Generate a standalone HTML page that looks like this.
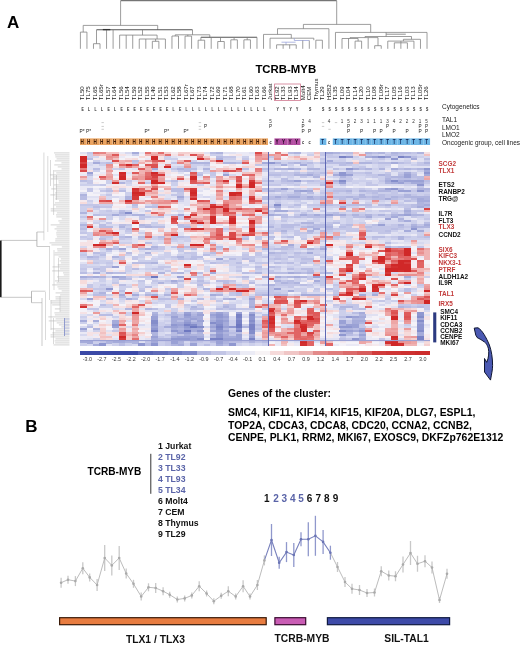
<!DOCTYPE html>
<html><head><meta charset="utf-8"><style>
html,body{margin:0;padding:0;background:#fff;}
svg{display:block;filter:blur(0.35px);font-family:"Liberation Sans",sans-serif;}
</style></head><body>
<svg width="520" height="646" viewBox="0 0 520 646">
<text x="7.00" y="27.70" font-size="17" font-weight="bold" fill="#000">A</text>
<text x="25.20" y="431.70" font-size="17" font-weight="bold" fill="#000">B</text>
<text transform="translate(83.80,100.2) rotate(-90) scale(1.2,1)" font-size="5.1" fill="#1a1a1a">TL50</text>
<text transform="translate(90.30,100.2) rotate(-90) scale(1.2,1)" font-size="5.1" fill="#1a1a1a">TL75</text>
<text transform="translate(96.80,100.2) rotate(-90) scale(1.2,1)" font-size="5.1" fill="#1a1a1a">TL65</text>
<text transform="translate(103.30,100.2) rotate(-90) scale(1.2,1)" font-size="5.1" fill="#1a1a1a">TL65r</text>
<text transform="translate(109.80,100.2) rotate(-90) scale(1.2,1)" font-size="5.1" fill="#1a1a1a">TL57</text>
<text transform="translate(116.30,100.2) rotate(-90) scale(1.2,1)" font-size="5.1" fill="#1a1a1a">TL64</text>
<text transform="translate(122.80,100.2) rotate(-90) scale(1.2,1)" font-size="5.1" fill="#1a1a1a">TL56</text>
<text transform="translate(129.30,100.2) rotate(-90) scale(1.2,1)" font-size="5.1" fill="#1a1a1a">TL54</text>
<text transform="translate(135.80,100.2) rotate(-90) scale(1.2,1)" font-size="5.1" fill="#1a1a1a">TL59</text>
<text transform="translate(142.30,100.2) rotate(-90) scale(1.2,1)" font-size="5.1" fill="#1a1a1a">TL52</text>
<text transform="translate(148.80,100.2) rotate(-90) scale(1.2,1)" font-size="5.1" fill="#1a1a1a">TL55</text>
<text transform="translate(155.30,100.2) rotate(-90) scale(1.2,1)" font-size="5.1" fill="#1a1a1a">TL49</text>
<text transform="translate(161.80,100.2) rotate(-90) scale(1.2,1)" font-size="5.1" fill="#1a1a1a">TL51</text>
<text transform="translate(168.30,100.2) rotate(-90) scale(1.2,1)" font-size="5.1" fill="#1a1a1a">TL53</text>
<text transform="translate(174.80,100.2) rotate(-90) scale(1.2,1)" font-size="5.1" fill="#1a1a1a">TL62</text>
<text transform="translate(181.30,100.2) rotate(-90) scale(1.2,1)" font-size="5.1" fill="#1a1a1a">TL58</text>
<text transform="translate(187.80,100.2) rotate(-90) scale(1.2,1)" font-size="5.1" fill="#1a1a1a">TL67r</text>
<text transform="translate(194.30,100.2) rotate(-90) scale(1.2,1)" font-size="5.1" fill="#1a1a1a">TL67</text>
<text transform="translate(200.80,100.2) rotate(-90) scale(1.2,1)" font-size="5.1" fill="#1a1a1a">TL73</text>
<text transform="translate(207.30,100.2) rotate(-90) scale(1.2,1)" font-size="5.1" fill="#1a1a1a">TL74</text>
<text transform="translate(213.80,100.2) rotate(-90) scale(1.2,1)" font-size="5.1" fill="#1a1a1a">TL72</text>
<text transform="translate(220.30,100.2) rotate(-90) scale(1.2,1)" font-size="5.1" fill="#1a1a1a">TL69</text>
<text transform="translate(226.80,100.2) rotate(-90) scale(1.2,1)" font-size="5.1" fill="#1a1a1a">TL71</text>
<text transform="translate(233.30,100.2) rotate(-90) scale(1.2,1)" font-size="5.1" fill="#1a1a1a">TL68</text>
<text transform="translate(239.80,100.2) rotate(-90) scale(1.2,1)" font-size="5.1" fill="#1a1a1a">TL70</text>
<text transform="translate(246.30,100.2) rotate(-90) scale(1.2,1)" font-size="5.1" fill="#1a1a1a">TL61</text>
<text transform="translate(252.80,100.2) rotate(-90) scale(1.2,1)" font-size="5.1" fill="#1a1a1a">TL60</text>
<text transform="translate(259.30,100.2) rotate(-90) scale(1.2,1)" font-size="5.1" fill="#1a1a1a">TL63</text>
<text transform="translate(265.80,100.2) rotate(-90) scale(1.2,1)" font-size="5.1" fill="#1a1a1a">TL66</text>
<text transform="translate(272.30,100.2) rotate(-90) scale(1.2,1)" font-size="5.1" fill="#1a1a1a">Jurkat</text>
<text transform="translate(278.80,100.2) rotate(-90) scale(1.2,1)" font-size="5.1" fill="#1a1a1a">TL92</text>
<text transform="translate(285.30,100.2) rotate(-90) scale(1.2,1)" font-size="5.1" fill="#1a1a1a">TL33</text>
<text transform="translate(291.80,100.2) rotate(-90) scale(1.2,1)" font-size="5.1" fill="#1a1a1a">TL93</text>
<text transform="translate(298.30,100.2) rotate(-90) scale(1.2,1)" font-size="5.1" fill="#1a1a1a">TL34</text>
<text transform="translate(304.80,100.2) rotate(-90) scale(1.2,1)" font-size="5.1" fill="#1a1a1a">Molt4</text>
<text transform="translate(311.30,100.2) rotate(-90) scale(1.2,1)" font-size="5.1" fill="#1a1a1a">CEM</text>
<text transform="translate(317.80,100.2) rotate(-90) scale(1.2,1)" font-size="5.1" fill="#1a1a1a">Thymus</text>
<text transform="translate(324.30,100.2) rotate(-90) scale(1.2,1)" font-size="5.1" fill="#1a1a1a">TL29</text>
<text transform="translate(330.80,100.2) rotate(-90) scale(1.2,1)" font-size="5.1" fill="#1a1a1a">HSB2</text>
<text transform="translate(337.30,100.2) rotate(-90) scale(1.2,1)" font-size="5.1" fill="#1a1a1a">TL35</text>
<text transform="translate(343.80,100.2) rotate(-90) scale(1.2,1)" font-size="5.1" fill="#1a1a1a">TL09</text>
<text transform="translate(350.30,100.2) rotate(-90) scale(1.2,1)" font-size="5.1" fill="#1a1a1a">TL04</text>
<text transform="translate(356.80,100.2) rotate(-90) scale(1.2,1)" font-size="5.1" fill="#1a1a1a">TL14</text>
<text transform="translate(363.30,100.2) rotate(-90) scale(1.2,1)" font-size="5.1" fill="#1a1a1a">TL20</text>
<text transform="translate(369.80,100.2) rotate(-90) scale(1.2,1)" font-size="5.1" fill="#1a1a1a">TL10</text>
<text transform="translate(376.30,100.2) rotate(-90) scale(1.2,1)" font-size="5.1" fill="#1a1a1a">TL08</text>
<text transform="translate(382.80,100.2) rotate(-90) scale(1.2,1)" font-size="5.1" fill="#1a1a1a">TL08r</text>
<text transform="translate(389.30,100.2) rotate(-90) scale(1.2,1)" font-size="5.1" fill="#1a1a1a">TL17</text>
<text transform="translate(395.80,100.2) rotate(-90) scale(1.2,1)" font-size="5.1" fill="#1a1a1a">TL05</text>
<text transform="translate(402.30,100.2) rotate(-90) scale(1.2,1)" font-size="5.1" fill="#1a1a1a">TL16</text>
<text transform="translate(408.80,100.2) rotate(-90) scale(1.2,1)" font-size="5.1" fill="#1a1a1a">TL03</text>
<text transform="translate(415.30,100.2) rotate(-90) scale(1.2,1)" font-size="5.1" fill="#1a1a1a">TL13</text>
<text transform="translate(421.80,100.2) rotate(-90) scale(1.2,1)" font-size="5.1" fill="#1a1a1a">TL05r</text>
<text transform="translate(428.30,100.2) rotate(-90) scale(1.2,1)" font-size="5.1" fill="#1a1a1a">TL26</text>
<rect x="274.6" y="84" width="25.8" height="16.6" fill="none" stroke="#d07890" stroke-width="0.8"/>
<text x="255.40" y="72.70" font-size="11.4" font-weight="bold" fill="#000">TCRB-MYB</text>
<text transform="translate(82.55,110.9) scale(0.72,1)" font-size="4.9" font-weight="bold" fill="#222" text-anchor="middle">E</text>
<text transform="translate(89.05,110.9) scale(0.72,1)" font-size="4.9" font-weight="bold" fill="#222" text-anchor="middle">L</text>
<text transform="translate(95.55,110.9) scale(0.72,1)" font-size="4.9" font-weight="bold" fill="#222" text-anchor="middle">L</text>
<text transform="translate(102.05,110.9) scale(0.72,1)" font-size="4.9" font-weight="bold" fill="#222" text-anchor="middle">L</text>
<text transform="translate(108.55,110.9) scale(0.72,1)" font-size="4.9" font-weight="bold" fill="#222" text-anchor="middle">E</text>
<text transform="translate(115.05,110.9) scale(0.72,1)" font-size="4.9" font-weight="bold" fill="#222" text-anchor="middle">L</text>
<text transform="translate(121.55,110.9) scale(0.72,1)" font-size="4.9" font-weight="bold" fill="#222" text-anchor="middle">E</text>
<text transform="translate(128.05,110.9) scale(0.72,1)" font-size="4.9" font-weight="bold" fill="#222" text-anchor="middle">E</text>
<text transform="translate(134.55,110.9) scale(0.72,1)" font-size="4.9" font-weight="bold" fill="#222" text-anchor="middle">E</text>
<text transform="translate(141.05,110.9) scale(0.72,1)" font-size="4.9" font-weight="bold" fill="#222" text-anchor="middle">E</text>
<text transform="translate(147.55,110.9) scale(0.72,1)" font-size="4.9" font-weight="bold" fill="#222" text-anchor="middle">E</text>
<text transform="translate(154.05,110.9) scale(0.72,1)" font-size="4.9" font-weight="bold" fill="#222" text-anchor="middle">E</text>
<text transform="translate(160.55,110.9) scale(0.72,1)" font-size="4.9" font-weight="bold" fill="#222" text-anchor="middle">E</text>
<text transform="translate(167.05,110.9) scale(0.72,1)" font-size="4.9" font-weight="bold" fill="#222" text-anchor="middle">E</text>
<text transform="translate(173.55,110.9) scale(0.72,1)" font-size="4.9" font-weight="bold" fill="#222" text-anchor="middle">L</text>
<text transform="translate(180.05,110.9) scale(0.72,1)" font-size="4.9" font-weight="bold" fill="#222" text-anchor="middle">E</text>
<text transform="translate(186.55,110.9) scale(0.72,1)" font-size="4.9" font-weight="bold" fill="#222" text-anchor="middle">L</text>
<text transform="translate(193.05,110.9) scale(0.72,1)" font-size="4.9" font-weight="bold" fill="#222" text-anchor="middle">L</text>
<text transform="translate(199.55,110.9) scale(0.72,1)" font-size="4.9" font-weight="bold" fill="#222" text-anchor="middle">L</text>
<text transform="translate(206.05,110.9) scale(0.72,1)" font-size="4.9" font-weight="bold" fill="#222" text-anchor="middle">L</text>
<text transform="translate(212.55,110.9) scale(0.72,1)" font-size="4.9" font-weight="bold" fill="#222" text-anchor="middle">L</text>
<text transform="translate(219.05,110.9) scale(0.72,1)" font-size="4.9" font-weight="bold" fill="#222" text-anchor="middle">L</text>
<text transform="translate(225.55,110.9) scale(0.72,1)" font-size="4.9" font-weight="bold" fill="#222" text-anchor="middle">L</text>
<text transform="translate(232.05,110.9) scale(0.72,1)" font-size="4.9" font-weight="bold" fill="#222" text-anchor="middle">L</text>
<text transform="translate(238.55,110.9) scale(0.72,1)" font-size="4.9" font-weight="bold" fill="#222" text-anchor="middle">L</text>
<text transform="translate(245.05,110.9) scale(0.72,1)" font-size="4.9" font-weight="bold" fill="#222" text-anchor="middle">L</text>
<text transform="translate(251.55,110.9) scale(0.72,1)" font-size="4.9" font-weight="bold" fill="#222" text-anchor="middle">L</text>
<text transform="translate(258.05,110.9) scale(0.72,1)" font-size="4.9" font-weight="bold" fill="#222" text-anchor="middle">L</text>
<text transform="translate(264.55,110.9) scale(0.72,1)" font-size="4.9" font-weight="bold" fill="#222" text-anchor="middle">L</text>
<text transform="translate(277.55,110.9) scale(0.72,1)" font-size="4.9" font-weight="bold" fill="#222" text-anchor="middle">Y</text>
<text transform="translate(284.05,110.9) scale(0.72,1)" font-size="4.9" font-weight="bold" fill="#222" text-anchor="middle">Y</text>
<text transform="translate(290.55,110.9) scale(0.72,1)" font-size="4.9" font-weight="bold" fill="#222" text-anchor="middle">Y</text>
<text transform="translate(297.05,110.9) scale(0.72,1)" font-size="4.9" font-weight="bold" fill="#222" text-anchor="middle">Y</text>
<text transform="translate(310.05,110.9) scale(0.72,1)" font-size="4.9" font-weight="bold" fill="#222" text-anchor="middle">S</text>
<text transform="translate(323.05,110.9) scale(0.72,1)" font-size="4.9" font-weight="bold" fill="#222" text-anchor="middle">S</text>
<text transform="translate(329.55,110.9) scale(0.72,1)" font-size="4.9" font-weight="bold" fill="#222" text-anchor="middle">S</text>
<text transform="translate(336.05,110.9) scale(0.72,1)" font-size="4.9" font-weight="bold" fill="#222" text-anchor="middle">S</text>
<text transform="translate(342.55,110.9) scale(0.72,1)" font-size="4.9" font-weight="bold" fill="#222" text-anchor="middle">S</text>
<text transform="translate(349.05,110.9) scale(0.72,1)" font-size="4.9" font-weight="bold" fill="#222" text-anchor="middle">S</text>
<text transform="translate(355.55,110.9) scale(0.72,1)" font-size="4.9" font-weight="bold" fill="#222" text-anchor="middle">S</text>
<text transform="translate(362.05,110.9) scale(0.72,1)" font-size="4.9" font-weight="bold" fill="#222" text-anchor="middle">S</text>
<text transform="translate(368.55,110.9) scale(0.72,1)" font-size="4.9" font-weight="bold" fill="#222" text-anchor="middle">S</text>
<text transform="translate(375.05,110.9) scale(0.72,1)" font-size="4.9" font-weight="bold" fill="#222" text-anchor="middle">S</text>
<text transform="translate(381.55,110.9) scale(0.72,1)" font-size="4.9" font-weight="bold" fill="#222" text-anchor="middle">S</text>
<text transform="translate(388.05,110.9) scale(0.72,1)" font-size="4.9" font-weight="bold" fill="#222" text-anchor="middle">S</text>
<text transform="translate(394.55,110.9) scale(0.72,1)" font-size="4.9" font-weight="bold" fill="#222" text-anchor="middle">S</text>
<text transform="translate(401.05,110.9) scale(0.72,1)" font-size="4.9" font-weight="bold" fill="#222" text-anchor="middle">S</text>
<text transform="translate(407.55,110.9) scale(0.72,1)" font-size="4.9" font-weight="bold" fill="#222" text-anchor="middle">S</text>
<text transform="translate(414.05,110.9) scale(0.72,1)" font-size="4.9" font-weight="bold" fill="#222" text-anchor="middle">S</text>
<text transform="translate(420.55,110.9) scale(0.72,1)" font-size="4.9" font-weight="bold" fill="#222" text-anchor="middle">S</text>
<text transform="translate(427.05,110.9) scale(0.72,1)" font-size="4.9" font-weight="bold" fill="#222" text-anchor="middle">S</text>
<text x="442.00" y="108.60" font-size="6.5" fill="#222">Cytogenetics</text>
<text x="442.00" y="122.10" font-size="6.5" fill="#222">TAL1</text>
<text x="442.00" y="129.60" font-size="6.5" fill="#222">LMO1</text>
<text x="442.00" y="136.90" font-size="6.5" fill="#222">LMO2</text>
<text x="442.00" y="144.60" font-size="6.5" fill="#222">Oncogenic group, cell lines</text>
<text x="270.55" y="123.00" font-size="4.6" fill="#333" text-anchor="middle">5</text>
<text x="303.05" y="123.00" font-size="4.6" fill="#333" text-anchor="middle">2</text>
<text x="309.55" y="123.00" font-size="4.6" fill="#333" text-anchor="middle">4</text>
<text x="342.05" y="123.00" font-size="4.6" fill="#333" text-anchor="middle">1</text>
<text x="348.55" y="123.00" font-size="4.6" fill="#333" text-anchor="middle">5</text>
<text x="355.05" y="123.00" font-size="4.6" fill="#333" text-anchor="middle">2</text>
<text x="361.55" y="123.00" font-size="4.6" fill="#333" text-anchor="middle">3</text>
<text x="368.05" y="123.00" font-size="4.6" fill="#333" text-anchor="middle">1</text>
<text x="374.55" y="123.00" font-size="4.6" fill="#333" text-anchor="middle">1</text>
<text x="381.05" y="123.00" font-size="4.6" fill="#333" text-anchor="middle">1</text>
<text x="387.55" y="123.00" font-size="4.6" fill="#333" text-anchor="middle">3</text>
<text x="394.05" y="123.00" font-size="4.6" fill="#333" text-anchor="middle">4</text>
<text x="400.55" y="123.00" font-size="4.6" fill="#333" text-anchor="middle">2</text>
<text x="407.05" y="123.00" font-size="4.6" fill="#333" text-anchor="middle">2</text>
<text x="413.55" y="123.00" font-size="4.6" fill="#333" text-anchor="middle">2</text>
<text x="420.05" y="123.00" font-size="4.6" fill="#333" text-anchor="middle">1</text>
<text x="426.55" y="123.00" font-size="4.6" fill="#333" text-anchor="middle">5</text>
<text x="329.05" y="123.00" font-size="4.6" fill="#333" text-anchor="middle">4</text>
<text x="270.55" y="128.20" font-size="4.6" fill="#222" text-anchor="middle">P</text>
<text x="303.05" y="128.20" font-size="4.6" fill="#222" text-anchor="middle">P</text>
<text x="348.55" y="128.20" font-size="4.6" fill="#222" text-anchor="middle">P</text>
<text x="387.55" y="128.20" font-size="4.6" fill="#222" text-anchor="middle">P</text>
<text x="420.05" y="128.20" font-size="4.6" fill="#222" text-anchor="middle">P</text>
<text x="426.55" y="128.20" font-size="4.6" fill="#222" text-anchor="middle">P</text>
<text x="205.55" y="128.20" font-size="4.6" fill="#222" text-anchor="middle">P</text>
<text x="82.05" y="132.60" font-size="4.8" fill="#222" text-anchor="middle">P*</text>
<text x="88.55" y="132.60" font-size="4.8" fill="#222" text-anchor="middle">P*</text>
<text x="147.05" y="132.60" font-size="4.8" fill="#222" text-anchor="middle">P*</text>
<text x="166.55" y="132.60" font-size="4.8" fill="#222" text-anchor="middle">P*</text>
<text x="186.05" y="132.60" font-size="4.8" fill="#222" text-anchor="middle">P*</text>
<text x="303.05" y="132.60" font-size="4.8" fill="#222" text-anchor="middle">P</text>
<text x="309.55" y="132.60" font-size="4.8" fill="#222" text-anchor="middle">P</text>
<text x="348.55" y="132.60" font-size="4.8" fill="#222" text-anchor="middle">P</text>
<text x="361.55" y="132.60" font-size="4.8" fill="#222" text-anchor="middle">P</text>
<text x="374.55" y="132.60" font-size="4.8" fill="#222" text-anchor="middle">P</text>
<text x="381.05" y="132.60" font-size="4.8" fill="#222" text-anchor="middle">P</text>
<text x="394.05" y="132.60" font-size="4.8" fill="#222" text-anchor="middle">P</text>
<text x="407.05" y="132.60" font-size="4.8" fill="#222" text-anchor="middle">P</text>
<text x="420.05" y="132.60" font-size="4.8" fill="#222" text-anchor="middle">P</text>
<text x="426.55" y="132.60" font-size="4.8" fill="#222" text-anchor="middle">P</text>
<line x1="101.49" y1="122.60" x2="103.89" y2="122.60" stroke="#999" stroke-width="0.5"/>
<line x1="101.49" y1="126.40" x2="103.89" y2="126.40" stroke="#999" stroke-width="0.5"/>
<line x1="101.49" y1="129.30" x2="103.89" y2="129.30" stroke="#999" stroke-width="0.5"/>
<line x1="198.71" y1="122.60" x2="201.11" y2="122.60" stroke="#999" stroke-width="0.5"/>
<line x1="198.71" y1="126.40" x2="201.11" y2="126.40" stroke="#999" stroke-width="0.5"/>
<line x1="198.71" y1="129.30" x2="201.11" y2="129.30" stroke="#999" stroke-width="0.5"/>
<line x1="334.82" y1="122.60" x2="337.22" y2="122.60" stroke="#999" stroke-width="0.5"/>
<line x1="328.34" y1="129.30" x2="330.74" y2="129.30" stroke="#999" stroke-width="0.5"/>
<line x1="321.86" y1="122.60" x2="324.26" y2="122.60" stroke="#999" stroke-width="0.5"/>
<line x1="321.86" y1="126.40" x2="324.26" y2="126.40" stroke="#999" stroke-width="0.5"/>
<rect x="80.00" y="138.40" width="6.53" height="6.60" fill="#eba461"/>
<rect x="86.48" y="138.40" width="6.53" height="6.60" fill="#eba461"/>
<rect x="92.96" y="138.40" width="6.53" height="6.60" fill="#eba461"/>
<rect x="99.44" y="138.40" width="6.53" height="6.60" fill="#eba461"/>
<rect x="105.93" y="138.40" width="6.53" height="6.60" fill="#eba461"/>
<rect x="112.41" y="138.40" width="6.53" height="6.60" fill="#eba461"/>
<rect x="118.89" y="138.40" width="6.53" height="6.60" fill="#eba461"/>
<rect x="125.37" y="138.40" width="6.53" height="6.60" fill="#eba461"/>
<rect x="131.85" y="138.40" width="6.53" height="6.60" fill="#eba461"/>
<rect x="138.33" y="138.40" width="6.53" height="6.60" fill="#eba461"/>
<rect x="144.81" y="138.40" width="6.53" height="6.60" fill="#eba461"/>
<rect x="151.30" y="138.40" width="6.53" height="6.60" fill="#eba461"/>
<rect x="157.78" y="138.40" width="6.53" height="6.60" fill="#eba461"/>
<rect x="164.26" y="138.40" width="6.53" height="6.60" fill="#eba461"/>
<rect x="170.74" y="138.40" width="6.53" height="6.60" fill="#eba461"/>
<rect x="177.22" y="138.40" width="6.53" height="6.60" fill="#eba461"/>
<rect x="183.70" y="138.40" width="6.53" height="6.60" fill="#eba461"/>
<rect x="190.19" y="138.40" width="6.53" height="6.60" fill="#eba461"/>
<rect x="196.67" y="138.40" width="6.53" height="6.60" fill="#eba461"/>
<rect x="203.15" y="138.40" width="6.53" height="6.60" fill="#eba461"/>
<rect x="209.63" y="138.40" width="6.53" height="6.60" fill="#eba461"/>
<rect x="216.11" y="138.40" width="6.53" height="6.60" fill="#eba461"/>
<rect x="222.59" y="138.40" width="6.53" height="6.60" fill="#eba461"/>
<rect x="229.07" y="138.40" width="6.53" height="6.60" fill="#eba461"/>
<rect x="235.56" y="138.40" width="6.53" height="6.60" fill="#eba461"/>
<rect x="242.04" y="138.40" width="6.53" height="6.60" fill="#eba461"/>
<rect x="248.52" y="138.40" width="6.53" height="6.60" fill="#eba461"/>
<rect x="255.00" y="138.40" width="6.53" height="6.60" fill="#eba461"/>
<rect x="261.48" y="138.40" width="6.53" height="6.60" fill="#eba461"/>
<rect x="274.44" y="138.40" width="6.53" height="6.60" fill="#b34fa2"/>
<rect x="280.93" y="138.40" width="6.53" height="6.60" fill="#b34fa2"/>
<rect x="287.41" y="138.40" width="6.53" height="6.60" fill="#b34fa2"/>
<rect x="293.89" y="138.40" width="6.53" height="6.60" fill="#b34fa2"/>
<rect x="319.81" y="138.40" width="6.53" height="6.60" fill="#6db6e6"/>
<rect x="332.78" y="138.40" width="6.53" height="6.60" fill="#6db6e6"/>
<rect x="339.26" y="138.40" width="6.53" height="6.60" fill="#6db6e6"/>
<rect x="345.74" y="138.40" width="6.53" height="6.60" fill="#6db6e6"/>
<rect x="352.22" y="138.40" width="6.53" height="6.60" fill="#6db6e6"/>
<rect x="358.70" y="138.40" width="6.53" height="6.60" fill="#6db6e6"/>
<rect x="365.19" y="138.40" width="6.53" height="6.60" fill="#6db6e6"/>
<rect x="371.67" y="138.40" width="6.53" height="6.60" fill="#6db6e6"/>
<rect x="378.15" y="138.40" width="6.53" height="6.60" fill="#6db6e6"/>
<rect x="384.63" y="138.40" width="6.53" height="6.60" fill="#6db6e6"/>
<rect x="391.11" y="138.40" width="6.53" height="6.60" fill="#6db6e6"/>
<rect x="397.59" y="138.40" width="6.53" height="6.60" fill="#6db6e6"/>
<rect x="404.07" y="138.40" width="6.53" height="6.60" fill="#6db6e6"/>
<rect x="410.56" y="138.40" width="6.53" height="6.60" fill="#6db6e6"/>
<rect x="417.04" y="138.40" width="6.53" height="6.60" fill="#6db6e6"/>
<rect x="423.52" y="138.40" width="6.53" height="6.60" fill="#6db6e6"/>
<text transform="translate(82.05,144.4) scale(0.7,1)" font-size="6.6" font-weight="bold" fill="#3a1a05" text-anchor="middle">H</text>
<text transform="translate(88.55,144.4) scale(0.7,1)" font-size="6.6" font-weight="bold" fill="#3a1a05" text-anchor="middle">H</text>
<text transform="translate(95.05,144.4) scale(0.7,1)" font-size="6.6" font-weight="bold" fill="#3a1a05" text-anchor="middle">H</text>
<text transform="translate(101.55,144.4) scale(0.7,1)" font-size="6.6" font-weight="bold" fill="#3a1a05" text-anchor="middle">H</text>
<text transform="translate(108.05,144.4) scale(0.7,1)" font-size="6.6" font-weight="bold" fill="#3a1a05" text-anchor="middle">H</text>
<text transform="translate(114.55,144.4) scale(0.7,1)" font-size="6.6" font-weight="bold" fill="#3a1a05" text-anchor="middle">H</text>
<text transform="translate(121.05,144.4) scale(0.7,1)" font-size="6.6" font-weight="bold" fill="#3a1a05" text-anchor="middle">H</text>
<text transform="translate(127.55,144.4) scale(0.7,1)" font-size="6.6" font-weight="bold" fill="#3a1a05" text-anchor="middle">H</text>
<text transform="translate(134.05,144.4) scale(0.7,1)" font-size="6.6" font-weight="bold" fill="#3a1a05" text-anchor="middle">H</text>
<text transform="translate(140.55,144.4) scale(0.7,1)" font-size="6.6" font-weight="bold" fill="#3a1a05" text-anchor="middle">H</text>
<text transform="translate(147.05,144.4) scale(0.7,1)" font-size="6.6" font-weight="bold" fill="#3a1a05" text-anchor="middle">H</text>
<text transform="translate(153.55,144.4) scale(0.7,1)" font-size="6.6" font-weight="bold" fill="#3a1a05" text-anchor="middle">H</text>
<text transform="translate(160.05,144.4) scale(0.7,1)" font-size="6.6" font-weight="bold" fill="#3a1a05" text-anchor="middle">H</text>
<text transform="translate(166.55,144.4) scale(0.7,1)" font-size="6.6" font-weight="bold" fill="#3a1a05" text-anchor="middle">H</text>
<text transform="translate(173.05,144.4) scale(0.7,1)" font-size="6.6" font-weight="bold" fill="#3a1a05" text-anchor="middle">H</text>
<text transform="translate(179.55,144.4) scale(0.7,1)" font-size="6.6" font-weight="bold" fill="#3a1a05" text-anchor="middle">H</text>
<text transform="translate(186.05,144.4) scale(0.7,1)" font-size="6.6" font-weight="bold" fill="#3a1a05" text-anchor="middle">H</text>
<text transform="translate(192.55,144.4) scale(0.7,1)" font-size="6.6" font-weight="bold" fill="#3a1a05" text-anchor="middle">H</text>
<text transform="translate(199.05,144.4) scale(0.7,1)" font-size="6.6" font-weight="bold" fill="#3a1a05" text-anchor="middle">H</text>
<text transform="translate(205.55,144.4) scale(0.7,1)" font-size="6.6" font-weight="bold" fill="#3a1a05" text-anchor="middle">H</text>
<text transform="translate(212.05,144.4) scale(0.7,1)" font-size="6.6" font-weight="bold" fill="#3a1a05" text-anchor="middle">H</text>
<text transform="translate(218.55,144.4) scale(0.7,1)" font-size="6.6" font-weight="bold" fill="#3a1a05" text-anchor="middle">H</text>
<text transform="translate(225.05,144.4) scale(0.7,1)" font-size="6.6" font-weight="bold" fill="#3a1a05" text-anchor="middle">H</text>
<text transform="translate(231.55,144.4) scale(0.7,1)" font-size="6.6" font-weight="bold" fill="#3a1a05" text-anchor="middle">H</text>
<text transform="translate(238.05,144.4) scale(0.7,1)" font-size="6.6" font-weight="bold" fill="#3a1a05" text-anchor="middle">H</text>
<text transform="translate(244.55,144.4) scale(0.7,1)" font-size="6.6" font-weight="bold" fill="#3a1a05" text-anchor="middle">H</text>
<text transform="translate(251.05,144.4) scale(0.7,1)" font-size="6.6" font-weight="bold" fill="#3a1a05" text-anchor="middle">H</text>
<text transform="translate(257.55,144.4) scale(0.7,1)" font-size="6.6" font-weight="bold" fill="#3a1a05" text-anchor="middle">H</text>
<text transform="translate(264.05,144.4) scale(0.7,1)" font-size="6.6" font-weight="bold" fill="#3a1a05" text-anchor="middle">H</text>
<text transform="translate(270.55,144.4) scale(0.7,1)" font-size="5.6" font-weight="bold" fill="#333" text-anchor="middle">c</text>
<text transform="translate(277.05,144.4) scale(0.7,1)" font-size="6.6" font-weight="bold" fill="#2a0828" text-anchor="middle">Y</text>
<text transform="translate(283.55,144.4) scale(0.7,1)" font-size="6.6" font-weight="bold" fill="#2a0828" text-anchor="middle">Y</text>
<text transform="translate(290.05,144.4) scale(0.7,1)" font-size="6.6" font-weight="bold" fill="#2a0828" text-anchor="middle">Y</text>
<text transform="translate(296.55,144.4) scale(0.7,1)" font-size="6.6" font-weight="bold" fill="#2a0828" text-anchor="middle">Y</text>
<text transform="translate(303.05,144.4) scale(0.7,1)" font-size="5.6" font-weight="bold" fill="#333" text-anchor="middle">c</text>
<text transform="translate(309.55,144.4) scale(0.7,1)" font-size="5.6" font-weight="bold" fill="#333" text-anchor="middle">c</text>
<text transform="translate(322.55,144.4) scale(0.7,1)" font-size="6.6" font-weight="bold" fill="#0a2050" text-anchor="middle">T</text>
<text transform="translate(329.05,144.4) scale(0.7,1)" font-size="5.6" font-weight="bold" fill="#333" text-anchor="middle">c</text>
<text transform="translate(335.55,144.4) scale(0.7,1)" font-size="6.6" font-weight="bold" fill="#0a2050" text-anchor="middle">T</text>
<text transform="translate(342.05,144.4) scale(0.7,1)" font-size="6.6" font-weight="bold" fill="#0a2050" text-anchor="middle">T</text>
<text transform="translate(348.55,144.4) scale(0.7,1)" font-size="6.6" font-weight="bold" fill="#0a2050" text-anchor="middle">T</text>
<text transform="translate(355.05,144.4) scale(0.7,1)" font-size="6.6" font-weight="bold" fill="#0a2050" text-anchor="middle">T</text>
<text transform="translate(361.55,144.4) scale(0.7,1)" font-size="6.6" font-weight="bold" fill="#0a2050" text-anchor="middle">T</text>
<text transform="translate(368.05,144.4) scale(0.7,1)" font-size="6.6" font-weight="bold" fill="#0a2050" text-anchor="middle">T</text>
<text transform="translate(374.55,144.4) scale(0.7,1)" font-size="6.6" font-weight="bold" fill="#0a2050" text-anchor="middle">T</text>
<text transform="translate(381.05,144.4) scale(0.7,1)" font-size="6.6" font-weight="bold" fill="#0a2050" text-anchor="middle">T</text>
<text transform="translate(387.55,144.4) scale(0.7,1)" font-size="6.6" font-weight="bold" fill="#0a2050" text-anchor="middle">T</text>
<text transform="translate(394.05,144.4) scale(0.7,1)" font-size="6.6" font-weight="bold" fill="#0a2050" text-anchor="middle">T</text>
<text transform="translate(400.55,144.4) scale(0.7,1)" font-size="6.6" font-weight="bold" fill="#0a2050" text-anchor="middle">T</text>
<text transform="translate(407.05,144.4) scale(0.7,1)" font-size="6.6" font-weight="bold" fill="#0a2050" text-anchor="middle">T</text>
<text transform="translate(413.55,144.4) scale(0.7,1)" font-size="6.6" font-weight="bold" fill="#0a2050" text-anchor="middle">T</text>
<text transform="translate(420.05,144.4) scale(0.7,1)" font-size="6.6" font-weight="bold" fill="#0a2050" text-anchor="middle">T</text>
<text transform="translate(426.55,144.4) scale(0.7,1)" font-size="6.6" font-weight="bold" fill="#0a2050" text-anchor="middle">T</text>
<g shape-rendering="crispEdges">
<path fill="#e0e1f2" d="M80.0 152.00h6.8v2.3h-6.8zM203.1 152.00h6.8v2.3h-6.8zM222.6 152.00h13.3v2.3h-13.3zM248.5 152.00h6.8v2.3h-6.8zM300.4 152.00h6.8v2.3h-6.8zM287.4 154.00h6.8v2.3h-6.8zM170.7 156.00h6.8v2.3h-6.8zM358.7 156.00h6.8v2.3h-6.8zM345.7 158.00h6.8v2.3h-6.8zM397.6 158.00h6.8v2.3h-6.8zM417.0 158.00h6.8v2.3h-6.8zM99.4 160.00h13.3v2.3h-13.3zM170.7 160.00h6.8v2.3h-6.8zM203.1 160.00h6.8v2.3h-6.8zM268.0 160.00h6.8v2.3h-6.8zM345.7 160.00h6.8v2.3h-6.8zM384.6 160.00h6.8v2.3h-6.8zM417.0 160.00h6.8v2.3h-6.8zM93.0 164.00h6.8v2.3h-6.8zM170.7 164.00h13.3v2.3h-13.3zM313.3 164.00h6.8v2.3h-6.8zM365.2 164.00h6.8v2.3h-6.8zM86.5 166.00h19.7v2.3h-19.7zM196.7 166.00h6.8v2.3h-6.8zM261.5 166.00h6.8v2.3h-6.8zM274.4 166.00h6.8v2.3h-6.8zM293.9 166.00h6.8v2.3h-6.8zM313.3 166.00h6.8v2.3h-6.8zM332.8 166.00h19.7v2.3h-19.7zM365.2 166.00h6.8v2.3h-6.8zM404.1 166.00h26.2v2.3h-26.2zM86.5 168.00h6.8v2.3h-6.8zM99.4 168.00h6.8v2.3h-6.8zM131.9 168.00h6.8v2.3h-6.8zM164.3 168.00h6.8v2.3h-6.8zM196.7 168.00h6.8v2.3h-6.8zM326.3 168.00h6.8v2.3h-6.8zM384.6 168.00h6.8v2.3h-6.8zM242.0 170.00h6.8v2.3h-6.8zM332.8 170.00h13.3v2.3h-13.3zM352.2 170.00h13.3v2.3h-13.3zM378.1 170.00h6.8v2.3h-6.8zM410.6 170.00h6.8v2.3h-6.8zM125.4 172.00h6.8v2.3h-6.8zM177.2 172.00h6.8v2.3h-6.8zM391.1 172.00h6.8v2.3h-6.8zM417.0 172.00h6.8v2.3h-6.8zM112.4 174.00h6.8v2.3h-6.8zM391.1 174.00h6.8v2.3h-6.8zM196.7 176.00h6.8v2.3h-6.8zM261.5 176.00h6.8v2.3h-6.8zM280.9 176.00h6.8v2.3h-6.8zM293.9 176.00h6.8v2.3h-6.8zM268.0 178.00h13.3v2.3h-13.3zM293.9 178.00h6.8v2.3h-6.8zM313.3 178.00h6.8v2.3h-6.8zM332.8 178.00h6.8v2.3h-6.8zM352.2 178.00h6.8v2.3h-6.8zM371.7 178.00h6.8v2.3h-6.8zM131.9 180.00h6.8v2.3h-6.8zM177.2 180.00h6.8v2.3h-6.8zM209.6 180.00h6.8v2.3h-6.8zM209.6 184.00h6.8v2.3h-6.8zM352.2 184.00h6.8v2.3h-6.8zM170.7 186.00h6.8v2.3h-6.8zM332.8 186.00h13.3v2.3h-13.3zM404.1 186.00h6.8v2.3h-6.8zM203.1 188.00h6.8v2.3h-6.8zM371.7 188.00h6.8v2.3h-6.8zM157.8 190.00h6.8v2.3h-6.8zM196.7 190.00h6.8v2.3h-6.8zM222.6 190.00h6.8v2.3h-6.8zM170.7 192.00h6.8v2.3h-6.8zM274.4 192.00h6.8v2.3h-6.8zM313.3 192.00h6.8v2.3h-6.8zM164.3 194.00h6.8v2.3h-6.8zM196.7 194.00h6.8v2.3h-6.8zM86.5 196.00h13.3v2.3h-13.3zM118.9 196.00h6.8v2.3h-6.8zM144.8 196.00h6.8v2.3h-6.8zM164.3 196.00h13.3v2.3h-13.3zM196.7 196.00h6.8v2.3h-6.8zM209.6 196.00h6.8v2.3h-6.8zM118.9 198.00h6.8v2.3h-6.8zM183.7 198.00h6.8v2.3h-6.8zM209.6 198.00h6.8v2.3h-6.8zM222.6 198.00h6.8v2.3h-6.8zM183.7 200.00h6.8v2.3h-6.8zM209.6 200.00h6.8v2.3h-6.8zM261.5 200.00h6.8v2.3h-6.8zM300.4 200.00h13.3v2.3h-13.3zM358.7 200.00h6.8v2.3h-6.8zM177.2 202.00h13.3v2.3h-13.3zM287.4 202.00h6.8v2.3h-6.8zM384.6 202.00h6.8v2.3h-6.8zM404.1 202.00h13.3v2.3h-13.3zM183.7 204.00h6.8v2.3h-6.8zM242.0 204.00h6.8v2.3h-6.8zM300.4 204.00h6.8v2.3h-6.8zM371.7 204.00h6.8v2.3h-6.8zM125.4 206.00h6.8v2.3h-6.8zM358.7 206.00h6.8v2.3h-6.8zM105.9 208.00h6.8v2.3h-6.8zM138.3 208.00h6.8v2.3h-6.8zM293.9 208.00h6.8v2.3h-6.8zM306.9 208.00h6.8v2.3h-6.8zM319.8 208.00h6.8v2.3h-6.8zM332.8 208.00h6.8v2.3h-6.8zM391.1 208.00h6.8v2.3h-6.8zM417.0 208.00h6.8v2.3h-6.8zM93.0 210.00h6.8v2.3h-6.8zM138.3 210.00h6.8v2.3h-6.8zM170.7 210.00h6.8v2.3h-6.8zM326.3 210.00h13.3v2.3h-13.3zM86.5 212.00h6.8v2.3h-6.8zM131.9 212.00h6.8v2.3h-6.8zM177.2 212.00h6.8v2.3h-6.8zM274.4 212.00h13.3v2.3h-13.3zM313.3 212.00h13.3v2.3h-13.3zM384.6 212.00h6.8v2.3h-6.8zM417.0 212.00h6.8v2.3h-6.8zM183.7 214.00h6.8v2.3h-6.8zM255.0 214.00h6.8v2.3h-6.8zM261.5 216.00h6.8v2.3h-6.8zM404.1 216.00h6.8v2.3h-6.8zM144.8 218.00h13.3v2.3h-13.3zM306.9 218.00h6.8v2.3h-6.8zM352.2 218.00h6.8v2.3h-6.8zM371.7 218.00h6.8v2.3h-6.8zM391.1 218.00h6.8v2.3h-6.8zM404.1 218.00h6.8v2.3h-6.8zM80.0 220.00h6.8v2.3h-6.8zM293.9 220.00h13.3v2.3h-13.3zM417.0 220.00h6.8v2.3h-6.8zM99.4 222.00h6.8v2.3h-6.8zM287.4 222.00h6.8v2.3h-6.8zM417.0 222.00h6.8v2.3h-6.8zM216.1 224.00h6.8v2.3h-6.8zM93.0 226.00h6.8v2.3h-6.8zM112.4 226.00h6.8v2.3h-6.8zM222.6 226.00h6.8v2.3h-6.8zM261.5 226.00h6.8v2.3h-6.8zM332.8 226.00h6.8v2.3h-6.8zM118.9 230.00h6.8v2.3h-6.8zM138.3 230.00h6.8v2.3h-6.8zM255.0 230.00h13.3v2.3h-13.3zM397.6 230.00h6.8v2.3h-6.8zM118.9 232.00h6.8v2.3h-6.8zM177.2 232.00h6.8v2.3h-6.8zM203.1 232.00h6.8v2.3h-6.8zM365.2 232.00h13.3v2.3h-13.3zM391.1 232.00h6.8v2.3h-6.8zM138.3 234.00h6.8v2.3h-6.8zM177.2 234.00h6.8v2.3h-6.8zM268.0 234.00h6.8v2.3h-6.8zM287.4 234.00h6.8v2.3h-6.8zM306.9 234.00h13.3v2.3h-13.3zM326.3 234.00h6.8v2.3h-6.8zM339.3 234.00h6.8v2.3h-6.8zM365.2 234.00h19.7v2.3h-19.7zM391.1 234.00h19.7v2.3h-19.7zM112.4 236.00h6.8v2.3h-6.8zM261.5 236.00h6.8v2.3h-6.8zM306.9 236.00h6.8v2.3h-6.8zM131.9 238.00h6.8v2.3h-6.8zM280.9 238.00h6.8v2.3h-6.8zM131.9 240.00h6.8v2.3h-6.8zM144.8 240.00h13.3v2.3h-13.3zM345.7 240.00h6.8v2.3h-6.8zM358.7 240.00h6.8v2.3h-6.8zM378.1 240.00h6.8v2.3h-6.8zM417.0 240.00h13.3v2.3h-13.3zM131.9 242.00h6.8v2.3h-6.8zM170.7 242.00h6.8v2.3h-6.8zM183.7 242.00h6.8v2.3h-6.8zM268.0 242.00h6.8v2.3h-6.8zM319.8 242.00h6.8v2.3h-6.8zM345.7 242.00h6.8v2.3h-6.8zM378.1 242.00h6.8v2.3h-6.8zM397.6 242.00h13.3v2.3h-13.3zM423.5 242.00h6.8v2.3h-6.8zM183.7 244.00h6.8v2.3h-6.8zM216.1 244.00h6.8v2.3h-6.8zM319.8 244.00h6.8v2.3h-6.8zM384.6 244.00h6.8v2.3h-6.8zM417.0 244.00h6.8v2.3h-6.8zM164.3 246.00h6.8v2.3h-6.8zM313.3 246.00h6.8v2.3h-6.8zM352.2 246.00h6.8v2.3h-6.8zM164.3 248.00h13.3v2.3h-13.3zM203.1 248.00h6.8v2.3h-6.8zM339.3 248.00h6.8v2.3h-6.8zM358.7 248.00h13.3v2.3h-13.3zM144.8 250.00h6.8v2.3h-6.8zM190.2 250.00h6.8v2.3h-6.8zM216.1 250.00h6.8v2.3h-6.8zM274.4 250.00h6.8v2.3h-6.8zM300.4 250.00h6.8v2.3h-6.8zM105.9 252.00h6.8v2.3h-6.8zM138.3 252.00h6.8v2.3h-6.8zM410.6 252.00h6.8v2.3h-6.8zM332.8 254.00h6.8v2.3h-6.8zM209.6 256.00h13.3v2.3h-13.3zM222.6 258.00h6.8v2.3h-6.8zM261.5 258.00h6.8v2.3h-6.8zM287.4 258.00h6.8v2.3h-6.8zM261.5 260.00h6.8v2.3h-6.8zM80.0 262.00h6.8v2.3h-6.8zM112.4 262.00h6.8v2.3h-6.8zM99.4 264.00h6.8v2.3h-6.8zM151.3 264.00h6.8v2.3h-6.8zM164.3 264.00h6.8v2.3h-6.8zM274.4 264.00h13.3v2.3h-13.3zM319.8 264.00h6.8v2.3h-6.8zM190.2 266.00h6.8v2.3h-6.8zM177.2 268.00h19.7v2.3h-19.7zM280.9 268.00h6.8v2.3h-6.8zM378.1 268.00h6.8v2.3h-6.8zM131.9 270.00h13.3v2.3h-13.3zM280.9 270.00h6.8v2.3h-6.8zM131.9 272.00h6.8v2.3h-6.8zM183.7 272.00h6.8v2.3h-6.8zM216.1 272.00h13.3v2.3h-13.3zM235.6 272.00h6.8v2.3h-6.8zM378.1 272.00h6.8v2.3h-6.8zM423.5 272.00h6.8v2.3h-6.8zM196.7 274.00h6.8v2.3h-6.8zM306.9 274.00h6.8v2.3h-6.8zM157.8 276.00h19.7v2.3h-19.7zM203.1 276.00h6.8v2.3h-6.8zM248.5 276.00h6.8v2.3h-6.8zM345.7 276.00h6.8v2.3h-6.8zM365.2 276.00h6.8v2.3h-6.8zM378.1 276.00h6.8v2.3h-6.8zM164.3 278.00h6.8v2.3h-6.8zM261.5 278.00h6.8v2.3h-6.8zM300.4 278.00h6.8v2.3h-6.8zM378.1 278.00h6.8v2.3h-6.8zM105.9 280.00h6.8v2.3h-6.8zM131.9 280.00h6.8v2.3h-6.8zM332.8 280.00h6.8v2.3h-6.8zM105.9 282.00h6.8v2.3h-6.8zM209.6 282.00h6.8v2.3h-6.8zM235.6 282.00h6.8v2.3h-6.8zM306.9 282.00h6.8v2.3h-6.8zM391.1 282.00h6.8v2.3h-6.8zM144.8 284.00h6.8v2.3h-6.8zM216.1 284.00h6.8v2.3h-6.8zM151.3 286.00h6.8v2.3h-6.8zM255.0 286.00h13.3v2.3h-13.3zM293.9 286.00h6.8v2.3h-6.8zM313.3 286.00h6.8v2.3h-6.8zM196.7 288.00h6.8v2.3h-6.8zM378.1 288.00h13.3v2.3h-13.3zM177.2 294.00h6.8v2.3h-6.8zM222.6 294.00h6.8v2.3h-6.8zM397.6 294.00h6.8v2.3h-6.8zM105.9 296.00h6.8v2.3h-6.8zM125.4 296.00h6.8v2.3h-6.8zM196.7 296.00h6.8v2.3h-6.8zM190.2 298.00h6.8v2.3h-6.8zM261.5 298.00h6.8v2.3h-6.8zM345.7 298.00h6.8v2.3h-6.8zM86.5 300.00h6.8v2.3h-6.8zM229.1 300.00h6.8v2.3h-6.8zM242.0 300.00h6.8v2.3h-6.8zM268.0 300.00h6.8v2.3h-6.8zM345.7 300.00h6.8v2.3h-6.8zM99.4 302.00h6.8v2.3h-6.8zM118.9 302.00h6.8v2.3h-6.8zM138.3 302.00h6.8v2.3h-6.8zM216.1 302.00h6.8v2.3h-6.8zM242.0 302.00h6.8v2.3h-6.8zM326.3 302.00h6.8v2.3h-6.8zM371.7 302.00h6.8v2.3h-6.8zM209.6 304.00h6.8v2.3h-6.8zM280.9 306.00h6.8v2.3h-6.8zM306.9 306.00h6.8v2.3h-6.8zM391.1 306.00h6.8v2.3h-6.8zM118.9 308.00h6.8v2.3h-6.8zM138.3 308.00h6.8v2.3h-6.8zM164.3 308.00h6.8v2.3h-6.8zM209.6 308.00h6.8v2.3h-6.8zM300.4 308.00h6.8v2.3h-6.8zM326.3 308.00h13.3v2.3h-13.3zM345.7 308.00h6.8v2.3h-6.8zM378.1 308.00h6.8v2.3h-6.8zM144.8 310.00h13.3v2.3h-13.3zM183.7 310.00h6.8v2.3h-6.8zM222.6 310.00h13.3v2.3h-13.3zM242.0 310.00h13.3v2.3h-13.3zM99.4 312.00h6.8v2.3h-6.8zM157.8 312.00h6.8v2.3h-6.8zM261.5 312.00h6.8v2.3h-6.8zM319.8 312.00h6.8v2.3h-6.8zM80.0 314.00h6.8v2.3h-6.8zM242.0 314.00h6.8v2.3h-6.8zM255.0 314.00h6.8v2.3h-6.8zM332.8 314.00h6.8v2.3h-6.8zM365.2 314.00h13.3v2.3h-13.3zM423.5 314.00h6.8v2.3h-6.8zM93.0 316.00h6.8v2.3h-6.8zM332.8 316.00h6.8v2.3h-6.8zM112.4 318.00h6.8v2.3h-6.8zM157.8 318.00h6.8v2.3h-6.8zM255.0 318.00h6.8v2.3h-6.8zM125.4 320.00h6.8v2.3h-6.8zM371.7 320.00h6.8v2.3h-6.8zM397.6 320.00h6.8v2.3h-6.8zM280.9 324.00h13.3v2.3h-13.3zM332.8 324.00h6.8v2.3h-6.8zM371.7 324.00h6.8v2.3h-6.8zM397.6 324.00h6.8v2.3h-6.8zM423.5 324.00h6.8v2.3h-6.8zM280.9 326.00h6.8v2.3h-6.8zM365.2 326.00h6.8v2.3h-6.8zM397.6 326.00h6.8v2.3h-6.8zM410.6 326.00h6.8v2.3h-6.8zM105.9 330.00h6.8v2.3h-6.8zM306.9 330.00h6.8v2.3h-6.8zM164.3 332.00h6.8v2.3h-6.8zM105.9 334.00h6.8v2.3h-6.8zM242.0 334.00h6.8v2.3h-6.8zM397.6 334.00h6.8v2.3h-6.8zM203.1 336.00h6.8v2.3h-6.8zM86.5 338.00h6.8v2.3h-6.8zM112.4 338.00h6.8v2.3h-6.8zM144.8 338.00h6.8v2.3h-6.8zM268.0 338.00h6.8v2.3h-6.8zM326.3 338.00h13.3v2.3h-13.3zM384.6 338.00h6.8v2.3h-6.8zM138.3 341.00h6.8v2.55h-6.8zM293.9 341.00h6.8v2.55h-6.8zM313.3 341.00h6.8v2.55h-6.8zM417.0 341.00h6.8v2.55h-6.8zM105.9 343.25h6.8v2.55h-6.8z"/>
<path fill="#c3c6e7" d="M86.5 152.00h6.8v2.3h-6.8zM319.8 152.00h6.8v2.3h-6.8zM410.6 152.00h6.8v2.3h-6.8zM319.8 154.00h13.3v2.3h-13.3zM365.2 154.00h6.8v2.3h-6.8zM384.6 154.00h6.8v2.3h-6.8zM397.6 154.00h6.8v2.3h-6.8zM222.6 156.00h13.3v2.3h-13.3zM268.0 156.00h6.8v2.3h-6.8zM326.3 156.00h13.3v2.3h-13.3zM242.0 158.00h6.8v2.3h-6.8zM319.8 158.00h6.8v2.3h-6.8zM378.1 158.00h6.8v2.3h-6.8zM99.4 162.00h6.8v2.3h-6.8zM131.9 162.00h6.8v2.3h-6.8zM170.7 162.00h6.8v2.3h-6.8zM300.4 162.00h6.8v2.3h-6.8zM371.7 162.00h6.8v2.3h-6.8zM404.1 162.00h6.8v2.3h-6.8zM417.0 162.00h6.8v2.3h-6.8zM203.1 164.00h6.8v2.3h-6.8zM255.0 164.00h6.8v2.3h-6.8zM345.7 164.00h6.8v2.3h-6.8zM417.0 164.00h13.3v2.3h-13.3zM358.7 166.00h6.8v2.3h-6.8zM118.9 168.00h6.8v2.3h-6.8zM170.7 168.00h6.8v2.3h-6.8zM268.0 168.00h6.8v2.3h-6.8zM177.2 170.00h6.8v2.3h-6.8zM345.7 170.00h6.8v2.3h-6.8zM196.7 172.00h6.8v2.3h-6.8zM209.6 172.00h6.8v2.3h-6.8zM222.6 172.00h6.8v2.3h-6.8zM268.0 172.00h26.2v2.3h-26.2zM313.3 172.00h6.8v2.3h-6.8zM332.8 172.00h6.8v2.3h-6.8zM352.2 172.00h13.3v2.3h-13.3zM384.6 172.00h6.8v2.3h-6.8zM397.6 172.00h6.8v2.3h-6.8zM410.6 172.00h6.8v2.3h-6.8zM209.6 174.00h6.8v2.3h-6.8zM280.9 174.00h13.3v2.3h-13.3zM365.2 174.00h13.3v2.3h-13.3zM300.4 176.00h6.8v2.3h-6.8zM345.7 176.00h6.8v2.3h-6.8zM371.7 176.00h6.8v2.3h-6.8zM339.3 178.00h13.3v2.3h-13.3zM391.1 178.00h6.8v2.3h-6.8zM410.6 178.00h6.8v2.3h-6.8zM86.5 180.00h6.8v2.3h-6.8zM125.4 180.00h6.8v2.3h-6.8zM261.5 180.00h6.8v2.3h-6.8zM300.4 180.00h6.8v2.3h-6.8zM313.3 180.00h6.8v2.3h-6.8zM345.7 180.00h6.8v2.3h-6.8zM378.1 180.00h6.8v2.3h-6.8zM86.5 182.00h6.8v2.3h-6.8zM144.8 182.00h6.8v2.3h-6.8zM280.9 182.00h13.3v2.3h-13.3zM319.8 182.00h6.8v2.3h-6.8zM332.8 182.00h6.8v2.3h-6.8zM365.2 182.00h6.8v2.3h-6.8zM423.5 182.00h6.8v2.3h-6.8zM99.4 184.00h6.8v2.3h-6.8zM268.0 184.00h13.3v2.3h-13.3zM293.9 184.00h6.8v2.3h-6.8zM339.3 184.00h6.8v2.3h-6.8zM365.2 184.00h13.3v2.3h-13.3zM417.0 186.00h6.8v2.3h-6.8zM86.5 188.00h6.8v2.3h-6.8zM105.9 188.00h6.8v2.3h-6.8zM268.0 188.00h6.8v2.3h-6.8zM287.4 188.00h6.8v2.3h-6.8zM306.9 188.00h6.8v2.3h-6.8zM332.8 188.00h19.7v2.3h-19.7zM358.7 188.00h6.8v2.3h-6.8zM86.5 190.00h6.8v2.3h-6.8zM99.4 190.00h6.8v2.3h-6.8zM261.5 190.00h6.8v2.3h-6.8zM280.9 190.00h6.8v2.3h-6.8zM326.3 190.00h6.8v2.3h-6.8zM391.1 190.00h6.8v2.3h-6.8zM410.6 190.00h6.8v2.3h-6.8zM177.2 192.00h6.8v2.3h-6.8zM319.8 192.00h6.8v2.3h-6.8zM332.8 192.00h6.8v2.3h-6.8zM345.7 192.00h6.8v2.3h-6.8zM365.2 192.00h6.8v2.3h-6.8zM391.1 192.00h6.8v2.3h-6.8zM105.9 194.00h6.8v2.3h-6.8zM170.7 194.00h13.3v2.3h-13.3zM280.9 194.00h6.8v2.3h-6.8zM300.4 194.00h6.8v2.3h-6.8zM371.7 194.00h6.8v2.3h-6.8zM384.6 194.00h19.7v2.3h-19.7zM410.6 194.00h6.8v2.3h-6.8zM423.5 194.00h6.8v2.3h-6.8zM384.6 196.00h6.8v2.3h-6.8zM280.9 198.00h6.8v2.3h-6.8zM332.8 198.00h6.8v2.3h-6.8zM358.7 198.00h13.3v2.3h-13.3zM397.6 198.00h6.8v2.3h-6.8zM410.6 200.00h6.8v2.3h-6.8zM274.4 202.00h6.8v2.3h-6.8zM80.0 204.00h19.7v2.3h-19.7zM151.3 204.00h6.8v2.3h-6.8zM306.9 204.00h13.3v2.3h-13.3zM332.8 204.00h13.3v2.3h-13.3zM391.1 204.00h19.7v2.3h-19.7zM99.4 206.00h13.3v2.3h-13.3zM131.9 206.00h6.8v2.3h-6.8zM268.0 206.00h6.8v2.3h-6.8zM287.4 206.00h6.8v2.3h-6.8zM319.8 206.00h6.8v2.3h-6.8zM365.2 206.00h6.8v2.3h-6.8zM384.6 206.00h6.8v2.3h-6.8zM404.1 206.00h6.8v2.3h-6.8zM274.4 208.00h6.8v2.3h-6.8zM105.9 210.00h6.8v2.3h-6.8zM144.8 210.00h6.8v2.3h-6.8zM268.0 210.00h6.8v2.3h-6.8zM287.4 210.00h13.3v2.3h-13.3zM306.9 210.00h6.8v2.3h-6.8zM345.7 210.00h6.8v2.3h-6.8zM378.1 210.00h13.3v2.3h-13.3zM410.6 210.00h13.3v2.3h-13.3zM300.4 212.00h6.8v2.3h-6.8zM326.3 212.00h6.8v2.3h-6.8zM391.1 212.00h6.8v2.3h-6.8zM410.6 212.00h6.8v2.3h-6.8zM99.4 214.00h13.3v2.3h-13.3zM125.4 214.00h6.8v2.3h-6.8zM293.9 214.00h6.8v2.3h-6.8zM345.7 214.00h6.8v2.3h-6.8zM358.7 214.00h6.8v2.3h-6.8zM371.7 214.00h6.8v2.3h-6.8zM384.6 214.00h6.8v2.3h-6.8zM80.0 216.00h6.8v2.3h-6.8zM138.3 216.00h13.3v2.3h-13.3zM157.8 216.00h6.8v2.3h-6.8zM287.4 216.00h6.8v2.3h-6.8zM300.4 216.00h6.8v2.3h-6.8zM326.3 216.00h6.8v2.3h-6.8zM339.3 216.00h6.8v2.3h-6.8zM384.6 216.00h6.8v2.3h-6.8zM410.6 216.00h6.8v2.3h-6.8zM138.3 218.00h6.8v2.3h-6.8zM423.5 218.00h6.8v2.3h-6.8zM280.9 220.00h6.8v2.3h-6.8zM105.9 222.00h6.8v2.3h-6.8zM326.3 222.00h6.8v2.3h-6.8zM125.4 224.00h6.8v2.3h-6.8zM183.7 224.00h6.8v2.3h-6.8zM268.0 224.00h6.8v2.3h-6.8zM306.9 224.00h6.8v2.3h-6.8zM339.3 224.00h6.8v2.3h-6.8zM391.1 224.00h6.8v2.3h-6.8zM417.0 224.00h6.8v2.3h-6.8zM80.0 226.00h6.8v2.3h-6.8zM345.7 226.00h6.8v2.3h-6.8zM371.7 226.00h26.2v2.3h-26.2zM404.1 226.00h6.8v2.3h-6.8zM222.6 228.00h6.8v2.3h-6.8zM274.4 228.00h19.7v2.3h-19.7zM332.8 228.00h26.2v2.3h-26.2zM365.2 228.00h26.2v2.3h-26.2zM397.6 228.00h6.8v2.3h-6.8zM125.4 230.00h6.8v2.3h-6.8zM268.0 230.00h13.3v2.3h-13.3zM293.9 230.00h6.8v2.3h-6.8zM326.3 230.00h6.8v2.3h-6.8zM345.7 230.00h13.3v2.3h-13.3zM371.7 230.00h13.3v2.3h-13.3zM80.0 232.00h6.8v2.3h-6.8zM268.0 232.00h6.8v2.3h-6.8zM280.9 232.00h6.8v2.3h-6.8zM293.9 232.00h13.3v2.3h-13.3zM378.1 232.00h13.3v2.3h-13.3zM293.9 234.00h6.8v2.3h-6.8zM80.0 236.00h6.8v2.3h-6.8zM99.4 236.00h13.3v2.3h-13.3zM170.7 236.00h6.8v2.3h-6.8zM183.7 236.00h6.8v2.3h-6.8zM242.0 236.00h6.8v2.3h-6.8zM255.0 236.00h6.8v2.3h-6.8zM280.9 236.00h6.8v2.3h-6.8zM339.3 236.00h6.8v2.3h-6.8zM391.1 236.00h6.8v2.3h-6.8zM404.1 236.00h6.8v2.3h-6.8zM417.0 236.00h6.8v2.3h-6.8zM86.5 238.00h6.8v2.3h-6.8zM118.9 238.00h6.8v2.3h-6.8zM138.3 238.00h6.8v2.3h-6.8zM157.8 238.00h6.8v2.3h-6.8zM170.7 238.00h6.8v2.3h-6.8zM255.0 238.00h6.8v2.3h-6.8zM268.0 238.00h6.8v2.3h-6.8zM300.4 238.00h6.8v2.3h-6.8zM332.8 238.00h6.8v2.3h-6.8zM371.7 238.00h6.8v2.3h-6.8zM112.4 246.00h6.8v2.3h-6.8zM157.8 246.00h6.8v2.3h-6.8zM170.7 246.00h6.8v2.3h-6.8zM255.0 246.00h6.8v2.3h-6.8zM391.1 246.00h6.8v2.3h-6.8zM404.1 246.00h6.8v2.3h-6.8zM417.0 246.00h6.8v2.3h-6.8zM157.8 248.00h6.8v2.3h-6.8zM177.2 248.00h6.8v2.3h-6.8zM216.1 248.00h6.8v2.3h-6.8zM268.0 248.00h6.8v2.3h-6.8zM287.4 248.00h6.8v2.3h-6.8zM313.3 248.00h6.8v2.3h-6.8zM105.9 250.00h6.8v2.3h-6.8zM177.2 250.00h6.8v2.3h-6.8zM99.4 252.00h6.8v2.3h-6.8zM183.7 252.00h13.3v2.3h-13.3zM255.0 252.00h6.8v2.3h-6.8zM300.4 252.00h6.8v2.3h-6.8zM80.0 254.00h6.8v2.3h-6.8zM190.2 254.00h6.8v2.3h-6.8zM242.0 254.00h6.8v2.3h-6.8zM255.0 254.00h6.8v2.3h-6.8zM268.0 254.00h13.3v2.3h-13.3zM293.9 254.00h6.8v2.3h-6.8zM313.3 254.00h6.8v2.3h-6.8zM118.9 256.00h6.8v2.3h-6.8zM131.9 256.00h6.8v2.3h-6.8zM170.7 256.00h6.8v2.3h-6.8zM242.0 256.00h13.3v2.3h-13.3zM261.5 256.00h6.8v2.3h-6.8zM274.4 256.00h6.8v2.3h-6.8zM293.9 256.00h13.3v2.3h-13.3zM319.8 256.00h6.8v2.3h-6.8zM86.5 258.00h13.3v2.3h-13.3zM118.9 258.00h6.8v2.3h-6.8zM131.9 258.00h6.8v2.3h-6.8zM183.7 258.00h6.8v2.3h-6.8zM248.5 258.00h6.8v2.3h-6.8zM268.0 258.00h6.8v2.3h-6.8zM280.9 258.00h6.8v2.3h-6.8zM326.3 258.00h6.8v2.3h-6.8zM222.6 260.00h6.8v2.3h-6.8zM300.4 260.00h13.3v2.3h-13.3zM93.0 262.00h6.8v2.3h-6.8zM105.9 262.00h6.8v2.3h-6.8zM216.1 262.00h6.8v2.3h-6.8zM255.0 262.00h13.3v2.3h-13.3zM280.9 262.00h6.8v2.3h-6.8zM99.4 266.00h13.3v2.3h-13.3zM157.8 266.00h13.3v2.3h-13.3zM235.6 266.00h6.8v2.3h-6.8zM274.4 266.00h6.8v2.3h-6.8zM319.8 266.00h6.8v2.3h-6.8zM80.0 268.00h6.8v2.3h-6.8zM99.4 268.00h6.8v2.3h-6.8zM151.3 268.00h13.3v2.3h-13.3zM255.0 268.00h6.8v2.3h-6.8zM319.8 268.00h6.8v2.3h-6.8zM99.4 270.00h6.8v2.3h-6.8zM164.3 270.00h6.8v2.3h-6.8zM235.6 270.00h6.8v2.3h-6.8zM268.0 270.00h6.8v2.3h-6.8zM248.5 272.00h6.8v2.3h-6.8zM345.7 272.00h6.8v2.3h-6.8zM125.4 276.00h6.8v2.3h-6.8zM138.3 276.00h13.3v2.3h-13.3zM196.7 276.00h6.8v2.3h-6.8zM306.9 276.00h6.8v2.3h-6.8zM80.0 278.00h6.8v2.3h-6.8zM306.9 278.00h6.8v2.3h-6.8zM319.8 278.00h6.8v2.3h-6.8zM138.3 280.00h6.8v2.3h-6.8zM151.3 280.00h6.8v2.3h-6.8zM164.3 280.00h6.8v2.3h-6.8zM229.1 280.00h6.8v2.3h-6.8zM280.9 280.00h6.8v2.3h-6.8zM319.8 280.00h6.8v2.3h-6.8zM112.4 282.00h6.8v2.3h-6.8zM196.7 282.00h13.3v2.3h-13.3zM274.4 282.00h6.8v2.3h-6.8zM313.3 282.00h13.3v2.3h-13.3zM86.5 284.00h6.8v2.3h-6.8zM99.4 284.00h6.8v2.3h-6.8zM242.0 284.00h6.8v2.3h-6.8zM261.5 284.00h6.8v2.3h-6.8zM274.4 284.00h26.2v2.3h-26.2zM306.9 284.00h6.8v2.3h-6.8zM319.8 284.00h6.8v2.3h-6.8zM332.8 284.00h6.8v2.3h-6.8zM417.0 284.00h6.8v2.3h-6.8zM86.5 286.00h6.8v2.3h-6.8zM216.1 286.00h6.8v2.3h-6.8zM242.0 286.00h6.8v2.3h-6.8zM268.0 286.00h6.8v2.3h-6.8zM287.4 286.00h6.8v2.3h-6.8zM93.0 288.00h13.3v2.3h-13.3zM138.3 288.00h6.8v2.3h-6.8zM164.3 288.00h6.8v2.3h-6.8zM268.0 288.00h6.8v2.3h-6.8zM313.3 288.00h6.8v2.3h-6.8zM105.9 290.00h6.8v2.3h-6.8zM268.0 290.00h6.8v2.3h-6.8zM332.8 290.00h6.8v2.3h-6.8zM93.0 292.00h6.8v2.3h-6.8zM144.8 292.00h6.8v2.3h-6.8zM229.1 292.00h6.8v2.3h-6.8zM255.0 292.00h26.2v2.3h-26.2zM300.4 292.00h6.8v2.3h-6.8zM332.8 292.00h6.8v2.3h-6.8zM229.1 294.00h6.8v2.3h-6.8zM209.6 298.00h6.8v2.3h-6.8zM384.6 298.00h6.8v2.3h-6.8zM190.2 300.00h6.8v2.3h-6.8zM216.1 300.00h6.8v2.3h-6.8zM378.1 300.00h6.8v2.3h-6.8zM164.3 304.00h6.8v2.3h-6.8zM183.7 304.00h6.8v2.3h-6.8zM196.7 304.00h6.8v2.3h-6.8zM229.1 304.00h6.8v2.3h-6.8zM332.8 304.00h6.8v2.3h-6.8zM345.7 304.00h13.3v2.3h-13.3zM397.6 304.00h13.3v2.3h-13.3zM417.0 304.00h13.3v2.3h-13.3zM164.3 306.00h6.8v2.3h-6.8zM229.1 306.00h6.8v2.3h-6.8zM352.2 306.00h6.8v2.3h-6.8zM410.6 306.00h6.8v2.3h-6.8zM423.5 306.00h6.8v2.3h-6.8zM86.5 308.00h13.3v2.3h-13.3zM222.6 308.00h6.8v2.3h-6.8zM235.6 308.00h19.7v2.3h-19.7zM261.5 308.00h6.8v2.3h-6.8zM352.2 308.00h6.8v2.3h-6.8zM423.5 308.00h6.8v2.3h-6.8zM255.0 316.00h6.8v2.3h-6.8zM345.7 320.00h6.8v2.3h-6.8zM345.7 322.00h6.8v2.3h-6.8zM164.3 324.00h6.8v2.3h-6.8zM358.7 324.00h6.8v2.3h-6.8zM157.8 326.00h6.8v2.3h-6.8zM255.0 326.00h6.8v2.3h-6.8zM358.7 326.00h6.8v2.3h-6.8zM157.8 328.00h6.8v2.3h-6.8zM80.0 330.00h6.8v2.3h-6.8zM112.4 330.00h6.8v2.3h-6.8zM157.8 330.00h6.8v2.3h-6.8zM229.1 330.00h6.8v2.3h-6.8zM190.2 332.00h6.8v2.3h-6.8zM164.3 334.00h6.8v2.3h-6.8zM177.2 334.00h6.8v2.3h-6.8zM229.1 334.00h6.8v2.3h-6.8zM352.2 334.00h6.8v2.3h-6.8zM157.8 336.00h6.8v2.3h-6.8zM339.3 336.00h6.8v2.3h-6.8zM345.7 338.00h6.8v2.3h-6.8zM378.1 338.00h6.8v2.3h-6.8zM99.4 341.00h6.8v2.55h-6.8zM144.8 341.00h6.8v2.55h-6.8zM164.3 341.00h6.8v2.55h-6.8zM196.7 341.00h6.8v2.55h-6.8zM242.0 341.00h6.8v2.55h-6.8zM255.0 341.00h6.8v2.55h-6.8zM164.3 343.25h6.8v2.55h-6.8z"/>
<path fill="#e57a7a" d="M93.0 152.00h6.8v2.3h-6.8zM274.4 152.00h6.8v2.3h-6.8zM255.0 154.00h6.8v2.3h-6.8zM196.7 156.00h6.8v2.3h-6.8zM125.4 166.00h6.8v2.3h-6.8zM80.0 168.00h6.8v2.3h-6.8zM255.0 168.00h6.8v2.3h-6.8zM216.1 180.00h6.8v2.3h-6.8zM235.6 182.00h6.8v2.3h-6.8zM216.1 190.00h6.8v2.3h-6.8zM255.0 190.00h6.8v2.3h-6.8zM151.3 196.00h6.8v2.3h-6.8zM235.6 196.00h6.8v2.3h-6.8zM235.6 198.00h6.8v2.3h-6.8zM229.1 208.00h6.8v2.3h-6.8zM242.0 208.00h6.8v2.3h-6.8zM313.3 208.00h6.8v2.3h-6.8zM339.3 208.00h6.8v2.3h-6.8zM358.7 208.00h6.8v2.3h-6.8zM209.6 214.00h6.8v2.3h-6.8zM183.7 218.00h6.8v2.3h-6.8zM112.4 234.00h6.8v2.3h-6.8zM235.6 240.00h6.8v2.3h-6.8zM131.9 244.00h6.8v2.3h-6.8zM131.9 246.00h6.8v2.3h-6.8zM345.7 246.00h6.8v2.3h-6.8zM209.6 248.00h6.8v2.3h-6.8zM222.6 248.00h6.8v2.3h-6.8zM397.6 258.00h6.8v2.3h-6.8zM313.3 260.00h6.8v2.3h-6.8zM183.7 266.00h6.8v2.3h-6.8zM352.2 276.00h6.8v2.3h-6.8zM274.4 298.00h6.8v2.3h-6.8zM300.4 302.00h6.8v2.3h-6.8zM80.0 304.00h6.8v2.3h-6.8zM384.6 308.00h6.8v2.3h-6.8zM131.9 324.00h6.8v2.3h-6.8zM261.5 324.00h6.8v2.3h-6.8zM293.9 324.00h6.8v2.3h-6.8zM293.9 326.00h6.8v2.3h-6.8zM306.9 326.00h6.8v2.3h-6.8z"/>
<path fill="#e78585" d="M99.4 152.00h6.8v2.3h-6.8zM151.3 162.00h6.8v2.3h-6.8zM177.2 162.00h6.8v2.3h-6.8zM164.3 164.00h6.8v2.3h-6.8zM235.6 170.00h6.8v2.3h-6.8zM255.0 170.00h6.8v2.3h-6.8zM203.1 176.00h6.8v2.3h-6.8zM99.4 178.00h6.8v2.3h-6.8zM131.9 178.00h6.8v2.3h-6.8zM222.6 182.00h6.8v2.3h-6.8zM222.6 202.00h6.8v2.3h-6.8zM319.8 202.00h6.8v2.3h-6.8zM183.7 208.00h6.8v2.3h-6.8zM196.7 208.00h6.8v2.3h-6.8zM248.5 208.00h6.8v2.3h-6.8zM261.5 208.00h6.8v2.3h-6.8zM190.2 212.00h6.8v2.3h-6.8zM157.8 214.00h6.8v2.3h-6.8zM229.1 214.00h6.8v2.3h-6.8zM131.9 220.00h6.8v2.3h-6.8zM196.7 220.00h6.8v2.3h-6.8zM93.0 234.00h6.8v2.3h-6.8zM319.8 236.00h6.8v2.3h-6.8zM203.1 242.00h6.8v2.3h-6.8zM209.6 244.00h6.8v2.3h-6.8zM248.5 244.00h6.8v2.3h-6.8zM300.4 244.00h6.8v2.3h-6.8zM99.4 246.00h6.8v2.3h-6.8zM371.7 262.00h6.8v2.3h-6.8zM417.0 272.00h6.8v2.3h-6.8zM190.2 274.00h6.8v2.3h-6.8zM365.2 274.00h6.8v2.3h-6.8zM242.0 288.00h6.8v2.3h-6.8zM216.1 290.00h6.8v2.3h-6.8zM339.3 292.00h6.8v2.3h-6.8zM293.9 296.00h6.8v2.3h-6.8zM332.8 296.00h6.8v2.3h-6.8zM417.0 296.00h6.8v2.3h-6.8zM313.3 302.00h6.8v2.3h-6.8zM131.9 334.00h6.8v2.3h-6.8zM274.4 334.00h6.8v2.3h-6.8z"/>
<path fill="#f2c1c1" d="M105.9 152.00h13.3v2.3h-13.3zM261.5 152.00h6.8v2.3h-6.8zM313.3 152.00h6.8v2.3h-6.8zM352.2 152.00h6.8v2.3h-6.8zM99.4 154.00h6.8v2.3h-6.8zM423.5 154.00h6.8v2.3h-6.8zM313.3 156.00h6.8v2.3h-6.8zM112.4 158.00h6.8v2.3h-6.8zM183.7 162.00h6.8v2.3h-6.8zM216.1 162.00h6.8v2.3h-6.8zM352.2 162.00h6.8v2.3h-6.8zM216.1 168.00h13.3v2.3h-13.3zM242.0 172.00h19.7v2.3h-19.7zM131.9 174.00h6.8v2.3h-6.8zM80.0 178.00h6.8v2.3h-6.8zM229.1 178.00h6.8v2.3h-6.8zM319.8 178.00h6.8v2.3h-6.8zM138.3 180.00h6.8v2.3h-6.8zM203.1 180.00h6.8v2.3h-6.8zM138.3 186.00h6.8v2.3h-6.8zM157.8 186.00h13.3v2.3h-13.3zM222.6 186.00h13.3v2.3h-13.3zM255.0 186.00h6.8v2.3h-6.8zM112.4 190.00h6.8v2.3h-6.8zM235.6 190.00h6.8v2.3h-6.8zM144.8 194.00h13.3v2.3h-13.3zM99.4 196.00h6.8v2.3h-6.8zM157.8 198.00h6.8v2.3h-6.8zM255.0 198.00h6.8v2.3h-6.8zM326.3 198.00h6.8v2.3h-6.8zM352.2 200.00h6.8v2.3h-6.8zM144.8 202.00h6.8v2.3h-6.8zM371.7 202.00h6.8v2.3h-6.8zM157.8 204.00h13.3v2.3h-13.3zM196.7 204.00h6.8v2.3h-6.8zM157.8 208.00h6.8v2.3h-6.8zM216.1 214.00h6.8v2.3h-6.8zM190.2 216.00h13.3v2.3h-13.3zM248.5 216.00h6.8v2.3h-6.8zM203.1 220.00h6.8v2.3h-6.8zM222.6 220.00h6.8v2.3h-6.8zM190.2 224.00h6.8v2.3h-6.8zM352.2 224.00h6.8v2.3h-6.8zM190.2 226.00h6.8v2.3h-6.8zM229.1 226.00h6.8v2.3h-6.8zM358.7 228.00h6.8v2.3h-6.8zM93.0 230.00h6.8v2.3h-6.8zM157.8 230.00h6.8v2.3h-6.8zM170.7 230.00h6.8v2.3h-6.8zM235.6 232.00h6.8v2.3h-6.8zM164.3 236.00h6.8v2.3h-6.8zM196.7 236.00h6.8v2.3h-6.8zM235.6 236.00h6.8v2.3h-6.8zM144.8 238.00h6.8v2.3h-6.8zM222.6 238.00h6.8v2.3h-6.8zM319.8 238.00h6.8v2.3h-6.8zM410.6 242.00h6.8v2.3h-6.8zM235.6 244.00h6.8v2.3h-6.8zM248.5 246.00h6.8v2.3h-6.8zM326.3 246.00h6.8v2.3h-6.8zM378.1 246.00h6.8v2.3h-6.8zM80.0 248.00h6.8v2.3h-6.8zM345.7 248.00h6.8v2.3h-6.8zM358.7 252.00h6.8v2.3h-6.8zM118.9 254.00h6.8v2.3h-6.8zM371.7 254.00h6.8v2.3h-6.8zM358.7 256.00h6.8v2.3h-6.8zM410.6 256.00h6.8v2.3h-6.8zM86.5 262.00h6.8v2.3h-6.8zM164.3 262.00h6.8v2.3h-6.8zM313.3 262.00h6.8v2.3h-6.8zM384.6 262.00h6.8v2.3h-6.8zM209.6 268.00h6.8v2.3h-6.8zM365.2 268.00h6.8v2.3h-6.8zM144.8 272.00h6.8v2.3h-6.8zM313.3 272.00h6.8v2.3h-6.8zM371.7 272.00h6.8v2.3h-6.8zM404.1 272.00h13.3v2.3h-13.3zM151.3 274.00h6.8v2.3h-6.8zM371.7 274.00h6.8v2.3h-6.8zM391.1 274.00h6.8v2.3h-6.8zM417.0 276.00h6.8v2.3h-6.8zM255.0 278.00h6.8v2.3h-6.8zM339.3 280.00h6.8v2.3h-6.8zM378.1 280.00h6.8v2.3h-6.8zM345.7 282.00h6.8v2.3h-6.8zM365.2 282.00h13.3v2.3h-13.3zM131.9 284.00h6.8v2.3h-6.8zM229.1 286.00h6.8v2.3h-6.8zM391.1 286.00h6.8v2.3h-6.8zM86.5 288.00h6.8v2.3h-6.8zM190.2 288.00h6.8v2.3h-6.8zM209.6 288.00h6.8v2.3h-6.8zM190.2 290.00h6.8v2.3h-6.8zM183.7 292.00h6.8v2.3h-6.8zM242.0 292.00h6.8v2.3h-6.8zM423.5 292.00h6.8v2.3h-6.8zM242.0 294.00h6.8v2.3h-6.8zM93.0 296.00h13.3v2.3h-13.3zM306.9 296.00h13.3v2.3h-13.3zM151.3 298.00h6.8v2.3h-6.8zM255.0 298.00h6.8v2.3h-6.8zM313.3 298.00h6.8v2.3h-6.8zM144.8 300.00h6.8v2.3h-6.8zM177.2 300.00h6.8v2.3h-6.8zM177.2 302.00h6.8v2.3h-6.8zM339.3 302.00h6.8v2.3h-6.8zM404.1 302.00h6.8v2.3h-6.8zM313.3 304.00h6.8v2.3h-6.8zM274.4 306.00h6.8v2.3h-6.8zM319.8 306.00h6.8v2.3h-6.8zM112.4 310.00h6.8v2.3h-6.8zM138.3 314.00h6.8v2.3h-6.8zM280.9 316.00h6.8v2.3h-6.8zM300.4 318.00h6.8v2.3h-6.8zM365.2 320.00h6.8v2.3h-6.8zM313.3 324.00h6.8v2.3h-6.8zM131.9 326.00h6.8v2.3h-6.8zM313.3 326.00h6.8v2.3h-6.8zM261.5 328.00h6.8v2.3h-6.8zM313.3 328.00h6.8v2.3h-6.8zM99.4 332.00h6.8v2.3h-6.8zM125.4 332.00h6.8v2.3h-6.8zM99.4 336.00h13.3v2.3h-13.3zM261.5 338.00h6.8v2.3h-6.8zM313.3 338.00h6.8v2.3h-6.8zM404.1 338.00h6.8v2.3h-6.8zM326.3 341.00h6.8v2.55h-6.8zM280.9 343.25h6.8v2.55h-6.8z"/>
<path fill="#eae9f5" d="M118.9 152.00h6.8v2.3h-6.8zM138.3 152.00h6.8v2.3h-6.8zM235.6 152.00h13.3v2.3h-13.3zM125.4 154.00h6.8v2.3h-6.8zM242.0 154.00h13.3v2.3h-13.3zM118.9 156.00h6.8v2.3h-6.8zM177.2 156.00h13.3v2.3h-13.3zM235.6 156.00h6.8v2.3h-6.8zM99.4 158.00h6.8v2.3h-6.8zM144.8 158.00h6.8v2.3h-6.8zM248.5 158.00h6.8v2.3h-6.8zM365.2 158.00h6.8v2.3h-6.8zM196.7 160.00h6.8v2.3h-6.8zM261.5 160.00h6.8v2.3h-6.8zM164.3 162.00h6.8v2.3h-6.8zM157.8 164.00h6.8v2.3h-6.8zM242.0 164.00h6.8v2.3h-6.8zM293.9 164.00h6.8v2.3h-6.8zM300.4 166.00h6.8v2.3h-6.8zM125.4 168.00h6.8v2.3h-6.8zM157.8 168.00h6.8v2.3h-6.8zM209.6 168.00h6.8v2.3h-6.8zM248.5 168.00h6.8v2.3h-6.8zM274.4 170.00h6.8v2.3h-6.8zM287.4 170.00h6.8v2.3h-6.8zM99.4 172.00h6.8v2.3h-6.8zM216.1 172.00h6.8v2.3h-6.8zM235.6 172.00h6.8v2.3h-6.8zM261.5 172.00h6.8v2.3h-6.8zM80.0 174.00h6.8v2.3h-6.8zM93.0 174.00h6.8v2.3h-6.8zM125.4 174.00h6.8v2.3h-6.8zM164.3 174.00h6.8v2.3h-6.8zM235.6 174.00h6.8v2.3h-6.8zM261.5 174.00h6.8v2.3h-6.8zM417.0 174.00h6.8v2.3h-6.8zM196.7 178.00h6.8v2.3h-6.8zM209.6 178.00h6.8v2.3h-6.8zM300.4 178.00h13.3v2.3h-13.3zM326.3 178.00h6.8v2.3h-6.8zM365.2 178.00h6.8v2.3h-6.8zM183.7 180.00h6.8v2.3h-6.8zM229.1 180.00h6.8v2.3h-6.8zM242.0 180.00h6.8v2.3h-6.8zM209.6 182.00h6.8v2.3h-6.8zM300.4 182.00h6.8v2.3h-6.8zM105.9 184.00h6.8v2.3h-6.8zM131.9 184.00h6.8v2.3h-6.8zM190.2 184.00h6.8v2.3h-6.8zM80.0 186.00h13.3v2.3h-13.3zM268.0 186.00h19.7v2.3h-19.7zM293.9 186.00h6.8v2.3h-6.8zM306.9 186.00h19.7v2.3h-19.7zM352.2 186.00h13.3v2.3h-13.3zM391.1 186.00h13.3v2.3h-13.3zM410.6 186.00h6.8v2.3h-6.8zM423.5 186.00h6.8v2.3h-6.8zM80.0 188.00h6.8v2.3h-6.8zM93.0 188.00h6.8v2.3h-6.8zM125.4 188.00h6.8v2.3h-6.8zM196.7 188.00h6.8v2.3h-6.8zM242.0 188.00h6.8v2.3h-6.8zM125.4 190.00h6.8v2.3h-6.8zM229.1 190.00h6.8v2.3h-6.8zM93.0 192.00h13.3v2.3h-13.3zM209.6 194.00h6.8v2.3h-6.8zM242.0 194.00h6.8v2.3h-6.8zM255.0 194.00h6.8v2.3h-6.8zM86.5 198.00h13.3v2.3h-13.3zM138.3 198.00h6.8v2.3h-6.8zM170.7 198.00h6.8v2.3h-6.8zM242.0 198.00h6.8v2.3h-6.8zM93.0 200.00h6.8v2.3h-6.8zM306.9 202.00h6.8v2.3h-6.8zM358.7 202.00h6.8v2.3h-6.8zM125.4 204.00h6.8v2.3h-6.8zM177.2 204.00h6.8v2.3h-6.8zM248.5 204.00h13.3v2.3h-13.3zM177.2 206.00h6.8v2.3h-6.8zM248.5 206.00h6.8v2.3h-6.8zM99.4 208.00h6.8v2.3h-6.8zM118.9 208.00h13.3v2.3h-13.3zM177.2 208.00h6.8v2.3h-6.8zM268.0 208.00h6.8v2.3h-6.8zM287.4 208.00h6.8v2.3h-6.8zM300.4 208.00h6.8v2.3h-6.8zM345.7 208.00h6.8v2.3h-6.8zM365.2 208.00h6.8v2.3h-6.8zM384.6 208.00h6.8v2.3h-6.8zM397.6 208.00h6.8v2.3h-6.8zM410.6 208.00h6.8v2.3h-6.8zM138.3 212.00h6.8v2.3h-6.8zM423.5 212.00h6.8v2.3h-6.8zM86.5 214.00h6.8v2.3h-6.8zM287.4 214.00h6.8v2.3h-6.8zM112.4 216.00h6.8v2.3h-6.8zM125.4 216.00h13.3v2.3h-13.3zM164.3 216.00h6.8v2.3h-6.8zM242.0 216.00h6.8v2.3h-6.8zM157.8 218.00h6.8v2.3h-6.8zM378.1 218.00h6.8v2.3h-6.8zM410.6 218.00h6.8v2.3h-6.8zM105.9 220.00h6.8v2.3h-6.8zM118.9 220.00h6.8v2.3h-6.8zM151.3 220.00h6.8v2.3h-6.8zM183.7 220.00h6.8v2.3h-6.8zM261.5 222.00h6.8v2.3h-6.8zM93.0 224.00h6.8v2.3h-6.8zM164.3 224.00h13.3v2.3h-13.3zM209.6 224.00h6.8v2.3h-6.8zM255.0 224.00h6.8v2.3h-6.8zM164.3 226.00h6.8v2.3h-6.8zM196.7 226.00h6.8v2.3h-6.8zM209.6 226.00h6.8v2.3h-6.8zM235.6 226.00h6.8v2.3h-6.8zM86.5 228.00h6.8v2.3h-6.8zM151.3 228.00h6.8v2.3h-6.8zM177.2 228.00h6.8v2.3h-6.8zM242.0 228.00h6.8v2.3h-6.8zM112.4 230.00h6.8v2.3h-6.8zM164.3 230.00h6.8v2.3h-6.8zM177.2 230.00h6.8v2.3h-6.8zM157.8 232.00h6.8v2.3h-6.8zM80.0 234.00h6.8v2.3h-6.8zM384.6 234.00h6.8v2.3h-6.8zM410.6 234.00h6.8v2.3h-6.8zM93.0 236.00h6.8v2.3h-6.8zM131.9 236.00h6.8v2.3h-6.8zM274.4 236.00h6.8v2.3h-6.8zM352.2 236.00h6.8v2.3h-6.8zM209.6 240.00h6.8v2.3h-6.8zM222.6 240.00h6.8v2.3h-6.8zM268.0 240.00h6.8v2.3h-6.8zM352.2 240.00h6.8v2.3h-6.8zM391.1 240.00h13.3v2.3h-13.3zM112.4 244.00h6.8v2.3h-6.8zM404.1 244.00h6.8v2.3h-6.8zM144.8 246.00h6.8v2.3h-6.8zM203.1 246.00h6.8v2.3h-6.8zM222.6 246.00h6.8v2.3h-6.8zM235.6 246.00h6.8v2.3h-6.8zM332.8 246.00h6.8v2.3h-6.8zM423.5 246.00h6.8v2.3h-6.8zM93.0 248.00h6.8v2.3h-6.8zM125.4 248.00h13.3v2.3h-13.3zM235.6 248.00h6.8v2.3h-6.8zM326.3 248.00h6.8v2.3h-6.8zM352.2 248.00h6.8v2.3h-6.8zM112.4 250.00h6.8v2.3h-6.8zM157.8 252.00h6.8v2.3h-6.8zM261.5 252.00h6.8v2.3h-6.8zM326.3 252.00h6.8v2.3h-6.8zM86.5 254.00h6.8v2.3h-6.8zM112.4 254.00h6.8v2.3h-6.8zM170.7 254.00h6.8v2.3h-6.8zM196.7 254.00h6.8v2.3h-6.8zM222.6 254.00h13.3v2.3h-13.3zM352.2 254.00h6.8v2.3h-6.8zM125.4 256.00h6.8v2.3h-6.8zM365.2 256.00h6.8v2.3h-6.8zM417.0 256.00h6.8v2.3h-6.8zM183.7 260.00h6.8v2.3h-6.8zM358.7 260.00h6.8v2.3h-6.8zM125.4 262.00h6.8v2.3h-6.8zM157.8 262.00h6.8v2.3h-6.8zM177.2 262.00h6.8v2.3h-6.8zM242.0 262.00h6.8v2.3h-6.8zM339.3 262.00h6.8v2.3h-6.8zM358.7 262.00h6.8v2.3h-6.8zM112.4 264.00h6.8v2.3h-6.8zM203.1 264.00h6.8v2.3h-6.8zM248.5 264.00h6.8v2.3h-6.8zM268.0 264.00h6.8v2.3h-6.8zM300.4 264.00h13.3v2.3h-13.3zM177.2 266.00h6.8v2.3h-6.8zM209.6 266.00h6.8v2.3h-6.8zM222.6 266.00h6.8v2.3h-6.8zM261.5 266.00h6.8v2.3h-6.8zM86.5 268.00h6.8v2.3h-6.8zM326.3 268.00h13.3v2.3h-13.3zM358.7 268.00h6.8v2.3h-6.8zM112.4 270.00h6.8v2.3h-6.8zM138.3 272.00h6.8v2.3h-6.8zM164.3 272.00h6.8v2.3h-6.8zM229.1 272.00h6.8v2.3h-6.8zM332.8 272.00h6.8v2.3h-6.8zM105.9 274.00h6.8v2.3h-6.8zM157.8 274.00h6.8v2.3h-6.8zM170.7 274.00h13.3v2.3h-13.3zM209.6 274.00h6.8v2.3h-6.8zM242.0 274.00h19.7v2.3h-19.7zM274.4 274.00h26.2v2.3h-26.2zM319.8 274.00h13.3v2.3h-13.3zM339.3 276.00h6.8v2.3h-6.8zM384.6 276.00h6.8v2.3h-6.8zM397.6 276.00h6.8v2.3h-6.8zM203.1 278.00h6.8v2.3h-6.8zM235.6 278.00h6.8v2.3h-6.8zM287.4 278.00h6.8v2.3h-6.8zM345.7 278.00h6.8v2.3h-6.8zM410.6 278.00h6.8v2.3h-6.8zM93.0 280.00h6.8v2.3h-6.8zM125.4 280.00h6.8v2.3h-6.8zM235.6 280.00h6.8v2.3h-6.8zM255.0 280.00h19.7v2.3h-19.7zM391.1 280.00h6.8v2.3h-6.8zM86.5 282.00h6.8v2.3h-6.8zM118.9 282.00h19.7v2.3h-19.7zM255.0 282.00h13.3v2.3h-13.3zM410.6 282.00h6.8v2.3h-6.8zM326.3 284.00h6.8v2.3h-6.8zM80.0 286.00h6.8v2.3h-6.8zM306.9 288.00h6.8v2.3h-6.8zM417.0 288.00h6.8v2.3h-6.8zM384.6 290.00h6.8v2.3h-6.8zM86.5 292.00h6.8v2.3h-6.8zM293.9 292.00h6.8v2.3h-6.8zM384.6 292.00h6.8v2.3h-6.8zM410.6 292.00h6.8v2.3h-6.8zM203.1 294.00h6.8v2.3h-6.8zM417.0 294.00h6.8v2.3h-6.8zM190.2 296.00h6.8v2.3h-6.8zM216.1 296.00h6.8v2.3h-6.8zM229.1 296.00h6.8v2.3h-6.8zM112.4 298.00h6.8v2.3h-6.8zM183.7 298.00h6.8v2.3h-6.8zM203.1 298.00h6.8v2.3h-6.8zM235.6 298.00h6.8v2.3h-6.8zM306.9 298.00h6.8v2.3h-6.8zM371.7 298.00h6.8v2.3h-6.8zM397.6 298.00h13.3v2.3h-13.3zM190.2 302.00h6.8v2.3h-6.8zM378.1 302.00h6.8v2.3h-6.8zM391.1 302.00h6.8v2.3h-6.8zM151.3 304.00h6.8v2.3h-6.8zM170.7 304.00h6.8v2.3h-6.8zM235.6 304.00h6.8v2.3h-6.8zM280.9 304.00h6.8v2.3h-6.8zM384.6 304.00h6.8v2.3h-6.8zM93.0 306.00h6.8v2.3h-6.8zM235.6 306.00h6.8v2.3h-6.8zM300.4 306.00h6.8v2.3h-6.8zM326.3 306.00h6.8v2.3h-6.8zM358.7 306.00h6.8v2.3h-6.8zM371.7 306.00h6.8v2.3h-6.8zM99.4 308.00h13.3v2.3h-13.3zM177.2 308.00h6.8v2.3h-6.8zM203.1 308.00h6.8v2.3h-6.8zM365.2 308.00h13.3v2.3h-13.3zM86.5 310.00h6.8v2.3h-6.8zM125.4 310.00h6.8v2.3h-6.8zM196.7 310.00h6.8v2.3h-6.8zM216.1 310.00h6.8v2.3h-6.8zM235.6 310.00h6.8v2.3h-6.8zM261.5 310.00h6.8v2.3h-6.8zM352.2 310.00h13.3v2.3h-13.3zM397.6 312.00h6.8v2.3h-6.8zM112.4 314.00h6.8v2.3h-6.8zM300.4 314.00h6.8v2.3h-6.8zM326.3 314.00h6.8v2.3h-6.8zM397.6 314.00h6.8v2.3h-6.8zM105.9 316.00h6.8v2.3h-6.8zM274.4 316.00h6.8v2.3h-6.8zM287.4 316.00h6.8v2.3h-6.8zM365.2 316.00h6.8v2.3h-6.8zM378.1 316.00h6.8v2.3h-6.8zM397.6 316.00h6.8v2.3h-6.8zM410.6 316.00h6.8v2.3h-6.8zM86.5 318.00h6.8v2.3h-6.8zM105.9 320.00h6.8v2.3h-6.8zM203.1 320.00h6.8v2.3h-6.8zM242.0 320.00h6.8v2.3h-6.8zM332.8 320.00h6.8v2.3h-6.8zM378.1 320.00h6.8v2.3h-6.8zM410.6 320.00h6.8v2.3h-6.8zM105.9 322.00h6.8v2.3h-6.8zM326.3 322.00h13.3v2.3h-13.3zM93.0 324.00h6.8v2.3h-6.8zM144.8 324.00h6.8v2.3h-6.8zM384.6 324.00h6.8v2.3h-6.8zM138.3 326.00h13.3v2.3h-13.3zM319.8 326.00h6.8v2.3h-6.8zM332.8 326.00h6.8v2.3h-6.8zM378.1 326.00h13.3v2.3h-13.3zM423.5 326.00h6.8v2.3h-6.8zM242.0 328.00h6.8v2.3h-6.8zM86.5 330.00h6.8v2.3h-6.8zM125.4 330.00h6.8v2.3h-6.8zM144.8 330.00h6.8v2.3h-6.8zM319.8 330.00h6.8v2.3h-6.8zM371.7 330.00h13.3v2.3h-13.3zM397.6 330.00h6.8v2.3h-6.8zM80.0 332.00h6.8v2.3h-6.8zM93.0 334.00h6.8v2.3h-6.8zM203.1 334.00h6.8v2.3h-6.8zM332.8 334.00h6.8v2.3h-6.8zM80.0 336.00h13.3v2.3h-13.3zM112.4 336.00h6.8v2.3h-6.8zM138.3 336.00h6.8v2.3h-6.8zM242.0 336.00h6.8v2.3h-6.8zM255.0 336.00h6.8v2.3h-6.8zM319.8 336.00h6.8v2.3h-6.8zM332.8 336.00h6.8v2.3h-6.8zM365.2 336.00h6.8v2.3h-6.8zM80.0 338.00h6.8v2.3h-6.8zM138.3 338.00h6.8v2.3h-6.8zM365.2 338.00h13.3v2.3h-13.3zM274.4 341.00h6.8v2.55h-6.8zM287.4 341.00h6.8v2.55h-6.8zM378.1 341.00h6.8v2.55h-6.8zM274.4 343.25h6.8v2.55h-6.8zM293.9 343.25h6.8v2.55h-6.8zM332.8 343.25h6.8v2.55h-6.8zM345.7 343.25h13.3v2.55h-13.3zM378.1 343.25h6.8v2.55h-6.8z"/>
<path fill="#d6d8ef" d="M125.4 152.00h6.8v2.3h-6.8zM306.9 152.00h6.8v2.3h-6.8zM293.9 154.00h6.8v2.3h-6.8zM339.3 154.00h6.8v2.3h-6.8zM378.1 154.00h6.8v2.3h-6.8zM417.0 154.00h6.8v2.3h-6.8zM93.0 156.00h6.8v2.3h-6.8zM319.8 156.00h6.8v2.3h-6.8zM423.5 156.00h6.8v2.3h-6.8zM268.0 158.00h6.8v2.3h-6.8zM326.3 158.00h13.3v2.3h-13.3zM352.2 158.00h13.3v2.3h-13.3zM384.6 158.00h6.8v2.3h-6.8zM404.1 158.00h6.8v2.3h-6.8zM222.6 160.00h19.7v2.3h-19.7zM274.4 160.00h26.2v2.3h-26.2zM306.9 160.00h6.8v2.3h-6.8zM358.7 160.00h6.8v2.3h-6.8zM378.1 160.00h6.8v2.3h-6.8zM391.1 160.00h13.3v2.3h-13.3zM86.5 162.00h6.8v2.3h-6.8zM410.6 162.00h6.8v2.3h-6.8zM86.5 164.00h6.8v2.3h-6.8zM319.8 164.00h19.7v2.3h-19.7zM358.7 164.00h6.8v2.3h-6.8zM371.7 164.00h6.8v2.3h-6.8zM397.6 164.00h13.3v2.3h-13.3zM170.7 166.00h6.8v2.3h-6.8zM203.1 166.00h6.8v2.3h-6.8zM268.0 166.00h6.8v2.3h-6.8zM287.4 166.00h6.8v2.3h-6.8zM319.8 166.00h6.8v2.3h-6.8zM371.7 166.00h6.8v2.3h-6.8zM384.6 166.00h6.8v2.3h-6.8zM397.6 166.00h6.8v2.3h-6.8zM300.4 168.00h6.8v2.3h-6.8zM151.3 170.00h6.8v2.3h-6.8zM170.7 170.00h6.8v2.3h-6.8zM190.2 170.00h6.8v2.3h-6.8zM268.0 170.00h6.8v2.3h-6.8zM280.9 170.00h6.8v2.3h-6.8zM293.9 170.00h6.8v2.3h-6.8zM306.9 170.00h6.8v2.3h-6.8zM365.2 170.00h13.3v2.3h-13.3zM397.6 170.00h13.3v2.3h-13.3zM203.1 172.00h6.8v2.3h-6.8zM371.7 172.00h13.3v2.3h-13.3zM183.7 174.00h6.8v2.3h-6.8zM229.1 174.00h6.8v2.3h-6.8zM86.5 176.00h6.8v2.3h-6.8zM268.0 176.00h6.8v2.3h-6.8zM306.9 176.00h6.8v2.3h-6.8zM326.3 176.00h6.8v2.3h-6.8zM352.2 176.00h13.3v2.3h-13.3zM86.5 178.00h6.8v2.3h-6.8zM261.5 178.00h6.8v2.3h-6.8zM287.4 178.00h6.8v2.3h-6.8zM358.7 178.00h6.8v2.3h-6.8zM118.9 180.00h6.8v2.3h-6.8zM144.8 180.00h6.8v2.3h-6.8zM371.7 180.00h6.8v2.3h-6.8zM80.0 182.00h6.8v2.3h-6.8zM261.5 182.00h6.8v2.3h-6.8zM345.7 182.00h6.8v2.3h-6.8zM358.7 182.00h6.8v2.3h-6.8zM371.7 182.00h6.8v2.3h-6.8zM125.4 184.00h6.8v2.3h-6.8zM280.9 184.00h6.8v2.3h-6.8zM300.4 184.00h19.7v2.3h-19.7zM332.8 184.00h6.8v2.3h-6.8zM345.7 184.00h6.8v2.3h-6.8zM358.7 184.00h6.8v2.3h-6.8zM378.1 184.00h26.2v2.3h-26.2zM423.5 184.00h6.8v2.3h-6.8zM99.4 188.00h6.8v2.3h-6.8zM300.4 188.00h6.8v2.3h-6.8zM319.8 188.00h6.8v2.3h-6.8zM404.1 188.00h6.8v2.3h-6.8zM287.4 190.00h6.8v2.3h-6.8zM80.0 192.00h6.8v2.3h-6.8zM105.9 192.00h6.8v2.3h-6.8zM268.0 192.00h6.8v2.3h-6.8zM300.4 192.00h6.8v2.3h-6.8zM352.2 192.00h6.8v2.3h-6.8zM397.6 192.00h6.8v2.3h-6.8zM99.4 194.00h6.8v2.3h-6.8zM157.8 194.00h6.8v2.3h-6.8zM313.3 194.00h6.8v2.3h-6.8zM105.9 196.00h13.3v2.3h-13.3zM183.7 196.00h6.8v2.3h-6.8zM203.1 196.00h6.8v2.3h-6.8zM222.6 196.00h6.8v2.3h-6.8zM242.0 196.00h6.8v2.3h-6.8zM105.9 198.00h6.8v2.3h-6.8zM164.3 198.00h6.8v2.3h-6.8zM268.0 200.00h6.8v2.3h-6.8zM280.9 200.00h13.3v2.3h-13.3zM313.3 200.00h6.8v2.3h-6.8zM345.7 200.00h6.8v2.3h-6.8zM365.2 200.00h6.8v2.3h-6.8zM384.6 200.00h6.8v2.3h-6.8zM397.6 200.00h6.8v2.3h-6.8zM86.5 202.00h6.8v2.3h-6.8zM209.6 202.00h6.8v2.3h-6.8zM268.0 202.00h6.8v2.3h-6.8zM280.9 202.00h6.8v2.3h-6.8zM293.9 202.00h6.8v2.3h-6.8zM313.3 202.00h6.8v2.3h-6.8zM345.7 202.00h6.8v2.3h-6.8zM378.1 202.00h6.8v2.3h-6.8zM144.8 204.00h6.8v2.3h-6.8zM280.9 206.00h6.8v2.3h-6.8zM391.1 206.00h6.8v2.3h-6.8zM326.3 208.00h6.8v2.3h-6.8zM112.4 210.00h6.8v2.3h-6.8zM177.2 210.00h6.8v2.3h-6.8zM300.4 210.00h6.8v2.3h-6.8zM371.7 210.00h6.8v2.3h-6.8zM93.0 212.00h6.8v2.3h-6.8zM293.9 212.00h6.8v2.3h-6.8zM306.9 212.00h6.8v2.3h-6.8zM345.7 212.00h6.8v2.3h-6.8zM365.2 212.00h19.7v2.3h-19.7zM397.6 212.00h6.8v2.3h-6.8zM80.0 214.00h6.8v2.3h-6.8zM144.8 214.00h6.8v2.3h-6.8zM164.3 214.00h6.8v2.3h-6.8zM235.6 214.00h6.8v2.3h-6.8zM118.9 216.00h6.8v2.3h-6.8zM268.0 216.00h6.8v2.3h-6.8zM80.0 218.00h6.8v2.3h-6.8zM118.9 218.00h6.8v2.3h-6.8zM268.0 218.00h6.8v2.3h-6.8zM287.4 218.00h19.7v2.3h-19.7zM319.8 218.00h13.3v2.3h-13.3zM339.3 218.00h6.8v2.3h-6.8zM358.7 218.00h6.8v2.3h-6.8zM417.0 218.00h6.8v2.3h-6.8zM93.0 220.00h6.8v2.3h-6.8zM274.4 220.00h6.8v2.3h-6.8zM287.4 220.00h6.8v2.3h-6.8zM319.8 220.00h13.3v2.3h-13.3zM339.3 220.00h6.8v2.3h-6.8zM352.2 220.00h13.3v2.3h-13.3zM378.1 220.00h19.7v2.3h-19.7zM423.5 220.00h6.8v2.3h-6.8zM274.4 222.00h13.3v2.3h-13.3zM313.3 222.00h6.8v2.3h-6.8zM339.3 222.00h6.8v2.3h-6.8zM352.2 222.00h6.8v2.3h-6.8zM384.6 222.00h26.2v2.3h-26.2zM105.9 224.00h13.3v2.3h-13.3zM196.7 224.00h6.8v2.3h-6.8zM242.0 226.00h6.8v2.3h-6.8zM255.0 226.00h6.8v2.3h-6.8zM293.9 228.00h6.8v2.3h-6.8zM306.9 228.00h6.8v2.3h-6.8zM319.8 228.00h6.8v2.3h-6.8zM423.5 228.00h6.8v2.3h-6.8zM222.6 230.00h6.8v2.3h-6.8zM313.3 230.00h6.8v2.3h-6.8zM339.3 230.00h6.8v2.3h-6.8zM410.6 230.00h6.8v2.3h-6.8zM423.5 230.00h6.8v2.3h-6.8zM287.4 232.00h6.8v2.3h-6.8zM397.6 232.00h19.7v2.3h-19.7zM118.9 234.00h6.8v2.3h-6.8zM280.9 234.00h6.8v2.3h-6.8zM287.4 238.00h6.8v2.3h-6.8zM339.3 238.00h13.3v2.3h-13.3zM365.2 238.00h6.8v2.3h-6.8zM378.1 238.00h13.3v2.3h-13.3zM118.9 240.00h13.3v2.3h-13.3zM157.8 240.00h6.8v2.3h-6.8zM177.2 240.00h6.8v2.3h-6.8zM384.6 240.00h6.8v2.3h-6.8zM404.1 240.00h6.8v2.3h-6.8zM151.3 242.00h13.3v2.3h-13.3zM177.2 242.00h6.8v2.3h-6.8zM209.6 242.00h6.8v2.3h-6.8zM352.2 242.00h6.8v2.3h-6.8zM391.1 242.00h6.8v2.3h-6.8zM417.0 242.00h6.8v2.3h-6.8zM151.3 244.00h6.8v2.3h-6.8zM268.0 244.00h13.3v2.3h-13.3zM293.9 244.00h6.8v2.3h-6.8zM80.0 246.00h6.8v2.3h-6.8zM125.4 246.00h6.8v2.3h-6.8zM229.1 246.00h6.8v2.3h-6.8zM274.4 246.00h6.8v2.3h-6.8zM293.9 246.00h6.8v2.3h-6.8zM339.3 246.00h6.8v2.3h-6.8zM229.1 248.00h6.8v2.3h-6.8zM242.0 248.00h6.8v2.3h-6.8zM255.0 248.00h6.8v2.3h-6.8zM99.4 250.00h6.8v2.3h-6.8zM138.3 250.00h6.8v2.3h-6.8zM151.3 250.00h13.3v2.3h-13.3zM261.5 250.00h13.3v2.3h-13.3zM293.9 250.00h6.8v2.3h-6.8zM177.2 252.00h6.8v2.3h-6.8zM319.8 252.00h6.8v2.3h-6.8zM157.8 254.00h6.8v2.3h-6.8zM261.5 254.00h6.8v2.3h-6.8zM287.4 254.00h6.8v2.3h-6.8zM151.3 256.00h6.8v2.3h-6.8zM80.0 258.00h6.8v2.3h-6.8zM99.4 258.00h6.8v2.3h-6.8zM138.3 258.00h6.8v2.3h-6.8zM164.3 258.00h6.8v2.3h-6.8zM255.0 258.00h6.8v2.3h-6.8zM319.8 258.00h6.8v2.3h-6.8zM209.6 260.00h6.8v2.3h-6.8zM255.0 260.00h6.8v2.3h-6.8zM274.4 260.00h6.8v2.3h-6.8zM287.4 260.00h6.8v2.3h-6.8zM319.8 260.00h6.8v2.3h-6.8zM203.1 262.00h6.8v2.3h-6.8zM248.5 262.00h6.8v2.3h-6.8zM268.0 262.00h6.8v2.3h-6.8zM293.9 262.00h6.8v2.3h-6.8zM86.5 264.00h13.3v2.3h-13.3zM125.4 264.00h6.8v2.3h-6.8zM144.8 264.00h6.8v2.3h-6.8zM157.8 264.00h6.8v2.3h-6.8zM255.0 264.00h6.8v2.3h-6.8zM287.4 264.00h6.8v2.3h-6.8zM358.7 264.00h6.8v2.3h-6.8zM144.8 266.00h13.3v2.3h-13.3zM203.1 266.00h6.8v2.3h-6.8zM229.1 266.00h6.8v2.3h-6.8zM242.0 266.00h13.3v2.3h-13.3zM280.9 266.00h6.8v2.3h-6.8zM293.9 266.00h26.2v2.3h-26.2zM138.3 268.00h6.8v2.3h-6.8zM164.3 268.00h6.8v2.3h-6.8zM203.1 268.00h6.8v2.3h-6.8zM229.1 268.00h6.8v2.3h-6.8zM268.0 268.00h6.8v2.3h-6.8zM93.0 270.00h6.8v2.3h-6.8zM144.8 270.00h19.7v2.3h-19.7zM203.1 270.00h6.8v2.3h-6.8zM229.1 270.00h6.8v2.3h-6.8zM261.5 270.00h6.8v2.3h-6.8zM274.4 270.00h6.8v2.3h-6.8zM287.4 270.00h6.8v2.3h-6.8zM313.3 270.00h6.8v2.3h-6.8zM86.5 272.00h6.8v2.3h-6.8zM99.4 272.00h6.8v2.3h-6.8zM125.4 272.00h6.8v2.3h-6.8zM261.5 272.00h6.8v2.3h-6.8zM391.1 272.00h6.8v2.3h-6.8zM131.9 276.00h6.8v2.3h-6.8zM229.1 276.00h6.8v2.3h-6.8zM410.6 276.00h6.8v2.3h-6.8zM93.0 278.00h6.8v2.3h-6.8zM151.3 278.00h6.8v2.3h-6.8zM177.2 278.00h6.8v2.3h-6.8zM280.9 278.00h6.8v2.3h-6.8zM313.3 278.00h6.8v2.3h-6.8zM190.2 280.00h6.8v2.3h-6.8zM203.1 280.00h6.8v2.3h-6.8zM300.4 280.00h6.8v2.3h-6.8zM93.0 282.00h13.3v2.3h-13.3zM177.2 282.00h6.8v2.3h-6.8zM216.1 282.00h6.8v2.3h-6.8zM332.8 282.00h6.8v2.3h-6.8zM93.0 284.00h6.8v2.3h-6.8zM105.9 284.00h6.8v2.3h-6.8zM125.4 284.00h6.8v2.3h-6.8zM151.3 284.00h6.8v2.3h-6.8zM313.3 284.00h6.8v2.3h-6.8zM404.1 284.00h6.8v2.3h-6.8zM93.0 286.00h6.8v2.3h-6.8zM300.4 286.00h6.8v2.3h-6.8zM319.8 286.00h6.8v2.3h-6.8zM255.0 288.00h13.3v2.3h-13.3zM280.9 288.00h13.3v2.3h-13.3zM397.6 288.00h6.8v2.3h-6.8zM93.0 290.00h6.8v2.3h-6.8zM164.3 290.00h6.8v2.3h-6.8zM203.1 290.00h6.8v2.3h-6.8zM326.3 290.00h6.8v2.3h-6.8zM410.6 290.00h6.8v2.3h-6.8zM151.3 292.00h6.8v2.3h-6.8zM209.6 292.00h6.8v2.3h-6.8zM306.9 292.00h19.7v2.3h-19.7zM358.7 292.00h13.3v2.3h-13.3zM86.5 294.00h6.8v2.3h-6.8zM138.3 294.00h6.8v2.3h-6.8zM157.8 294.00h6.8v2.3h-6.8zM196.7 294.00h6.8v2.3h-6.8zM248.5 294.00h6.8v2.3h-6.8zM287.4 294.00h6.8v2.3h-6.8zM365.2 294.00h6.8v2.3h-6.8zM384.6 294.00h6.8v2.3h-6.8zM164.3 296.00h6.8v2.3h-6.8zM177.2 296.00h6.8v2.3h-6.8zM222.6 296.00h6.8v2.3h-6.8zM242.0 296.00h6.8v2.3h-6.8zM80.0 298.00h6.8v2.3h-6.8zM216.1 298.00h6.8v2.3h-6.8zM242.0 298.00h6.8v2.3h-6.8zM365.2 298.00h6.8v2.3h-6.8zM99.4 300.00h6.8v2.3h-6.8zM118.9 300.00h6.8v2.3h-6.8zM138.3 300.00h6.8v2.3h-6.8zM151.3 300.00h6.8v2.3h-6.8zM164.3 300.00h13.3v2.3h-13.3zM235.6 300.00h6.8v2.3h-6.8zM261.5 300.00h6.8v2.3h-6.8zM384.6 300.00h6.8v2.3h-6.8zM157.8 302.00h19.7v2.3h-19.7zM229.1 302.00h13.3v2.3h-13.3zM261.5 302.00h13.3v2.3h-13.3zM345.7 302.00h6.8v2.3h-6.8zM384.6 302.00h6.8v2.3h-6.8zM190.2 304.00h6.8v2.3h-6.8zM216.1 304.00h6.8v2.3h-6.8zM378.1 304.00h6.8v2.3h-6.8zM112.4 308.00h6.8v2.3h-6.8zM157.8 308.00h6.8v2.3h-6.8zM183.7 308.00h6.8v2.3h-6.8zM313.3 308.00h6.8v2.3h-6.8zM93.0 310.00h6.8v2.3h-6.8zM157.8 310.00h6.8v2.3h-6.8zM190.2 310.00h6.8v2.3h-6.8zM423.5 310.00h6.8v2.3h-6.8zM105.9 312.00h6.8v2.3h-6.8zM164.3 312.00h6.8v2.3h-6.8zM345.7 312.00h6.8v2.3h-6.8zM86.5 314.00h6.8v2.3h-6.8zM157.8 316.00h6.8v2.3h-6.8zM229.1 316.00h6.8v2.3h-6.8zM242.0 316.00h6.8v2.3h-6.8zM80.0 318.00h6.8v2.3h-6.8zM164.3 318.00h6.8v2.3h-6.8zM229.1 318.00h6.8v2.3h-6.8zM345.7 318.00h6.8v2.3h-6.8zM157.8 320.00h6.8v2.3h-6.8zM93.0 322.00h6.8v2.3h-6.8zM164.3 322.00h6.8v2.3h-6.8zM138.3 324.00h6.8v2.3h-6.8zM80.0 326.00h6.8v2.3h-6.8zM125.4 326.00h6.8v2.3h-6.8zM203.1 326.00h6.8v2.3h-6.8zM287.4 326.00h6.8v2.3h-6.8zM371.7 326.00h6.8v2.3h-6.8zM404.1 326.00h6.8v2.3h-6.8zM112.4 328.00h6.8v2.3h-6.8zM157.8 332.00h6.8v2.3h-6.8zM352.2 332.00h6.8v2.3h-6.8zM80.0 334.00h6.8v2.3h-6.8zM157.8 334.00h6.8v2.3h-6.8zM345.7 336.00h13.3v2.3h-13.3zM242.0 338.00h6.8v2.3h-6.8zM255.0 338.00h6.8v2.3h-6.8zM319.8 338.00h6.8v2.3h-6.8zM397.6 338.00h6.8v2.3h-6.8zM183.7 341.00h6.8v2.55h-6.8zM86.5 343.25h6.8v2.55h-6.8zM131.9 343.25h6.8v2.55h-6.8zM242.0 343.25h6.8v2.55h-6.8zM255.0 343.25h6.8v2.55h-6.8z"/>
<path fill="#a5abda" d="M131.9 152.00h6.8v2.3h-6.8zM326.3 152.00h6.8v2.3h-6.8zM365.2 156.00h6.8v2.3h-6.8zM410.6 158.00h6.8v2.3h-6.8zM326.3 160.00h6.8v2.3h-6.8zM93.0 162.00h6.8v2.3h-6.8zM261.5 162.00h6.8v2.3h-6.8zM391.1 162.00h6.8v2.3h-6.8zM280.9 164.00h6.8v2.3h-6.8zM300.4 164.00h6.8v2.3h-6.8zM151.3 168.00h6.8v2.3h-6.8zM287.4 168.00h6.8v2.3h-6.8zM352.2 168.00h6.8v2.3h-6.8zM391.1 168.00h6.8v2.3h-6.8zM423.5 170.00h6.8v2.3h-6.8zM404.1 172.00h6.8v2.3h-6.8zM306.9 174.00h6.8v2.3h-6.8zM332.8 174.00h6.8v2.3h-6.8zM423.5 174.00h6.8v2.3h-6.8zM384.6 180.00h6.8v2.3h-6.8zM397.6 180.00h6.8v2.3h-6.8zM391.1 182.00h6.8v2.3h-6.8zM410.6 182.00h13.3v2.3h-13.3zM293.9 190.00h6.8v2.3h-6.8zM306.9 190.00h6.8v2.3h-6.8zM177.2 196.00h6.8v2.3h-6.8zM274.4 196.00h6.8v2.3h-6.8zM287.4 196.00h13.3v2.3h-13.3zM306.9 196.00h6.8v2.3h-6.8zM384.6 198.00h6.8v2.3h-6.8zM417.0 198.00h6.8v2.3h-6.8zM417.0 200.00h13.3v2.3h-13.3zM423.5 204.00h6.8v2.3h-6.8zM274.4 206.00h6.8v2.3h-6.8zM339.3 206.00h6.8v2.3h-6.8zM417.0 206.00h6.8v2.3h-6.8zM274.4 210.00h13.3v2.3h-13.3zM404.1 210.00h6.8v2.3h-6.8zM112.4 214.00h6.8v2.3h-6.8zM177.2 214.00h6.8v2.3h-6.8zM268.0 214.00h6.8v2.3h-6.8zM300.4 214.00h6.8v2.3h-6.8zM313.3 214.00h6.8v2.3h-6.8zM339.3 214.00h6.8v2.3h-6.8zM397.6 214.00h6.8v2.3h-6.8zM365.2 216.00h6.8v2.3h-6.8zM391.1 216.00h6.8v2.3h-6.8zM404.1 220.00h6.8v2.3h-6.8zM423.5 224.00h6.8v2.3h-6.8zM410.6 226.00h6.8v2.3h-6.8zM313.3 228.00h6.8v2.3h-6.8zM404.1 230.00h6.8v2.3h-6.8zM417.0 230.00h6.8v2.3h-6.8zM287.4 244.00h6.8v2.3h-6.8zM105.9 248.00h6.8v2.3h-6.8zM144.8 248.00h6.8v2.3h-6.8zM319.8 248.00h6.8v2.3h-6.8zM306.9 252.00h6.8v2.3h-6.8zM93.0 272.00h6.8v2.3h-6.8zM209.6 272.00h6.8v2.3h-6.8zM287.4 272.00h6.8v2.3h-6.8zM80.0 276.00h6.8v2.3h-6.8zM93.0 276.00h6.8v2.3h-6.8zM118.9 276.00h6.8v2.3h-6.8zM261.5 276.00h6.8v2.3h-6.8zM274.4 276.00h6.8v2.3h-6.8zM293.9 276.00h6.8v2.3h-6.8zM404.1 276.00h6.8v2.3h-6.8zM170.7 280.00h6.8v2.3h-6.8zM313.3 280.00h6.8v2.3h-6.8zM287.4 290.00h6.8v2.3h-6.8zM118.9 294.00h6.8v2.3h-6.8zM131.9 294.00h6.8v2.3h-6.8zM151.3 294.00h6.8v2.3h-6.8zM209.6 294.00h6.8v2.3h-6.8zM300.4 294.00h19.7v2.3h-19.7zM358.7 294.00h6.8v2.3h-6.8zM371.7 294.00h6.8v2.3h-6.8zM125.4 298.00h6.8v2.3h-6.8zM229.1 298.00h6.8v2.3h-6.8zM248.5 306.00h6.8v2.3h-6.8zM196.7 312.00h6.8v2.3h-6.8zM248.5 312.00h6.8v2.3h-6.8zM358.7 312.00h6.8v2.3h-6.8zM151.3 314.00h6.8v2.3h-6.8zM222.6 314.00h6.8v2.3h-6.8zM190.2 316.00h13.3v2.3h-13.3zM209.6 316.00h6.8v2.3h-6.8zM358.7 316.00h6.8v2.3h-6.8zM170.7 318.00h19.7v2.3h-19.7zM196.7 318.00h6.8v2.3h-6.8zM222.6 318.00h6.8v2.3h-6.8zM417.0 318.00h6.8v2.3h-6.8zM80.0 320.00h6.8v2.3h-6.8zM93.0 320.00h6.8v2.3h-6.8zM112.4 320.00h6.8v2.3h-6.8zM170.7 320.00h6.8v2.3h-6.8zM209.6 320.00h6.8v2.3h-6.8zM352.2 320.00h13.3v2.3h-13.3zM112.4 322.00h6.8v2.3h-6.8zM170.7 322.00h13.3v2.3h-13.3zM190.2 322.00h13.3v2.3h-13.3zM222.6 322.00h6.8v2.3h-6.8zM352.2 322.00h6.8v2.3h-6.8zM196.7 324.00h6.8v2.3h-6.8zM209.6 324.00h6.8v2.3h-6.8zM222.6 324.00h6.8v2.3h-6.8zM164.3 326.00h6.8v2.3h-6.8zM177.2 326.00h6.8v2.3h-6.8zM170.7 328.00h6.8v2.3h-6.8zM190.2 328.00h13.3v2.3h-13.3zM358.7 328.00h6.8v2.3h-6.8zM177.2 330.00h6.8v2.3h-6.8zM190.2 330.00h6.8v2.3h-6.8zM352.2 330.00h6.8v2.3h-6.8zM417.0 332.00h6.8v2.3h-6.8zM183.7 334.00h6.8v2.3h-6.8zM209.6 334.00h6.8v2.3h-6.8zM222.6 334.00h6.8v2.3h-6.8zM248.5 334.00h6.8v2.3h-6.8zM417.0 334.00h6.8v2.3h-6.8zM170.7 336.00h6.8v2.3h-6.8zM196.7 336.00h6.8v2.3h-6.8zM222.6 336.00h13.3v2.3h-13.3zM151.3 338.00h6.8v2.3h-6.8zM358.7 338.00h6.8v2.3h-6.8zM80.0 341.00h13.3v2.55h-13.3zM112.4 341.00h13.3v2.55h-13.3zM151.3 341.00h6.8v2.55h-6.8zM93.0 343.25h6.8v2.55h-6.8zM177.2 343.25h6.8v2.55h-6.8zM216.1 343.25h6.8v2.55h-6.8z"/>
<path fill="#e36f6f" d="M144.8 152.00h6.8v2.3h-6.8zM157.8 152.00h6.8v2.3h-6.8zM164.3 154.00h6.8v2.3h-6.8zM280.9 154.00h6.8v2.3h-6.8zM144.8 172.00h6.8v2.3h-6.8zM144.8 174.00h6.8v2.3h-6.8zM190.2 174.00h6.8v2.3h-6.8zM242.0 174.00h6.8v2.3h-6.8zM196.7 182.00h6.8v2.3h-6.8zM255.0 182.00h6.8v2.3h-6.8zM151.3 186.00h6.8v2.3h-6.8zM138.3 190.00h6.8v2.3h-6.8zM229.1 196.00h6.8v2.3h-6.8zM326.3 196.00h6.8v2.3h-6.8zM229.1 198.00h6.8v2.3h-6.8zM222.6 214.00h6.8v2.3h-6.8zM242.0 214.00h6.8v2.3h-6.8zM86.5 216.00h6.8v2.3h-6.8zM190.2 222.00h6.8v2.3h-6.8zM261.5 232.00h6.8v2.3h-6.8zM209.6 236.00h6.8v2.3h-6.8zM222.6 236.00h6.8v2.3h-6.8zM326.3 236.00h6.8v2.3h-6.8zM358.7 236.00h6.8v2.3h-6.8zM203.1 238.00h6.8v2.3h-6.8zM313.3 238.00h6.8v2.3h-6.8zM300.4 246.00h6.8v2.3h-6.8zM397.6 248.00h6.8v2.3h-6.8zM417.0 248.00h6.8v2.3h-6.8zM391.1 252.00h6.8v2.3h-6.8zM391.1 254.00h6.8v2.3h-6.8zM384.6 256.00h6.8v2.3h-6.8zM391.1 262.00h6.8v2.3h-6.8zM190.2 272.00h6.8v2.3h-6.8zM358.7 272.00h6.8v2.3h-6.8zM352.2 280.00h6.8v2.3h-6.8zM397.6 282.00h6.8v2.3h-6.8zM358.7 284.00h6.8v2.3h-6.8zM378.1 292.00h6.8v2.3h-6.8zM280.9 296.00h6.8v2.3h-6.8zM352.2 296.00h6.8v2.3h-6.8zM280.9 298.00h6.8v2.3h-6.8zM423.5 298.00h6.8v2.3h-6.8zM280.9 314.00h6.8v2.3h-6.8zM306.9 314.00h6.8v2.3h-6.8zM293.9 318.00h6.8v2.3h-6.8zM300.4 336.00h6.8v2.3h-6.8zM131.9 338.00h6.8v2.3h-6.8zM293.9 338.00h6.8v2.3h-6.8zM306.9 338.00h6.8v2.3h-6.8z"/>
<path fill="#f0b3b3" d="M151.3 152.00h6.8v2.3h-6.8zM93.0 154.00h6.8v2.3h-6.8zM144.8 154.00h6.8v2.3h-6.8zM157.8 154.00h6.8v2.3h-6.8zM177.2 154.00h6.8v2.3h-6.8zM293.9 156.00h6.8v2.3h-6.8zM118.9 160.00h6.8v2.3h-6.8zM177.2 160.00h6.8v2.3h-6.8zM118.9 162.00h6.8v2.3h-6.8zM138.3 162.00h6.8v2.3h-6.8zM105.9 168.00h6.8v2.3h-6.8zM144.8 168.00h6.8v2.3h-6.8zM138.3 170.00h6.8v2.3h-6.8zM216.1 170.00h6.8v2.3h-6.8zM105.9 172.00h6.8v2.3h-6.8zM138.3 172.00h6.8v2.3h-6.8zM326.3 172.00h6.8v2.3h-6.8zM423.5 176.00h6.8v2.3h-6.8zM196.7 180.00h6.8v2.3h-6.8zM255.0 180.00h6.8v2.3h-6.8zM216.1 184.00h6.8v2.3h-6.8zM242.0 184.00h6.8v2.3h-6.8zM144.8 186.00h6.8v2.3h-6.8zM255.0 188.00h6.8v2.3h-6.8zM313.3 188.00h6.8v2.3h-6.8zM151.3 190.00h6.8v2.3h-6.8zM248.5 190.00h6.8v2.3h-6.8zM144.8 192.00h6.8v2.3h-6.8zM248.5 192.00h6.8v2.3h-6.8zM248.5 194.00h6.8v2.3h-6.8zM326.3 194.00h6.8v2.3h-6.8zM216.1 196.00h6.8v2.3h-6.8zM99.4 198.00h6.8v2.3h-6.8zM118.9 200.00h6.8v2.3h-6.8zM319.8 200.00h6.8v2.3h-6.8zM391.1 200.00h6.8v2.3h-6.8zM190.2 204.00h6.8v2.3h-6.8zM203.1 204.00h6.8v2.3h-6.8zM261.5 206.00h6.8v2.3h-6.8zM423.5 210.00h6.8v2.3h-6.8zM196.7 212.00h6.8v2.3h-6.8zM242.0 212.00h6.8v2.3h-6.8zM358.7 224.00h6.8v2.3h-6.8zM358.7 226.00h6.8v2.3h-6.8zM99.4 228.00h13.3v2.3h-13.3zM170.7 228.00h6.8v2.3h-6.8zM235.6 228.00h6.8v2.3h-6.8zM183.7 230.00h6.8v2.3h-6.8zM196.7 230.00h13.3v2.3h-13.3zM242.0 232.00h6.8v2.3h-6.8zM190.2 236.00h6.8v2.3h-6.8zM313.3 236.00h6.8v2.3h-6.8zM99.4 240.00h6.8v2.3h-6.8zM105.9 244.00h6.8v2.3h-6.8zM177.2 244.00h6.8v2.3h-6.8zM138.3 246.00h6.8v2.3h-6.8zM209.6 246.00h6.8v2.3h-6.8zM248.5 248.00h6.8v2.3h-6.8zM423.5 250.00h6.8v2.3h-6.8zM423.5 252.00h6.8v2.3h-6.8zM358.7 254.00h13.3v2.3h-13.3zM423.5 254.00h6.8v2.3h-6.8zM391.1 256.00h6.8v2.3h-6.8zM423.5 256.00h6.8v2.3h-6.8zM423.5 258.00h6.8v2.3h-6.8zM326.3 262.00h6.8v2.3h-6.8zM417.0 268.00h13.3v2.3h-13.3zM417.0 270.00h6.8v2.3h-6.8zM144.8 274.00h6.8v2.3h-6.8zM326.3 280.00h6.8v2.3h-6.8zM417.0 280.00h6.8v2.3h-6.8zM326.3 282.00h6.8v2.3h-6.8zM339.3 284.00h13.3v2.3h-13.3zM352.2 286.00h6.8v2.3h-6.8zM80.0 288.00h6.8v2.3h-6.8zM248.5 290.00h6.8v2.3h-6.8zM190.2 292.00h6.8v2.3h-6.8zM352.2 292.00h6.8v2.3h-6.8zM255.0 296.00h6.8v2.3h-6.8zM170.7 298.00h6.8v2.3h-6.8zM293.9 298.00h6.8v2.3h-6.8zM306.9 302.00h6.8v2.3h-6.8zM112.4 304.00h6.8v2.3h-6.8zM255.0 304.00h6.8v2.3h-6.8zM268.0 304.00h13.3v2.3h-13.3zM287.4 304.00h6.8v2.3h-6.8zM268.0 306.00h6.8v2.3h-6.8zM313.3 306.00h6.8v2.3h-6.8zM319.8 308.00h6.8v2.3h-6.8zM391.1 308.00h13.3v2.3h-13.3zM274.4 312.00h13.3v2.3h-13.3zM118.9 322.00h6.8v2.3h-6.8zM391.1 324.00h6.8v2.3h-6.8zM274.4 326.00h6.8v2.3h-6.8zM391.1 326.00h6.8v2.3h-6.8zM280.9 328.00h6.8v2.3h-6.8zM131.9 330.00h6.8v2.3h-6.8zM280.9 330.00h13.3v2.3h-13.3zM125.4 334.00h6.8v2.3h-6.8zM287.4 336.00h6.8v2.3h-6.8zM313.3 336.00h6.8v2.3h-6.8zM280.9 341.00h6.8v2.55h-6.8zM365.2 341.00h6.8v2.55h-6.8zM268.0 343.25h6.8v2.55h-6.8zM404.1 343.25h13.3v2.55h-13.3z"/>
<path fill="#f4cfcf" d="M164.3 152.00h6.8v2.3h-6.8zM177.2 152.00h13.3v2.3h-13.3zM203.1 156.00h6.8v2.3h-6.8zM287.4 156.00h6.8v2.3h-6.8zM293.9 158.00h6.8v2.3h-6.8zM138.3 160.00h6.8v2.3h-6.8zM112.4 162.00h6.8v2.3h-6.8zM125.4 162.00h6.8v2.3h-6.8zM255.0 162.00h6.8v2.3h-6.8zM242.0 166.00h6.8v2.3h-6.8zM229.1 168.00h6.8v2.3h-6.8zM326.3 170.00h6.8v2.3h-6.8zM255.0 174.00h6.8v2.3h-6.8zM222.6 178.00h6.8v2.3h-6.8zM209.6 186.00h6.8v2.3h-6.8zM144.8 188.00h6.8v2.3h-6.8zM216.1 188.00h6.8v2.3h-6.8zM248.5 188.00h6.8v2.3h-6.8zM151.3 198.00h6.8v2.3h-6.8zM138.3 200.00h6.8v2.3h-6.8zM118.9 202.00h6.8v2.3h-6.8zM235.6 204.00h6.8v2.3h-6.8zM261.5 204.00h6.8v2.3h-6.8zM86.5 208.00h6.8v2.3h-6.8zM131.9 208.00h6.8v2.3h-6.8zM164.3 208.00h6.8v2.3h-6.8zM183.7 210.00h6.8v2.3h-6.8zM151.3 214.00h6.8v2.3h-6.8zM196.7 214.00h6.8v2.3h-6.8zM261.5 214.00h6.8v2.3h-6.8zM183.7 222.00h6.8v2.3h-6.8zM203.1 224.00h6.8v2.3h-6.8zM203.1 226.00h6.8v2.3h-6.8zM93.0 228.00h6.8v2.3h-6.8zM157.8 228.00h6.8v2.3h-6.8zM229.1 230.00h6.8v2.3h-6.8zM423.5 232.00h6.8v2.3h-6.8zM255.0 234.00h6.8v2.3h-6.8zM190.2 238.00h13.3v2.3h-13.3zM105.9 240.00h6.8v2.3h-6.8zM274.4 240.00h6.8v2.3h-6.8zM118.9 244.00h6.8v2.3h-6.8zM352.2 244.00h6.8v2.3h-6.8zM242.0 246.00h6.8v2.3h-6.8zM170.7 260.00h6.8v2.3h-6.8zM196.7 264.00h6.8v2.3h-6.8zM170.7 268.00h6.8v2.3h-6.8zM248.5 270.00h6.8v2.3h-6.8zM423.5 270.00h6.8v2.3h-6.8zM365.2 272.00h6.8v2.3h-6.8zM397.6 272.00h6.8v2.3h-6.8zM99.4 274.00h6.8v2.3h-6.8zM164.3 274.00h6.8v2.3h-6.8zM378.1 274.00h6.8v2.3h-6.8zM209.6 276.00h6.8v2.3h-6.8zM268.0 276.00h6.8v2.3h-6.8zM209.6 278.00h6.8v2.3h-6.8zM183.7 280.00h6.8v2.3h-6.8zM384.6 280.00h6.8v2.3h-6.8zM151.3 288.00h6.8v2.3h-6.8zM80.0 294.00h6.8v2.3h-6.8zM112.4 294.00h6.8v2.3h-6.8zM170.7 294.00h6.8v2.3h-6.8zM378.1 294.00h6.8v2.3h-6.8zM144.8 296.00h6.8v2.3h-6.8zM93.0 298.00h6.8v2.3h-6.8zM365.2 302.00h6.8v2.3h-6.8zM365.2 304.00h6.8v2.3h-6.8zM125.4 306.00h6.8v2.3h-6.8zM138.3 306.00h6.8v2.3h-6.8zM287.4 306.00h6.8v2.3h-6.8zM404.1 308.00h6.8v2.3h-6.8zM164.3 310.00h6.8v2.3h-6.8zM326.3 310.00h6.8v2.3h-6.8zM378.1 310.00h6.8v2.3h-6.8zM138.3 312.00h6.8v2.3h-6.8zM274.4 314.00h6.8v2.3h-6.8zM287.4 314.00h6.8v2.3h-6.8zM99.4 318.00h6.8v2.3h-6.8zM118.9 318.00h6.8v2.3h-6.8zM99.4 324.00h6.8v2.3h-6.8zM118.9 326.00h6.8v2.3h-6.8zM99.4 328.00h6.8v2.3h-6.8zM99.4 330.00h6.8v2.3h-6.8zM404.1 330.00h6.8v2.3h-6.8zM138.3 332.00h6.8v2.3h-6.8zM99.4 334.00h6.8v2.3h-6.8zM125.4 336.00h6.8v2.3h-6.8zM99.4 338.00h6.8v2.3h-6.8zM125.4 338.00h6.8v2.3h-6.8zM287.4 338.00h6.8v2.3h-6.8zM410.6 338.00h6.8v2.3h-6.8zM423.5 343.25h6.8v2.55h-6.8z"/>
<path fill="#f5eaee" d="M170.7 152.00h6.8v2.3h-6.8zM358.7 152.00h6.8v2.3h-6.8zM80.0 154.00h6.8v2.3h-6.8zM203.1 154.00h6.8v2.3h-6.8zM229.1 154.00h6.8v2.3h-6.8zM99.4 156.00h6.8v2.3h-6.8zM144.8 156.00h6.8v2.3h-6.8zM190.2 156.00h6.8v2.3h-6.8zM93.0 158.00h6.8v2.3h-6.8zM235.6 158.00h6.8v2.3h-6.8zM280.9 158.00h6.8v2.3h-6.8zM164.3 160.00h6.8v2.3h-6.8zM313.3 160.00h6.8v2.3h-6.8zM410.6 160.00h6.8v2.3h-6.8zM209.6 162.00h6.8v2.3h-6.8zM248.5 162.00h6.8v2.3h-6.8zM229.1 166.00h13.3v2.3h-13.3zM255.0 166.00h6.8v2.3h-6.8zM118.9 170.00h19.7v2.3h-19.7zM248.5 170.00h6.8v2.3h-6.8zM384.6 170.00h6.8v2.3h-6.8zM80.0 172.00h6.8v2.3h-6.8zM170.7 172.00h6.8v2.3h-6.8zM229.1 172.00h6.8v2.3h-6.8zM125.4 176.00h6.8v2.3h-6.8zM170.7 176.00h6.8v2.3h-6.8zM255.0 178.00h6.8v2.3h-6.8zM93.0 182.00h6.8v2.3h-6.8zM131.9 182.00h6.8v2.3h-6.8zM177.2 182.00h13.3v2.3h-13.3zM229.1 182.00h6.8v2.3h-6.8zM242.0 182.00h6.8v2.3h-6.8zM112.4 184.00h13.3v2.3h-13.3zM138.3 184.00h13.3v2.3h-13.3zM157.8 184.00h6.8v2.3h-6.8zM177.2 184.00h6.8v2.3h-6.8zM203.1 184.00h6.8v2.3h-6.8zM222.6 184.00h6.8v2.3h-6.8zM125.4 186.00h6.8v2.3h-6.8zM222.6 188.00h6.8v2.3h-6.8zM209.6 190.00h6.8v2.3h-6.8zM242.0 190.00h6.8v2.3h-6.8zM183.7 192.00h6.8v2.3h-6.8zM242.0 192.00h6.8v2.3h-6.8zM183.7 194.00h6.8v2.3h-6.8zM222.6 194.00h6.8v2.3h-6.8zM138.3 196.00h6.8v2.3h-6.8zM80.0 200.00h6.8v2.3h-6.8zM190.2 200.00h6.8v2.3h-6.8zM242.0 200.00h6.8v2.3h-6.8zM93.0 202.00h6.8v2.3h-6.8zM216.1 202.00h6.8v2.3h-6.8zM112.4 206.00h13.3v2.3h-13.3zM138.3 206.00h6.8v2.3h-6.8zM190.2 208.00h6.8v2.3h-6.8zM131.9 210.00h6.8v2.3h-6.8zM255.0 212.00h6.8v2.3h-6.8zM287.4 212.00h6.8v2.3h-6.8zM235.6 216.00h6.8v2.3h-6.8zM332.8 216.00h6.8v2.3h-6.8zM131.9 218.00h6.8v2.3h-6.8zM164.3 218.00h6.8v2.3h-6.8zM222.6 218.00h6.8v2.3h-6.8zM274.4 218.00h6.8v2.3h-6.8zM332.8 218.00h6.8v2.3h-6.8zM144.8 220.00h6.8v2.3h-6.8zM164.3 220.00h6.8v2.3h-6.8zM261.5 220.00h6.8v2.3h-6.8zM112.4 222.00h19.7v2.3h-19.7zM144.8 222.00h6.8v2.3h-6.8zM365.2 222.00h6.8v2.3h-6.8zM144.8 228.00h6.8v2.3h-6.8zM164.3 228.00h6.8v2.3h-6.8zM255.0 228.00h6.8v2.3h-6.8zM144.8 230.00h6.8v2.3h-6.8zM131.9 232.00h6.8v2.3h-6.8zM183.7 232.00h6.8v2.3h-6.8zM196.7 232.00h6.8v2.3h-6.8zM222.6 232.00h6.8v2.3h-6.8zM345.7 232.00h6.8v2.3h-6.8zM190.2 234.00h6.8v2.3h-6.8zM203.1 234.00h6.8v2.3h-6.8zM274.4 234.00h6.8v2.3h-6.8zM93.0 238.00h6.8v2.3h-6.8zM261.5 238.00h6.8v2.3h-6.8zM216.1 240.00h6.8v2.3h-6.8zM229.1 240.00h6.8v2.3h-6.8zM248.5 240.00h6.8v2.3h-6.8zM293.9 240.00h6.8v2.3h-6.8zM339.3 240.00h6.8v2.3h-6.8zM138.3 242.00h6.8v2.3h-6.8zM216.1 242.00h6.8v2.3h-6.8zM242.0 242.00h13.3v2.3h-13.3zM300.4 242.00h6.8v2.3h-6.8zM332.8 242.00h13.3v2.3h-13.3zM170.7 244.00h6.8v2.3h-6.8zM280.9 244.00h6.8v2.3h-6.8zM86.5 246.00h6.8v2.3h-6.8zM105.9 246.00h6.8v2.3h-6.8zM358.7 246.00h6.8v2.3h-6.8zM93.0 250.00h6.8v2.3h-6.8zM183.7 250.00h6.8v2.3h-6.8zM196.7 250.00h6.8v2.3h-6.8zM235.6 250.00h13.3v2.3h-13.3zM326.3 250.00h6.8v2.3h-6.8zM358.7 250.00h6.8v2.3h-6.8zM371.7 250.00h6.8v2.3h-6.8zM410.6 250.00h6.8v2.3h-6.8zM86.5 252.00h6.8v2.3h-6.8zM131.9 252.00h6.8v2.3h-6.8zM248.5 252.00h6.8v2.3h-6.8zM339.3 252.00h6.8v2.3h-6.8zM326.3 254.00h6.8v2.3h-6.8zM339.3 254.00h6.8v2.3h-6.8zM378.1 254.00h6.8v2.3h-6.8zM105.9 256.00h6.8v2.3h-6.8zM144.8 256.00h6.8v2.3h-6.8zM105.9 258.00h6.8v2.3h-6.8zM125.4 258.00h6.8v2.3h-6.8zM203.1 258.00h13.3v2.3h-13.3zM313.3 258.00h6.8v2.3h-6.8zM196.7 260.00h6.8v2.3h-6.8zM242.0 260.00h6.8v2.3h-6.8zM339.3 260.00h13.3v2.3h-13.3zM410.6 260.00h6.8v2.3h-6.8zM183.7 262.00h6.8v2.3h-6.8zM410.6 262.00h6.8v2.3h-6.8zM138.3 264.00h6.8v2.3h-6.8zM190.2 264.00h6.8v2.3h-6.8zM216.1 264.00h6.8v2.3h-6.8zM352.2 264.00h6.8v2.3h-6.8zM371.7 264.00h6.8v2.3h-6.8zM410.6 264.00h6.8v2.3h-6.8zM423.5 264.00h6.8v2.3h-6.8zM216.1 266.00h6.8v2.3h-6.8zM332.8 266.00h13.3v2.3h-13.3zM352.2 266.00h6.8v2.3h-6.8zM378.1 266.00h6.8v2.3h-6.8zM410.6 266.00h6.8v2.3h-6.8zM423.5 266.00h6.8v2.3h-6.8zM105.9 268.00h6.8v2.3h-6.8zM216.1 268.00h13.3v2.3h-13.3zM190.2 270.00h6.8v2.3h-6.8zM222.6 270.00h6.8v2.3h-6.8zM326.3 270.00h13.3v2.3h-13.3zM371.7 270.00h13.3v2.3h-13.3zM105.9 278.00h6.8v2.3h-6.8zM131.9 278.00h6.8v2.3h-6.8zM157.8 278.00h6.8v2.3h-6.8zM170.7 278.00h6.8v2.3h-6.8zM229.1 278.00h6.8v2.3h-6.8zM371.7 278.00h6.8v2.3h-6.8zM384.6 278.00h6.8v2.3h-6.8zM397.6 278.00h6.8v2.3h-6.8zM86.5 280.00h6.8v2.3h-6.8zM118.9 280.00h6.8v2.3h-6.8zM306.9 280.00h6.8v2.3h-6.8zM410.6 280.00h6.8v2.3h-6.8zM80.0 284.00h6.8v2.3h-6.8zM157.8 284.00h6.8v2.3h-6.8zM365.2 284.00h6.8v2.3h-6.8zM112.4 286.00h6.8v2.3h-6.8zM190.2 286.00h6.8v2.3h-6.8zM397.6 286.00h6.8v2.3h-6.8zM131.9 288.00h6.8v2.3h-6.8zM144.8 288.00h6.8v2.3h-6.8zM157.8 288.00h6.8v2.3h-6.8zM319.8 288.00h6.8v2.3h-6.8zM339.3 288.00h6.8v2.3h-6.8zM112.4 290.00h6.8v2.3h-6.8zM183.7 290.00h6.8v2.3h-6.8zM306.9 290.00h6.8v2.3h-6.8zM319.8 290.00h6.8v2.3h-6.8zM339.3 290.00h6.8v2.3h-6.8zM365.2 290.00h6.8v2.3h-6.8zM391.1 290.00h6.8v2.3h-6.8zM177.2 292.00h6.8v2.3h-6.8zM196.7 292.00h6.8v2.3h-6.8zM326.3 292.00h6.8v2.3h-6.8zM183.7 296.00h6.8v2.3h-6.8zM261.5 296.00h6.8v2.3h-6.8zM326.3 296.00h6.8v2.3h-6.8zM339.3 296.00h6.8v2.3h-6.8zM287.4 298.00h6.8v2.3h-6.8zM300.4 298.00h6.8v2.3h-6.8zM319.8 298.00h6.8v2.3h-6.8zM112.4 300.00h6.8v2.3h-6.8zM131.9 300.00h6.8v2.3h-6.8zM196.7 300.00h6.8v2.3h-6.8zM255.0 300.00h6.8v2.3h-6.8zM287.4 300.00h6.8v2.3h-6.8zM319.8 300.00h6.8v2.3h-6.8zM352.2 300.00h6.8v2.3h-6.8zM80.0 302.00h6.8v2.3h-6.8zM112.4 302.00h6.8v2.3h-6.8zM125.4 302.00h13.3v2.3h-13.3zM209.6 302.00h6.8v2.3h-6.8zM255.0 302.00h6.8v2.3h-6.8zM319.8 302.00h6.8v2.3h-6.8zM332.8 302.00h6.8v2.3h-6.8zM144.8 304.00h6.8v2.3h-6.8zM300.4 304.00h6.8v2.3h-6.8zM326.3 304.00h6.8v2.3h-6.8zM358.7 304.00h6.8v2.3h-6.8zM391.1 304.00h6.8v2.3h-6.8zM170.7 306.00h6.8v2.3h-6.8zM242.0 306.00h6.8v2.3h-6.8zM384.6 306.00h6.8v2.3h-6.8zM105.9 310.00h6.8v2.3h-6.8zM313.3 310.00h6.8v2.3h-6.8zM417.0 310.00h6.8v2.3h-6.8zM300.4 312.00h6.8v2.3h-6.8zM371.7 312.00h13.3v2.3h-13.3zM423.5 312.00h6.8v2.3h-6.8zM93.0 314.00h6.8v2.3h-6.8zM144.8 314.00h6.8v2.3h-6.8zM86.5 316.00h6.8v2.3h-6.8zM125.4 316.00h6.8v2.3h-6.8zM93.0 318.00h6.8v2.3h-6.8zM105.9 318.00h6.8v2.3h-6.8zM138.3 318.00h13.3v2.3h-13.3zM203.1 318.00h6.8v2.3h-6.8zM274.4 318.00h6.8v2.3h-6.8zM287.4 318.00h6.8v2.3h-6.8zM319.8 318.00h6.8v2.3h-6.8zM397.6 318.00h6.8v2.3h-6.8zM410.6 318.00h6.8v2.3h-6.8zM86.5 320.00h6.8v2.3h-6.8zM326.3 320.00h6.8v2.3h-6.8zM384.6 320.00h6.8v2.3h-6.8zM99.4 322.00h6.8v2.3h-6.8zM144.8 322.00h6.8v2.3h-6.8zM319.8 322.00h6.8v2.3h-6.8zM371.7 322.00h6.8v2.3h-6.8zM384.6 322.00h6.8v2.3h-6.8zM125.4 324.00h6.8v2.3h-6.8zM365.2 324.00h6.8v2.3h-6.8zM93.0 326.00h6.8v2.3h-6.8zM125.4 328.00h6.8v2.3h-6.8zM138.3 328.00h13.3v2.3h-13.3zM203.1 328.00h6.8v2.3h-6.8zM274.4 328.00h6.8v2.3h-6.8zM319.8 328.00h13.3v2.3h-13.3zM371.7 328.00h6.8v2.3h-6.8zM410.6 330.00h6.8v2.3h-6.8zM144.8 332.00h6.8v2.3h-6.8zM255.0 332.00h6.8v2.3h-6.8zM365.2 332.00h6.8v2.3h-6.8zM378.1 332.00h6.8v2.3h-6.8zM397.6 332.00h6.8v2.3h-6.8zM410.6 332.00h6.8v2.3h-6.8zM326.3 334.00h6.8v2.3h-6.8zM365.2 334.00h6.8v2.3h-6.8zM378.1 334.00h6.8v2.3h-6.8zM423.5 334.00h6.8v2.3h-6.8zM93.0 336.00h6.8v2.3h-6.8zM268.0 336.00h6.8v2.3h-6.8zM326.3 336.00h6.8v2.3h-6.8zM378.1 336.00h6.8v2.3h-6.8zM397.6 336.00h6.8v2.3h-6.8zM423.5 336.00h6.8v2.3h-6.8zM339.3 341.00h6.8v2.55h-6.8zM287.4 343.25h6.8v2.55h-6.8zM371.7 343.25h6.8v2.55h-6.8z"/>
<path fill="#f6dbdb" d="M190.2 152.00h13.3v2.3h-13.3zM183.7 154.00h6.8v2.3h-6.8zM313.3 154.00h6.8v2.3h-6.8zM352.2 154.00h6.8v2.3h-6.8zM138.3 156.00h6.8v2.3h-6.8zM300.4 156.00h6.8v2.3h-6.8zM131.9 158.00h6.8v2.3h-6.8zM209.6 158.00h6.8v2.3h-6.8zM287.4 158.00h6.8v2.3h-6.8zM306.9 158.00h6.8v2.3h-6.8zM144.8 162.00h6.8v2.3h-6.8zM157.8 162.00h6.8v2.3h-6.8zM138.3 166.00h6.8v2.3h-6.8zM222.6 166.00h6.8v2.3h-6.8zM248.5 166.00h6.8v2.3h-6.8zM157.8 170.00h6.8v2.3h-6.8zM125.4 178.00h6.8v2.3h-6.8zM170.7 178.00h6.8v2.3h-6.8zM183.7 178.00h6.8v2.3h-6.8zM112.4 186.00h6.8v2.3h-6.8zM131.9 186.00h6.8v2.3h-6.8zM177.2 186.00h19.7v2.3h-19.7zM164.3 192.00h6.8v2.3h-6.8zM255.0 196.00h6.8v2.3h-6.8zM80.0 202.00h6.8v2.3h-6.8zM151.3 208.00h6.8v2.3h-6.8zM170.7 208.00h6.8v2.3h-6.8zM157.8 210.00h13.3v2.3h-13.3zM339.3 210.00h6.8v2.3h-6.8zM358.7 210.00h6.8v2.3h-6.8zM144.8 212.00h6.8v2.3h-6.8zM235.6 212.00h6.8v2.3h-6.8zM203.1 214.00h6.8v2.3h-6.8zM125.4 218.00h6.8v2.3h-6.8zM157.8 220.00h6.8v2.3h-6.8zM216.1 220.00h6.8v2.3h-6.8zM177.2 222.00h6.8v2.3h-6.8zM235.6 222.00h6.8v2.3h-6.8zM300.4 230.00h6.8v2.3h-6.8zM112.4 238.00h6.8v2.3h-6.8zM352.2 238.00h6.8v2.3h-6.8zM196.7 240.00h6.8v2.3h-6.8zM242.0 240.00h6.8v2.3h-6.8zM255.0 240.00h6.8v2.3h-6.8zM287.4 240.00h6.8v2.3h-6.8zM365.2 240.00h6.8v2.3h-6.8zM190.2 242.00h6.8v2.3h-6.8zM287.4 242.00h6.8v2.3h-6.8zM365.2 242.00h6.8v2.3h-6.8zM125.4 244.00h6.8v2.3h-6.8zM144.8 244.00h6.8v2.3h-6.8zM164.3 244.00h6.8v2.3h-6.8zM306.9 244.00h6.8v2.3h-6.8zM358.7 244.00h6.8v2.3h-6.8zM410.6 244.00h6.8v2.3h-6.8zM371.7 246.00h6.8v2.3h-6.8zM378.1 248.00h6.8v2.3h-6.8zM203.1 250.00h6.8v2.3h-6.8zM255.0 250.00h6.8v2.3h-6.8zM216.1 254.00h6.8v2.3h-6.8zM86.5 260.00h6.8v2.3h-6.8zM131.9 264.00h6.8v2.3h-6.8zM170.7 264.00h6.8v2.3h-6.8zM261.5 264.00h6.8v2.3h-6.8zM365.2 264.00h6.8v2.3h-6.8zM170.7 270.00h6.8v2.3h-6.8zM352.2 272.00h6.8v2.3h-6.8zM125.4 274.00h19.7v2.3h-19.7zM216.1 274.00h13.3v2.3h-13.3zM261.5 274.00h6.8v2.3h-6.8zM332.8 274.00h6.8v2.3h-6.8zM423.5 274.00h6.8v2.3h-6.8zM183.7 276.00h6.8v2.3h-6.8zM222.6 278.00h6.8v2.3h-6.8zM80.0 280.00h6.8v2.3h-6.8zM242.0 280.00h6.8v2.3h-6.8zM365.2 280.00h6.8v2.3h-6.8zM80.0 282.00h6.8v2.3h-6.8zM183.7 282.00h6.8v2.3h-6.8zM112.4 284.00h6.8v2.3h-6.8zM384.6 284.00h6.8v2.3h-6.8zM125.4 294.00h6.8v2.3h-6.8zM112.4 296.00h6.8v2.3h-6.8zM235.6 296.00h6.8v2.3h-6.8zM300.4 296.00h6.8v2.3h-6.8zM319.8 296.00h6.8v2.3h-6.8zM365.2 296.00h19.7v2.3h-19.7zM99.4 298.00h6.8v2.3h-6.8zM209.6 300.00h6.8v2.3h-6.8zM105.9 302.00h6.8v2.3h-6.8zM196.7 302.00h6.8v2.3h-6.8zM287.4 302.00h6.8v2.3h-6.8zM125.4 304.00h6.8v2.3h-6.8zM177.2 304.00h6.8v2.3h-6.8zM203.1 304.00h6.8v2.3h-6.8zM410.6 308.00h6.8v2.3h-6.8zM332.8 310.00h6.8v2.3h-6.8zM345.7 310.00h6.8v2.3h-6.8zM397.6 310.00h6.8v2.3h-6.8zM118.9 314.00h6.8v2.3h-6.8zM99.4 316.00h6.8v2.3h-6.8zM118.9 316.00h6.8v2.3h-6.8zM125.4 318.00h6.8v2.3h-6.8zM378.1 318.00h6.8v2.3h-6.8zM287.4 320.00h6.8v2.3h-6.8zM105.9 324.00h6.8v2.3h-6.8zM306.9 328.00h6.8v2.3h-6.8zM112.4 332.00h6.8v2.3h-6.8zM326.3 332.00h6.8v2.3h-6.8zM371.7 332.00h6.8v2.3h-6.8zM404.1 332.00h6.8v2.3h-6.8zM112.4 334.00h6.8v2.3h-6.8zM404.1 334.00h6.8v2.3h-6.8zM105.9 338.00h6.8v2.3h-6.8zM274.4 338.00h6.8v2.3h-6.8zM423.5 341.00h6.8v2.55h-6.8z"/>
<path fill="#b9bde3" d="M209.6 152.00h6.8v2.3h-6.8zM287.4 152.00h6.8v2.3h-6.8zM339.3 152.00h13.3v2.3h-13.3zM371.7 152.00h6.8v2.3h-6.8zM397.6 152.00h13.3v2.3h-13.3zM391.1 154.00h6.8v2.3h-6.8zM216.1 156.00h6.8v2.3h-6.8zM410.6 156.00h6.8v2.3h-6.8zM86.5 158.00h6.8v2.3h-6.8zM423.5 158.00h6.8v2.3h-6.8zM131.9 160.00h6.8v2.3h-6.8zM105.9 162.00h6.8v2.3h-6.8zM235.6 162.00h6.8v2.3h-6.8zM287.4 162.00h6.8v2.3h-6.8zM306.9 162.00h6.8v2.3h-6.8zM326.3 162.00h19.7v2.3h-19.7zM378.1 162.00h13.3v2.3h-13.3zM397.6 162.00h6.8v2.3h-6.8zM339.3 164.00h6.8v2.3h-6.8zM93.0 168.00h6.8v2.3h-6.8zM183.7 168.00h13.3v2.3h-13.3zM242.0 168.00h6.8v2.3h-6.8zM261.5 168.00h6.8v2.3h-6.8zM332.8 168.00h6.8v2.3h-6.8zM358.7 168.00h6.8v2.3h-6.8zM397.6 168.00h6.8v2.3h-6.8zM410.6 168.00h6.8v2.3h-6.8zM183.7 170.00h6.8v2.3h-6.8zM293.9 172.00h6.8v2.3h-6.8zM306.9 172.00h6.8v2.3h-6.8zM319.8 172.00h6.8v2.3h-6.8zM345.7 172.00h6.8v2.3h-6.8zM365.2 172.00h6.8v2.3h-6.8zM86.5 174.00h6.8v2.3h-6.8zM196.7 174.00h6.8v2.3h-6.8zM268.0 174.00h13.3v2.3h-13.3zM313.3 174.00h6.8v2.3h-6.8zM384.6 174.00h6.8v2.3h-6.8zM397.6 174.00h6.8v2.3h-6.8zM410.6 174.00h6.8v2.3h-6.8zM384.6 176.00h6.8v2.3h-6.8zM410.6 176.00h13.3v2.3h-13.3zM280.9 178.00h6.8v2.3h-6.8zM397.6 178.00h13.3v2.3h-13.3zM417.0 178.00h6.8v2.3h-6.8zM80.0 180.00h6.8v2.3h-6.8zM170.7 180.00h6.8v2.3h-6.8zM280.9 180.00h6.8v2.3h-6.8zM306.9 180.00h6.8v2.3h-6.8zM423.5 180.00h6.8v2.3h-6.8zM404.1 182.00h6.8v2.3h-6.8zM319.8 184.00h6.8v2.3h-6.8zM170.7 188.00h13.3v2.3h-13.3zM261.5 188.00h6.8v2.3h-6.8zM274.4 188.00h6.8v2.3h-6.8zM378.1 188.00h6.8v2.3h-6.8zM397.6 188.00h6.8v2.3h-6.8zM105.9 190.00h6.8v2.3h-6.8zM118.9 190.00h6.8v2.3h-6.8zM170.7 190.00h13.3v2.3h-13.3zM274.4 190.00h6.8v2.3h-6.8zM332.8 190.00h13.3v2.3h-13.3zM365.2 190.00h13.3v2.3h-13.3zM423.5 190.00h6.8v2.3h-6.8zM293.9 192.00h6.8v2.3h-6.8zM306.9 192.00h6.8v2.3h-6.8zM371.7 192.00h6.8v2.3h-6.8zM287.4 194.00h13.3v2.3h-13.3zM378.1 194.00h6.8v2.3h-6.8zM80.0 196.00h6.8v2.3h-6.8zM261.5 196.00h13.3v2.3h-13.3zM280.9 196.00h6.8v2.3h-6.8zM300.4 196.00h6.8v2.3h-6.8zM313.3 196.00h6.8v2.3h-6.8zM332.8 196.00h13.3v2.3h-13.3zM352.2 196.00h6.8v2.3h-6.8zM365.2 196.00h6.8v2.3h-6.8zM378.1 196.00h6.8v2.3h-6.8zM397.6 196.00h6.8v2.3h-6.8zM80.0 198.00h6.8v2.3h-6.8zM177.2 198.00h6.8v2.3h-6.8zM261.5 198.00h19.7v2.3h-19.7zM287.4 198.00h19.7v2.3h-19.7zM313.3 198.00h6.8v2.3h-6.8zM339.3 198.00h6.8v2.3h-6.8zM371.7 198.00h13.3v2.3h-13.3zM391.1 198.00h6.8v2.3h-6.8zM410.6 198.00h6.8v2.3h-6.8zM404.1 200.00h6.8v2.3h-6.8zM423.5 202.00h6.8v2.3h-6.8zM131.9 204.00h6.8v2.3h-6.8zM293.9 204.00h6.8v2.3h-6.8zM326.3 204.00h6.8v2.3h-6.8zM345.7 204.00h26.2v2.3h-26.2zM378.1 204.00h6.8v2.3h-6.8zM410.6 204.00h6.8v2.3h-6.8zM93.0 206.00h6.8v2.3h-6.8zM144.8 206.00h13.3v2.3h-13.3zM410.6 206.00h6.8v2.3h-6.8zM423.5 206.00h6.8v2.3h-6.8zM404.1 208.00h6.8v2.3h-6.8zM118.9 210.00h6.8v2.3h-6.8zM332.8 212.00h6.8v2.3h-6.8zM93.0 214.00h6.8v2.3h-6.8zM118.9 214.00h6.8v2.3h-6.8zM280.9 214.00h6.8v2.3h-6.8zM306.9 214.00h6.8v2.3h-6.8zM319.8 214.00h6.8v2.3h-6.8zM280.9 216.00h6.8v2.3h-6.8zM293.9 216.00h6.8v2.3h-6.8zM306.9 216.00h19.7v2.3h-19.7zM352.2 216.00h13.3v2.3h-13.3zM397.6 220.00h6.8v2.3h-6.8zM332.8 222.00h6.8v2.3h-6.8zM423.5 222.00h6.8v2.3h-6.8zM99.4 224.00h6.8v2.3h-6.8zM118.9 224.00h6.8v2.3h-6.8zM144.8 224.00h6.8v2.3h-6.8zM177.2 224.00h6.8v2.3h-6.8zM280.9 224.00h19.7v2.3h-19.7zM313.3 224.00h19.7v2.3h-19.7zM345.7 224.00h6.8v2.3h-6.8zM371.7 224.00h6.8v2.3h-6.8zM99.4 226.00h13.3v2.3h-13.3zM138.3 226.00h6.8v2.3h-6.8zM151.3 226.00h13.3v2.3h-13.3zM177.2 226.00h13.3v2.3h-13.3zM280.9 226.00h13.3v2.3h-13.3zM300.4 226.00h6.8v2.3h-6.8zM313.3 226.00h13.3v2.3h-13.3zM339.3 226.00h6.8v2.3h-6.8zM365.2 226.00h6.8v2.3h-6.8zM397.6 226.00h6.8v2.3h-6.8zM80.0 228.00h6.8v2.3h-6.8zM125.4 228.00h6.8v2.3h-6.8zM326.3 228.00h6.8v2.3h-6.8zM391.1 228.00h6.8v2.3h-6.8zM319.8 230.00h6.8v2.3h-6.8zM365.2 230.00h6.8v2.3h-6.8zM384.6 230.00h6.8v2.3h-6.8zM306.9 232.00h6.8v2.3h-6.8zM118.9 236.00h6.8v2.3h-6.8zM138.3 236.00h6.8v2.3h-6.8zM157.8 236.00h6.8v2.3h-6.8zM177.2 236.00h6.8v2.3h-6.8zM268.0 236.00h6.8v2.3h-6.8zM287.4 236.00h6.8v2.3h-6.8zM332.8 236.00h6.8v2.3h-6.8zM371.7 236.00h13.3v2.3h-13.3zM423.5 236.00h6.8v2.3h-6.8zM99.4 238.00h6.8v2.3h-6.8zM242.0 238.00h6.8v2.3h-6.8zM144.8 242.00h6.8v2.3h-6.8zM384.6 242.00h6.8v2.3h-6.8zM183.7 246.00h6.8v2.3h-6.8zM216.1 246.00h6.8v2.3h-6.8zM280.9 246.00h13.3v2.3h-13.3zM319.8 246.00h6.8v2.3h-6.8zM397.6 246.00h6.8v2.3h-6.8zM112.4 248.00h6.8v2.3h-6.8zM138.3 248.00h6.8v2.3h-6.8zM151.3 248.00h6.8v2.3h-6.8zM190.2 248.00h6.8v2.3h-6.8zM274.4 248.00h13.3v2.3h-13.3zM93.0 252.00h6.8v2.3h-6.8zM125.4 252.00h6.8v2.3h-6.8zM209.6 252.00h6.8v2.3h-6.8zM274.4 252.00h13.3v2.3h-13.3zM293.9 252.00h6.8v2.3h-6.8zM99.4 254.00h6.8v2.3h-6.8zM203.1 254.00h6.8v2.3h-6.8zM93.0 256.00h6.8v2.3h-6.8zM190.2 256.00h13.3v2.3h-13.3zM287.4 256.00h6.8v2.3h-6.8zM177.2 258.00h6.8v2.3h-6.8zM190.2 258.00h6.8v2.3h-6.8zM229.1 258.00h6.8v2.3h-6.8zM242.0 258.00h6.8v2.3h-6.8zM274.4 258.00h6.8v2.3h-6.8zM300.4 258.00h13.3v2.3h-13.3zM248.5 260.00h6.8v2.3h-6.8zM131.9 262.00h19.7v2.3h-19.7zM209.6 262.00h6.8v2.3h-6.8zM235.6 262.00h6.8v2.3h-6.8zM274.4 262.00h6.8v2.3h-6.8zM287.4 262.00h6.8v2.3h-6.8zM300.4 262.00h6.8v2.3h-6.8zM255.0 266.00h6.8v2.3h-6.8zM268.0 266.00h6.8v2.3h-6.8zM93.0 268.00h6.8v2.3h-6.8zM131.9 268.00h6.8v2.3h-6.8zM287.4 268.00h6.8v2.3h-6.8zM300.4 268.00h13.3v2.3h-13.3zM306.9 270.00h6.8v2.3h-6.8zM80.0 272.00h6.8v2.3h-6.8zM112.4 272.00h13.3v2.3h-13.3zM170.7 272.00h6.8v2.3h-6.8zM196.7 272.00h6.8v2.3h-6.8zM242.0 272.00h6.8v2.3h-6.8zM268.0 272.00h19.7v2.3h-19.7zM300.4 272.00h6.8v2.3h-6.8zM319.8 272.00h6.8v2.3h-6.8zM242.0 276.00h6.8v2.3h-6.8zM280.9 276.00h6.8v2.3h-6.8zM319.8 276.00h6.8v2.3h-6.8zM125.4 278.00h6.8v2.3h-6.8zM177.2 280.00h6.8v2.3h-6.8zM196.7 280.00h6.8v2.3h-6.8zM216.1 280.00h13.3v2.3h-13.3zM287.4 280.00h6.8v2.3h-6.8zM170.7 282.00h6.8v2.3h-6.8zM222.6 282.00h6.8v2.3h-6.8zM248.5 282.00h6.8v2.3h-6.8zM287.4 282.00h6.8v2.3h-6.8zM118.9 284.00h6.8v2.3h-6.8zM196.7 284.00h6.8v2.3h-6.8zM235.6 284.00h6.8v2.3h-6.8zM300.4 284.00h6.8v2.3h-6.8zM144.8 286.00h6.8v2.3h-6.8zM326.3 288.00h6.8v2.3h-6.8zM404.1 288.00h6.8v2.3h-6.8zM118.9 290.00h6.8v2.3h-6.8zM138.3 290.00h6.8v2.3h-6.8zM404.1 290.00h6.8v2.3h-6.8zM235.6 292.00h6.8v2.3h-6.8zM371.7 292.00h6.8v2.3h-6.8zM93.0 294.00h13.3v2.3h-13.3zM235.6 294.00h6.8v2.3h-6.8zM255.0 294.00h6.8v2.3h-6.8zM268.0 294.00h6.8v2.3h-6.8zM332.8 294.00h6.8v2.3h-6.8zM118.9 296.00h6.8v2.3h-6.8zM248.5 296.00h6.8v2.3h-6.8zM105.9 298.00h6.8v2.3h-6.8zM131.9 298.00h6.8v2.3h-6.8zM157.8 298.00h13.3v2.3h-13.3zM196.7 298.00h6.8v2.3h-6.8zM99.4 304.00h6.8v2.3h-6.8zM222.6 304.00h6.8v2.3h-6.8zM404.1 306.00h6.8v2.3h-6.8zM417.0 306.00h6.8v2.3h-6.8zM151.3 308.00h6.8v2.3h-6.8zM190.2 308.00h13.3v2.3h-13.3zM216.1 308.00h6.8v2.3h-6.8zM229.1 308.00h6.8v2.3h-6.8zM339.3 308.00h6.8v2.3h-6.8zM358.7 308.00h6.8v2.3h-6.8zM190.2 312.00h6.8v2.3h-6.8zM352.2 312.00h6.8v2.3h-6.8zM99.4 314.00h13.3v2.3h-13.3zM164.3 314.00h6.8v2.3h-6.8zM177.2 314.00h6.8v2.3h-6.8zM261.5 314.00h6.8v2.3h-6.8zM177.2 316.00h6.8v2.3h-6.8zM339.3 316.00h6.8v2.3h-6.8zM177.2 320.00h6.8v2.3h-6.8zM190.2 320.00h6.8v2.3h-6.8zM255.0 324.00h6.8v2.3h-6.8zM86.5 326.00h6.8v2.3h-6.8zM255.0 328.00h6.8v2.3h-6.8zM352.2 328.00h6.8v2.3h-6.8zM170.7 332.00h6.8v2.3h-6.8zM229.1 332.00h13.3v2.3h-13.3zM339.3 332.00h6.8v2.3h-6.8zM170.7 334.00h6.8v2.3h-6.8zM345.7 334.00h6.8v2.3h-6.8zM339.3 338.00h6.8v2.3h-6.8zM190.2 341.00h6.8v2.55h-6.8zM209.6 341.00h6.8v2.55h-6.8zM229.1 341.00h13.3v2.55h-13.3zM261.5 341.00h6.8v2.55h-6.8zM118.9 343.25h6.8v2.55h-6.8zM144.8 343.25h6.8v2.55h-6.8zM203.1 343.25h6.8v2.55h-6.8zM222.6 343.25h6.8v2.55h-6.8z"/>
<path fill="#afb4de" d="M216.1 152.00h6.8v2.3h-6.8zM293.9 152.00h6.8v2.3h-6.8zM332.8 152.00h6.8v2.3h-6.8zM365.2 152.00h6.8v2.3h-6.8zM378.1 152.00h6.8v2.3h-6.8zM391.1 152.00h6.8v2.3h-6.8zM417.0 152.00h6.8v2.3h-6.8zM216.1 158.00h6.8v2.3h-6.8zM190.2 162.00h19.7v2.3h-19.7zM222.6 162.00h13.3v2.3h-13.3zM274.4 162.00h6.8v2.3h-6.8zM293.9 162.00h6.8v2.3h-6.8zM319.8 162.00h6.8v2.3h-6.8zM345.7 162.00h6.8v2.3h-6.8zM358.7 162.00h13.3v2.3h-13.3zM423.5 162.00h6.8v2.3h-6.8zM177.2 168.00h6.8v2.3h-6.8zM203.1 168.00h6.8v2.3h-6.8zM274.4 168.00h13.3v2.3h-13.3zM293.9 168.00h6.8v2.3h-6.8zM306.9 168.00h13.3v2.3h-13.3zM365.2 168.00h6.8v2.3h-6.8zM378.1 168.00h6.8v2.3h-6.8zM404.1 168.00h6.8v2.3h-6.8zM417.0 168.00h6.8v2.3h-6.8zM293.9 174.00h13.3v2.3h-13.3zM378.1 174.00h6.8v2.3h-6.8zM313.3 176.00h6.8v2.3h-6.8zM339.3 176.00h6.8v2.3h-6.8zM391.1 176.00h13.3v2.3h-13.3zM384.6 178.00h6.8v2.3h-6.8zM268.0 180.00h6.8v2.3h-6.8zM287.4 180.00h6.8v2.3h-6.8zM332.8 180.00h6.8v2.3h-6.8zM118.9 182.00h6.8v2.3h-6.8zM384.6 182.00h6.8v2.3h-6.8zM417.0 188.00h13.3v2.3h-13.3zM268.0 190.00h6.8v2.3h-6.8zM345.7 190.00h6.8v2.3h-6.8zM358.7 190.00h6.8v2.3h-6.8zM378.1 190.00h13.3v2.3h-13.3zM80.0 194.00h6.8v2.3h-6.8zM358.7 194.00h6.8v2.3h-6.8zM404.1 194.00h6.8v2.3h-6.8zM125.4 196.00h6.8v2.3h-6.8zM319.8 196.00h6.8v2.3h-6.8zM345.7 196.00h6.8v2.3h-6.8zM358.7 196.00h6.8v2.3h-6.8zM371.7 196.00h6.8v2.3h-6.8zM391.1 196.00h6.8v2.3h-6.8zM404.1 196.00h26.2v2.3h-26.2zM125.4 198.00h6.8v2.3h-6.8zM306.9 198.00h6.8v2.3h-6.8zM319.8 198.00h6.8v2.3h-6.8zM352.2 198.00h6.8v2.3h-6.8zM423.5 198.00h6.8v2.3h-6.8zM417.0 202.00h6.8v2.3h-6.8zM319.8 204.00h6.8v2.3h-6.8zM384.6 204.00h6.8v2.3h-6.8zM417.0 204.00h6.8v2.3h-6.8zM80.0 212.00h6.8v2.3h-6.8zM118.9 212.00h6.8v2.3h-6.8zM404.1 212.00h6.8v2.3h-6.8zM131.9 214.00h13.3v2.3h-13.3zM274.4 214.00h6.8v2.3h-6.8zM332.8 214.00h6.8v2.3h-6.8zM352.2 214.00h6.8v2.3h-6.8zM365.2 214.00h6.8v2.3h-6.8zM378.1 214.00h6.8v2.3h-6.8zM391.1 214.00h6.8v2.3h-6.8zM410.6 214.00h13.3v2.3h-13.3zM397.6 218.00h6.8v2.3h-6.8zM300.4 222.00h13.3v2.3h-13.3zM80.0 224.00h6.8v2.3h-6.8zM138.3 224.00h6.8v2.3h-6.8zM397.6 224.00h6.8v2.3h-6.8zM410.6 224.00h6.8v2.3h-6.8zM118.9 226.00h6.8v2.3h-6.8zM144.8 226.00h6.8v2.3h-6.8zM268.0 226.00h6.8v2.3h-6.8zM306.9 226.00h6.8v2.3h-6.8zM326.3 226.00h6.8v2.3h-6.8zM417.0 226.00h13.3v2.3h-13.3zM280.9 230.00h6.8v2.3h-6.8zM306.9 230.00h6.8v2.3h-6.8zM125.4 236.00h6.8v2.3h-6.8zM397.6 236.00h6.8v2.3h-6.8zM397.6 238.00h6.8v2.3h-6.8zM151.3 246.00h6.8v2.3h-6.8zM384.6 246.00h6.8v2.3h-6.8zM261.5 248.00h6.8v2.3h-6.8zM306.9 248.00h6.8v2.3h-6.8zM144.8 252.00h6.8v2.3h-6.8zM268.0 252.00h6.8v2.3h-6.8zM86.5 256.00h6.8v2.3h-6.8zM112.4 256.00h6.8v2.3h-6.8zM177.2 256.00h6.8v2.3h-6.8zM151.3 262.00h6.8v2.3h-6.8zM105.9 272.00h6.8v2.3h-6.8zM157.8 272.00h6.8v2.3h-6.8zM177.2 272.00h6.8v2.3h-6.8zM255.0 272.00h6.8v2.3h-6.8zM293.9 272.00h6.8v2.3h-6.8zM306.9 272.00h6.8v2.3h-6.8zM326.3 272.00h6.8v2.3h-6.8zM86.5 276.00h6.8v2.3h-6.8zM99.4 276.00h6.8v2.3h-6.8zM287.4 276.00h6.8v2.3h-6.8zM300.4 276.00h6.8v2.3h-6.8zM118.9 278.00h6.8v2.3h-6.8zM274.4 280.00h6.8v2.3h-6.8zM157.8 282.00h6.8v2.3h-6.8zM280.9 282.00h6.8v2.3h-6.8zM293.9 282.00h6.8v2.3h-6.8zM268.0 284.00h6.8v2.3h-6.8zM203.1 288.00h6.8v2.3h-6.8zM99.4 292.00h6.8v2.3h-6.8zM144.8 294.00h6.8v2.3h-6.8zM164.3 294.00h6.8v2.3h-6.8zM216.1 294.00h6.8v2.3h-6.8zM261.5 294.00h6.8v2.3h-6.8zM274.4 294.00h13.3v2.3h-13.3zM319.8 294.00h6.8v2.3h-6.8zM177.2 298.00h6.8v2.3h-6.8zM222.6 298.00h6.8v2.3h-6.8zM248.5 300.00h6.8v2.3h-6.8zM248.5 302.00h6.8v2.3h-6.8zM248.5 304.00h6.8v2.3h-6.8zM190.2 306.00h6.8v2.3h-6.8zM222.6 306.00h6.8v2.3h-6.8zM339.3 306.00h13.3v2.3h-13.3zM397.6 306.00h6.8v2.3h-6.8zM125.4 308.00h6.8v2.3h-6.8zM144.8 308.00h6.8v2.3h-6.8zM151.3 312.00h6.8v2.3h-6.8zM170.7 312.00h6.8v2.3h-6.8zM209.6 312.00h6.8v2.3h-6.8zM222.6 312.00h6.8v2.3h-6.8zM170.7 314.00h6.8v2.3h-6.8zM190.2 314.00h6.8v2.3h-6.8zM358.7 314.00h6.8v2.3h-6.8zM209.6 318.00h6.8v2.3h-6.8zM352.2 318.00h13.3v2.3h-13.3zM358.7 322.00h6.8v2.3h-6.8zM339.3 324.00h6.8v2.3h-6.8zM242.0 326.00h6.8v2.3h-6.8zM93.0 328.00h6.8v2.3h-6.8zM177.2 328.00h6.8v2.3h-6.8zM209.6 328.00h6.8v2.3h-6.8zM222.6 328.00h6.8v2.3h-6.8zM339.3 328.00h13.3v2.3h-13.3zM151.3 332.00h6.8v2.3h-6.8zM196.7 332.00h6.8v2.3h-6.8zM222.6 332.00h6.8v2.3h-6.8zM345.7 332.00h6.8v2.3h-6.8zM358.7 332.00h6.8v2.3h-6.8zM151.3 334.00h6.8v2.3h-6.8zM190.2 334.00h13.3v2.3h-13.3zM209.6 336.00h6.8v2.3h-6.8zM358.7 336.00h6.8v2.3h-6.8zM157.8 338.00h13.3v2.3h-13.3zM105.9 341.00h6.8v2.55h-6.8zM125.4 341.00h13.3v2.55h-13.3zM177.2 341.00h6.8v2.55h-6.8zM222.6 341.00h6.8v2.55h-6.8zM248.5 341.00h6.8v2.55h-6.8zM170.7 343.25h6.8v2.55h-6.8z"/>
<path fill="#da4a4a" d="M255.0 152.00h6.8v2.3h-6.8zM112.4 160.00h6.8v2.3h-6.8zM80.0 170.00h6.8v2.3h-6.8zM222.6 170.00h6.8v2.3h-6.8zM235.6 180.00h6.8v2.3h-6.8zM151.3 188.00h6.8v2.3h-6.8zM105.9 200.00h6.8v2.3h-6.8zM248.5 200.00h6.8v2.3h-6.8zM170.7 220.00h6.8v2.3h-6.8zM229.1 232.00h6.8v2.3h-6.8zM229.1 234.00h6.8v2.3h-6.8zM248.5 234.00h6.8v2.3h-6.8zM229.1 236.00h6.8v2.3h-6.8zM384.6 266.00h6.8v2.3h-6.8zM358.7 276.00h6.8v2.3h-6.8zM268.0 278.00h6.8v2.3h-6.8zM293.9 300.00h6.8v2.3h-6.8zM293.9 302.00h6.8v2.3h-6.8zM313.3 318.00h6.8v2.3h-6.8z"/>
<path fill="#f4f2f8" d="M268.0 152.00h6.8v2.3h-6.8zM138.3 154.00h6.8v2.3h-6.8zM222.6 154.00h6.8v2.3h-6.8zM300.4 154.00h6.8v2.3h-6.8zM125.4 156.00h13.3v2.3h-13.3zM209.6 156.00h6.8v2.3h-6.8zM248.5 156.00h6.8v2.3h-6.8zM280.9 156.00h6.8v2.3h-6.8zM118.9 158.00h6.8v2.3h-6.8zM138.3 158.00h6.8v2.3h-6.8zM177.2 158.00h19.7v2.3h-19.7zM86.5 160.00h6.8v2.3h-6.8zM248.5 160.00h6.8v2.3h-6.8zM112.4 164.00h6.8v2.3h-6.8zM138.3 164.00h6.8v2.3h-6.8zM209.6 164.00h19.7v2.3h-19.7zM235.6 164.00h6.8v2.3h-6.8zM391.1 164.00h6.8v2.3h-6.8zM216.1 166.00h6.8v2.3h-6.8zM280.9 166.00h6.8v2.3h-6.8zM391.1 166.00h6.8v2.3h-6.8zM99.4 170.00h6.8v2.3h-6.8zM112.4 170.00h6.8v2.3h-6.8zM196.7 170.00h6.8v2.3h-6.8zM93.0 172.00h6.8v2.3h-6.8zM112.4 172.00h6.8v2.3h-6.8zM183.7 172.00h6.8v2.3h-6.8zM170.7 174.00h13.3v2.3h-13.3zM203.1 174.00h6.8v2.3h-6.8zM216.1 174.00h6.8v2.3h-6.8zM93.0 176.00h6.8v2.3h-6.8zM112.4 176.00h6.8v2.3h-6.8zM183.7 176.00h6.8v2.3h-6.8zM242.0 176.00h6.8v2.3h-6.8zM164.3 178.00h6.8v2.3h-6.8zM93.0 180.00h13.3v2.3h-13.3zM99.4 182.00h6.8v2.3h-6.8zM164.3 184.00h6.8v2.3h-6.8zM183.7 184.00h6.8v2.3h-6.8zM229.1 184.00h6.8v2.3h-6.8zM93.0 186.00h13.3v2.3h-13.3zM261.5 186.00h6.8v2.3h-6.8zM287.4 186.00h6.8v2.3h-6.8zM345.7 186.00h6.8v2.3h-6.8zM365.2 186.00h26.2v2.3h-26.2zM157.8 188.00h6.8v2.3h-6.8zM209.6 188.00h6.8v2.3h-6.8zM229.1 188.00h6.8v2.3h-6.8zM80.0 190.00h6.8v2.3h-6.8zM93.0 190.00h6.8v2.3h-6.8zM203.1 190.00h6.8v2.3h-6.8zM86.5 192.00h6.8v2.3h-6.8zM118.9 192.00h6.8v2.3h-6.8zM196.7 192.00h19.7v2.3h-19.7zM255.0 192.00h6.8v2.3h-6.8zM86.5 194.00h13.3v2.3h-13.3zM112.4 194.00h13.3v2.3h-13.3zM203.1 194.00h6.8v2.3h-6.8zM261.5 194.00h6.8v2.3h-6.8zM112.4 198.00h6.8v2.3h-6.8zM144.8 198.00h6.8v2.3h-6.8zM196.7 198.00h13.3v2.3h-13.3zM112.4 200.00h6.8v2.3h-6.8zM332.8 200.00h6.8v2.3h-6.8zM332.8 202.00h6.8v2.3h-6.8zM112.4 204.00h13.3v2.3h-13.3zM138.3 204.00h6.8v2.3h-6.8zM170.7 204.00h6.8v2.3h-6.8zM170.7 206.00h6.8v2.3h-6.8zM183.7 206.00h6.8v2.3h-6.8zM242.0 206.00h6.8v2.3h-6.8zM255.0 206.00h6.8v2.3h-6.8zM300.4 206.00h6.8v2.3h-6.8zM112.4 208.00h6.8v2.3h-6.8zM144.8 208.00h6.8v2.3h-6.8zM280.9 208.00h6.8v2.3h-6.8zM371.7 208.00h13.3v2.3h-13.3zM170.7 212.00h6.8v2.3h-6.8zM183.7 212.00h6.8v2.3h-6.8zM93.0 216.00h13.3v2.3h-13.3zM216.1 216.00h13.3v2.3h-13.3zM274.4 216.00h6.8v2.3h-6.8zM112.4 218.00h6.8v2.3h-6.8zM261.5 218.00h6.8v2.3h-6.8zM112.4 220.00h6.8v2.3h-6.8zM177.2 220.00h6.8v2.3h-6.8zM235.6 220.00h13.3v2.3h-13.3zM365.2 220.00h6.8v2.3h-6.8zM86.5 222.00h6.8v2.3h-6.8zM164.3 222.00h6.8v2.3h-6.8zM371.7 222.00h6.8v2.3h-6.8zM131.9 224.00h6.8v2.3h-6.8zM222.6 224.00h6.8v2.3h-6.8zM235.6 224.00h13.3v2.3h-13.3zM261.5 224.00h6.8v2.3h-6.8zM332.8 224.00h6.8v2.3h-6.8zM131.9 226.00h6.8v2.3h-6.8zM170.7 226.00h6.8v2.3h-6.8zM216.1 226.00h6.8v2.3h-6.8zM138.3 228.00h6.8v2.3h-6.8zM261.5 228.00h6.8v2.3h-6.8zM86.5 230.00h6.8v2.3h-6.8zM151.3 230.00h6.8v2.3h-6.8zM242.0 230.00h6.8v2.3h-6.8zM151.3 232.00h6.8v2.3h-6.8zM190.2 232.00h6.8v2.3h-6.8zM352.2 232.00h6.8v2.3h-6.8zM125.4 234.00h6.8v2.3h-6.8zM183.7 234.00h6.8v2.3h-6.8zM248.5 236.00h6.8v2.3h-6.8zM293.9 236.00h6.8v2.3h-6.8zM248.5 238.00h6.8v2.3h-6.8zM274.4 238.00h6.8v2.3h-6.8zM293.9 238.00h6.8v2.3h-6.8zM80.0 240.00h6.8v2.3h-6.8zM93.0 240.00h6.8v2.3h-6.8zM93.0 242.00h6.8v2.3h-6.8zM229.1 242.00h6.8v2.3h-6.8zM326.3 242.00h6.8v2.3h-6.8zM157.8 244.00h6.8v2.3h-6.8zM255.0 244.00h6.8v2.3h-6.8zM391.1 244.00h13.3v2.3h-13.3zM118.9 246.00h6.8v2.3h-6.8zM306.9 246.00h6.8v2.3h-6.8zM410.6 246.00h6.8v2.3h-6.8zM196.7 248.00h6.8v2.3h-6.8zM332.8 248.00h6.8v2.3h-6.8zM371.7 248.00h6.8v2.3h-6.8zM410.6 248.00h6.8v2.3h-6.8zM125.4 250.00h6.8v2.3h-6.8zM170.7 250.00h6.8v2.3h-6.8zM332.8 250.00h13.3v2.3h-13.3zM352.2 250.00h6.8v2.3h-6.8zM365.2 250.00h6.8v2.3h-6.8zM112.4 252.00h6.8v2.3h-6.8zM170.7 252.00h6.8v2.3h-6.8zM196.7 252.00h6.8v2.3h-6.8zM222.6 252.00h19.7v2.3h-19.7zM332.8 252.00h6.8v2.3h-6.8zM352.2 252.00h6.8v2.3h-6.8zM378.1 252.00h6.8v2.3h-6.8zM105.9 254.00h6.8v2.3h-6.8zM131.9 254.00h6.8v2.3h-6.8zM151.3 254.00h6.8v2.3h-6.8zM235.6 254.00h6.8v2.3h-6.8zM248.5 254.00h6.8v2.3h-6.8zM410.6 254.00h6.8v2.3h-6.8zM203.1 256.00h6.8v2.3h-6.8zM313.3 256.00h6.8v2.3h-6.8zM332.8 256.00h6.8v2.3h-6.8zM144.8 258.00h6.8v2.3h-6.8zM332.8 258.00h6.8v2.3h-6.8zM365.2 258.00h6.8v2.3h-6.8zM417.0 258.00h6.8v2.3h-6.8zM80.0 260.00h6.8v2.3h-6.8zM125.4 260.00h13.3v2.3h-13.3zM157.8 260.00h6.8v2.3h-6.8zM190.2 260.00h6.8v2.3h-6.8zM365.2 260.00h6.8v2.3h-6.8zM423.5 260.00h6.8v2.3h-6.8zM190.2 262.00h13.3v2.3h-13.3zM332.8 262.00h6.8v2.3h-6.8zM345.7 262.00h6.8v2.3h-6.8zM365.2 262.00h6.8v2.3h-6.8zM423.5 262.00h6.8v2.3h-6.8zM209.6 264.00h6.8v2.3h-6.8zM118.9 266.00h6.8v2.3h-6.8zM138.3 266.00h6.8v2.3h-6.8zM170.7 266.00h6.8v2.3h-6.8zM326.3 266.00h6.8v2.3h-6.8zM365.2 266.00h6.8v2.3h-6.8zM112.4 268.00h13.3v2.3h-13.3zM242.0 268.00h13.3v2.3h-13.3zM352.2 268.00h6.8v2.3h-6.8zM371.7 268.00h6.8v2.3h-6.8zM86.5 270.00h6.8v2.3h-6.8zM177.2 270.00h6.8v2.3h-6.8zM196.7 270.00h6.8v2.3h-6.8zM216.1 270.00h6.8v2.3h-6.8zM242.0 270.00h6.8v2.3h-6.8zM358.7 270.00h6.8v2.3h-6.8zM151.3 272.00h6.8v2.3h-6.8zM80.0 274.00h6.8v2.3h-6.8zM93.0 274.00h6.8v2.3h-6.8zM112.4 274.00h13.3v2.3h-13.3zM268.0 274.00h6.8v2.3h-6.8zM300.4 274.00h6.8v2.3h-6.8zM216.1 276.00h6.8v2.3h-6.8zM255.0 276.00h6.8v2.3h-6.8zM332.8 276.00h6.8v2.3h-6.8zM138.3 278.00h6.8v2.3h-6.8zM190.2 278.00h6.8v2.3h-6.8zM248.5 278.00h6.8v2.3h-6.8zM339.3 278.00h6.8v2.3h-6.8zM423.5 278.00h6.8v2.3h-6.8zM144.8 280.00h6.8v2.3h-6.8zM209.6 280.00h6.8v2.3h-6.8zM358.7 280.00h6.8v2.3h-6.8zM423.5 280.00h6.8v2.3h-6.8zM144.8 282.00h6.8v2.3h-6.8zM268.0 282.00h6.8v2.3h-6.8zM300.4 282.00h6.8v2.3h-6.8zM358.7 282.00h6.8v2.3h-6.8zM423.5 282.00h6.8v2.3h-6.8zM164.3 284.00h13.3v2.3h-13.3zM183.7 284.00h13.3v2.3h-13.3zM209.6 284.00h6.8v2.3h-6.8zM248.5 284.00h6.8v2.3h-6.8zM397.6 284.00h6.8v2.3h-6.8zM410.6 284.00h6.8v2.3h-6.8zM157.8 286.00h6.8v2.3h-6.8zM170.7 286.00h6.8v2.3h-6.8zM203.1 286.00h13.3v2.3h-13.3zM326.3 286.00h6.8v2.3h-6.8zM365.2 286.00h6.8v2.3h-6.8zM384.6 286.00h6.8v2.3h-6.8zM404.1 286.00h6.8v2.3h-6.8zM112.4 288.00h6.8v2.3h-6.8zM125.4 288.00h6.8v2.3h-6.8zM365.2 288.00h6.8v2.3h-6.8zM391.1 288.00h6.8v2.3h-6.8zM125.4 290.00h6.8v2.3h-6.8zM144.8 290.00h6.8v2.3h-6.8zM177.2 290.00h6.8v2.3h-6.8zM378.1 290.00h6.8v2.3h-6.8zM105.9 292.00h6.8v2.3h-6.8zM138.3 292.00h6.8v2.3h-6.8zM157.8 292.00h6.8v2.3h-6.8zM203.1 292.00h6.8v2.3h-6.8zM287.4 292.00h6.8v2.3h-6.8zM397.6 292.00h6.8v2.3h-6.8zM417.0 292.00h6.8v2.3h-6.8zM404.1 294.00h6.8v2.3h-6.8zM86.5 296.00h6.8v2.3h-6.8zM404.1 296.00h6.8v2.3h-6.8zM138.3 298.00h6.8v2.3h-6.8zM268.0 298.00h6.8v2.3h-6.8zM326.3 298.00h6.8v2.3h-6.8zM339.3 298.00h6.8v2.3h-6.8zM378.1 298.00h6.8v2.3h-6.8zM391.1 298.00h6.8v2.3h-6.8zM80.0 300.00h6.8v2.3h-6.8zM93.0 300.00h6.8v2.3h-6.8zM222.6 300.00h6.8v2.3h-6.8zM358.7 300.00h6.8v2.3h-6.8zM86.5 302.00h13.3v2.3h-13.3zM183.7 302.00h6.8v2.3h-6.8zM93.0 304.00h6.8v2.3h-6.8zM118.9 304.00h6.8v2.3h-6.8zM157.8 304.00h6.8v2.3h-6.8zM242.0 304.00h6.8v2.3h-6.8zM306.9 304.00h6.8v2.3h-6.8zM371.7 304.00h6.8v2.3h-6.8zM151.3 306.00h13.3v2.3h-13.3zM203.1 306.00h13.3v2.3h-13.3zM378.1 306.00h6.8v2.3h-6.8zM80.0 308.00h6.8v2.3h-6.8zM255.0 308.00h6.8v2.3h-6.8zM293.9 308.00h6.8v2.3h-6.8zM417.0 308.00h6.8v2.3h-6.8zM80.0 310.00h6.8v2.3h-6.8zM86.5 312.00h6.8v2.3h-6.8zM144.8 312.00h6.8v2.3h-6.8zM229.1 312.00h6.8v2.3h-6.8zM242.0 312.00h6.8v2.3h-6.8zM332.8 312.00h6.8v2.3h-6.8zM203.1 314.00h6.8v2.3h-6.8zM229.1 314.00h6.8v2.3h-6.8zM293.9 314.00h6.8v2.3h-6.8zM319.8 314.00h6.8v2.3h-6.8zM378.1 314.00h6.8v2.3h-6.8zM410.6 314.00h6.8v2.3h-6.8zM138.3 316.00h13.3v2.3h-13.3zM203.1 316.00h6.8v2.3h-6.8zM326.3 316.00h6.8v2.3h-6.8zM371.7 316.00h6.8v2.3h-6.8zM384.6 316.00h6.8v2.3h-6.8zM242.0 318.00h6.8v2.3h-6.8zM326.3 318.00h6.8v2.3h-6.8zM365.2 318.00h13.3v2.3h-13.3zM384.6 318.00h6.8v2.3h-6.8zM99.4 320.00h6.8v2.3h-6.8zM144.8 320.00h6.8v2.3h-6.8zM274.4 320.00h6.8v2.3h-6.8zM319.8 320.00h6.8v2.3h-6.8zM423.5 320.00h6.8v2.3h-6.8zM86.5 322.00h6.8v2.3h-6.8zM125.4 322.00h6.8v2.3h-6.8zM138.3 322.00h6.8v2.3h-6.8zM203.1 322.00h6.8v2.3h-6.8zM242.0 322.00h6.8v2.3h-6.8zM397.6 322.00h6.8v2.3h-6.8zM410.6 322.00h6.8v2.3h-6.8zM423.5 322.00h6.8v2.3h-6.8zM80.0 324.00h6.8v2.3h-6.8zM203.1 324.00h6.8v2.3h-6.8zM274.4 324.00h6.8v2.3h-6.8zM319.8 324.00h6.8v2.3h-6.8zM378.1 324.00h6.8v2.3h-6.8zM410.6 324.00h6.8v2.3h-6.8zM105.9 326.00h6.8v2.3h-6.8zM86.5 328.00h6.8v2.3h-6.8zM105.9 328.00h6.8v2.3h-6.8zM378.1 328.00h6.8v2.3h-6.8zM410.6 328.00h6.8v2.3h-6.8zM423.5 328.00h6.8v2.3h-6.8zM138.3 330.00h6.8v2.3h-6.8zM203.1 330.00h6.8v2.3h-6.8zM242.0 330.00h6.8v2.3h-6.8zM274.4 330.00h6.8v2.3h-6.8zM326.3 330.00h13.3v2.3h-13.3zM423.5 330.00h6.8v2.3h-6.8zM319.8 332.00h6.8v2.3h-6.8zM423.5 332.00h6.8v2.3h-6.8zM144.8 334.00h6.8v2.3h-6.8zM319.8 334.00h6.8v2.3h-6.8zM410.6 334.00h6.8v2.3h-6.8zM371.7 336.00h6.8v2.3h-6.8zM384.6 336.00h6.8v2.3h-6.8zM203.1 338.00h6.8v2.3h-6.8zM268.0 341.00h6.8v2.55h-6.8zM332.8 341.00h6.8v2.55h-6.8zM345.7 341.00h13.3v2.55h-13.3zM371.7 341.00h6.8v2.55h-6.8zM313.3 343.25h6.8v2.55h-6.8zM339.3 343.25h6.8v2.55h-6.8zM358.7 343.25h6.8v2.55h-6.8zM417.0 343.25h6.8v2.55h-6.8z"/>
<path fill="#f5e2e5" d="M280.9 152.00h6.8v2.3h-6.8zM423.5 152.00h6.8v2.3h-6.8zM118.9 154.00h6.8v2.3h-6.8zM170.7 154.00h6.8v2.3h-6.8zM235.6 154.00h6.8v2.3h-6.8zM157.8 156.00h6.8v2.3h-6.8zM306.9 156.00h6.8v2.3h-6.8zM125.4 158.00h6.8v2.3h-6.8zM157.8 158.00h6.8v2.3h-6.8zM313.3 158.00h6.8v2.3h-6.8zM352.2 160.00h6.8v2.3h-6.8zM229.1 164.00h6.8v2.3h-6.8zM248.5 164.00h6.8v2.3h-6.8zM112.4 166.00h6.8v2.3h-6.8zM157.8 166.00h6.8v2.3h-6.8zM209.6 166.00h6.8v2.3h-6.8zM86.5 170.00h6.8v2.3h-6.8zM164.3 170.00h6.8v2.3h-6.8zM300.4 170.00h6.8v2.3h-6.8zM164.3 172.00h6.8v2.3h-6.8zM99.4 174.00h6.8v2.3h-6.8zM326.3 174.00h6.8v2.3h-6.8zM164.3 176.00h6.8v2.3h-6.8zM222.6 176.00h6.8v2.3h-6.8zM255.0 176.00h6.8v2.3h-6.8zM319.8 176.00h6.8v2.3h-6.8zM93.0 178.00h6.8v2.3h-6.8zM112.4 178.00h6.8v2.3h-6.8zM242.0 178.00h6.8v2.3h-6.8zM164.3 182.00h6.8v2.3h-6.8zM255.0 184.00h6.8v2.3h-6.8zM105.9 186.00h6.8v2.3h-6.8zM118.9 186.00h6.8v2.3h-6.8zM196.7 186.00h13.3v2.3h-13.3zM300.4 186.00h6.8v2.3h-6.8zM112.4 188.00h6.8v2.3h-6.8zM164.3 190.00h6.8v2.3h-6.8zM313.3 190.00h6.8v2.3h-6.8zM112.4 192.00h6.8v2.3h-6.8zM157.8 192.00h6.8v2.3h-6.8zM222.6 192.00h6.8v2.3h-6.8zM261.5 192.00h6.8v2.3h-6.8zM157.8 196.00h6.8v2.3h-6.8zM216.1 200.00h6.8v2.3h-6.8zM112.4 202.00h6.8v2.3h-6.8zM190.2 202.00h6.8v2.3h-6.8zM242.0 202.00h6.8v2.3h-6.8zM190.2 206.00h6.8v2.3h-6.8zM151.3 210.00h6.8v2.3h-6.8zM190.2 210.00h6.8v2.3h-6.8zM313.3 210.00h6.8v2.3h-6.8zM164.3 212.00h6.8v2.3h-6.8zM93.0 218.00h6.8v2.3h-6.8zM216.1 218.00h6.8v2.3h-6.8zM235.6 218.00h13.3v2.3h-13.3zM86.5 220.00h6.8v2.3h-6.8zM125.4 220.00h6.8v2.3h-6.8zM138.3 220.00h6.8v2.3h-6.8zM371.7 220.00h6.8v2.3h-6.8zM138.3 222.00h6.8v2.3h-6.8zM157.8 222.00h6.8v2.3h-6.8zM242.0 222.00h6.8v2.3h-6.8zM352.2 226.00h6.8v2.3h-6.8zM112.4 228.00h6.8v2.3h-6.8zM274.4 232.00h6.8v2.3h-6.8zM131.9 234.00h6.8v2.3h-6.8zM151.3 234.00h13.3v2.3h-13.3zM196.7 234.00h6.8v2.3h-6.8zM222.6 234.00h6.8v2.3h-6.8zM345.7 234.00h13.3v2.3h-13.3zM306.9 238.00h6.8v2.3h-6.8zM86.5 240.00h6.8v2.3h-6.8zM138.3 240.00h6.8v2.3h-6.8zM190.2 240.00h6.8v2.3h-6.8zM300.4 240.00h6.8v2.3h-6.8zM326.3 240.00h13.3v2.3h-13.3zM371.7 240.00h6.8v2.3h-6.8zM80.0 242.00h13.3v2.3h-13.3zM196.7 242.00h6.8v2.3h-6.8zM222.6 242.00h6.8v2.3h-6.8zM255.0 242.00h6.8v2.3h-6.8zM293.9 242.00h6.8v2.3h-6.8zM371.7 242.00h6.8v2.3h-6.8zM80.0 244.00h13.3v2.3h-13.3zM203.1 244.00h6.8v2.3h-6.8zM222.6 244.00h13.3v2.3h-13.3zM313.3 244.00h6.8v2.3h-6.8zM332.8 244.00h13.3v2.3h-13.3zM423.5 244.00h6.8v2.3h-6.8zM86.5 248.00h6.8v2.3h-6.8zM131.9 250.00h6.8v2.3h-6.8zM164.3 250.00h6.8v2.3h-6.8zM229.1 250.00h6.8v2.3h-6.8zM118.9 252.00h6.8v2.3h-6.8zM151.3 252.00h6.8v2.3h-6.8zM365.2 252.00h6.8v2.3h-6.8zM112.4 260.00h6.8v2.3h-6.8zM164.3 260.00h6.8v2.3h-6.8zM177.2 260.00h6.8v2.3h-6.8zM332.8 260.00h6.8v2.3h-6.8zM170.7 262.00h6.8v2.3h-6.8zM118.9 264.00h6.8v2.3h-6.8zM177.2 264.00h6.8v2.3h-6.8zM222.6 264.00h6.8v2.3h-6.8zM326.3 264.00h19.7v2.3h-19.7zM378.1 264.00h6.8v2.3h-6.8zM131.9 266.00h6.8v2.3h-6.8zM196.7 266.00h6.8v2.3h-6.8zM371.7 266.00h6.8v2.3h-6.8zM196.7 268.00h6.8v2.3h-6.8zM105.9 270.00h6.8v2.3h-6.8zM118.9 270.00h6.8v2.3h-6.8zM352.2 270.00h6.8v2.3h-6.8zM203.1 272.00h6.8v2.3h-6.8zM86.5 274.00h6.8v2.3h-6.8zM183.7 274.00h6.8v2.3h-6.8zM229.1 274.00h13.3v2.3h-13.3zM345.7 274.00h6.8v2.3h-6.8zM222.6 276.00h6.8v2.3h-6.8zM391.1 276.00h6.8v2.3h-6.8zM216.1 278.00h6.8v2.3h-6.8zM365.2 278.00h6.8v2.3h-6.8zM242.0 282.00h6.8v2.3h-6.8zM203.1 284.00h6.8v2.3h-6.8zM131.9 286.00h6.8v2.3h-6.8zM164.3 286.00h6.8v2.3h-6.8zM183.7 286.00h6.8v2.3h-6.8zM248.5 286.00h6.8v2.3h-6.8zM410.6 286.00h6.8v2.3h-6.8zM177.2 288.00h13.3v2.3h-13.3zM131.9 290.00h6.8v2.3h-6.8zM157.8 290.00h6.8v2.3h-6.8zM196.7 290.00h6.8v2.3h-6.8zM417.0 290.00h6.8v2.3h-6.8zM222.6 292.00h6.8v2.3h-6.8zM248.5 292.00h6.8v2.3h-6.8zM352.2 294.00h6.8v2.3h-6.8zM80.0 296.00h6.8v2.3h-6.8zM138.3 296.00h6.8v2.3h-6.8zM203.1 296.00h6.8v2.3h-6.8zM268.0 296.00h6.8v2.3h-6.8zM345.7 296.00h6.8v2.3h-6.8zM391.1 296.00h13.3v2.3h-13.3zM144.8 298.00h6.8v2.3h-6.8zM105.9 300.00h6.8v2.3h-6.8zM125.4 300.00h6.8v2.3h-6.8zM183.7 300.00h6.8v2.3h-6.8zM203.1 300.00h6.8v2.3h-6.8zM332.8 300.00h6.8v2.3h-6.8zM365.2 300.00h6.8v2.3h-6.8zM203.1 302.00h6.8v2.3h-6.8zM222.6 302.00h6.8v2.3h-6.8zM352.2 302.00h13.3v2.3h-13.3zM86.5 306.00h6.8v2.3h-6.8zM112.4 306.00h13.3v2.3h-13.3zM144.8 306.00h6.8v2.3h-6.8zM177.2 306.00h6.8v2.3h-6.8zM99.4 310.00h6.8v2.3h-6.8zM118.9 310.00h6.8v2.3h-6.8zM138.3 310.00h6.8v2.3h-6.8zM177.2 310.00h6.8v2.3h-6.8zM203.1 310.00h13.3v2.3h-13.3zM255.0 310.00h6.8v2.3h-6.8zM280.9 310.00h6.8v2.3h-6.8zM293.9 310.00h13.3v2.3h-13.3zM365.2 310.00h13.3v2.3h-13.3zM80.0 312.00h6.8v2.3h-6.8zM112.4 312.00h6.8v2.3h-6.8zM203.1 312.00h6.8v2.3h-6.8zM293.9 312.00h6.8v2.3h-6.8zM326.3 312.00h6.8v2.3h-6.8zM365.2 312.00h6.8v2.3h-6.8zM410.6 312.00h6.8v2.3h-6.8zM319.8 316.00h6.8v2.3h-6.8zM423.5 316.00h6.8v2.3h-6.8zM332.8 318.00h6.8v2.3h-6.8zM423.5 318.00h6.8v2.3h-6.8zM138.3 320.00h6.8v2.3h-6.8zM274.4 322.00h6.8v2.3h-6.8zM378.1 322.00h6.8v2.3h-6.8zM99.4 326.00h6.8v2.3h-6.8zM326.3 326.00h6.8v2.3h-6.8zM332.8 328.00h6.8v2.3h-6.8zM397.6 328.00h6.8v2.3h-6.8zM86.5 332.00h13.3v2.3h-13.3zM105.9 332.00h6.8v2.3h-6.8zM203.1 332.00h6.8v2.3h-6.8zM242.0 332.00h6.8v2.3h-6.8zM332.8 332.00h6.8v2.3h-6.8zM86.5 334.00h6.8v2.3h-6.8zM138.3 334.00h6.8v2.3h-6.8zM255.0 334.00h6.8v2.3h-6.8zM371.7 334.00h6.8v2.3h-6.8zM144.8 336.00h6.8v2.3h-6.8zM423.5 338.00h6.8v2.3h-6.8zM319.8 343.25h6.8v2.55h-6.8zM365.2 343.25h6.8v2.55h-6.8z"/>
<path fill="#cccfeb" d="M384.6 152.00h6.8v2.3h-6.8zM86.5 154.00h6.8v2.3h-6.8zM131.9 154.00h6.8v2.3h-6.8zM209.6 154.00h13.3v2.3h-13.3zM306.9 154.00h6.8v2.3h-6.8zM332.8 154.00h6.8v2.3h-6.8zM345.7 154.00h6.8v2.3h-6.8zM371.7 154.00h6.8v2.3h-6.8zM404.1 154.00h13.3v2.3h-13.3zM86.5 156.00h6.8v2.3h-6.8zM164.3 156.00h6.8v2.3h-6.8zM242.0 156.00h6.8v2.3h-6.8zM352.2 156.00h6.8v2.3h-6.8zM391.1 156.00h6.8v2.3h-6.8zM417.0 156.00h6.8v2.3h-6.8zM164.3 158.00h13.3v2.3h-13.3zM222.6 158.00h13.3v2.3h-13.3zM339.3 158.00h6.8v2.3h-6.8zM371.7 158.00h6.8v2.3h-6.8zM93.0 160.00h6.8v2.3h-6.8zM190.2 160.00h6.8v2.3h-6.8zM300.4 160.00h6.8v2.3h-6.8zM319.8 160.00h6.8v2.3h-6.8zM332.8 160.00h13.3v2.3h-13.3zM365.2 160.00h13.3v2.3h-13.3zM404.1 160.00h6.8v2.3h-6.8zM423.5 160.00h6.8v2.3h-6.8zM280.9 162.00h6.8v2.3h-6.8zM313.3 162.00h6.8v2.3h-6.8zM99.4 164.00h6.8v2.3h-6.8zM190.2 164.00h13.3v2.3h-13.3zM261.5 164.00h19.7v2.3h-19.7zM287.4 164.00h6.8v2.3h-6.8zM306.9 164.00h6.8v2.3h-6.8zM352.2 164.00h6.8v2.3h-6.8zM378.1 164.00h13.3v2.3h-13.3zM410.6 164.00h6.8v2.3h-6.8zM177.2 166.00h6.8v2.3h-6.8zM190.2 166.00h6.8v2.3h-6.8zM306.9 166.00h6.8v2.3h-6.8zM326.3 166.00h6.8v2.3h-6.8zM352.2 166.00h6.8v2.3h-6.8zM378.1 166.00h6.8v2.3h-6.8zM112.4 168.00h6.8v2.3h-6.8zM319.8 168.00h6.8v2.3h-6.8zM339.3 168.00h6.8v2.3h-6.8zM371.7 168.00h6.8v2.3h-6.8zM93.0 170.00h6.8v2.3h-6.8zM203.1 170.00h6.8v2.3h-6.8zM261.5 170.00h6.8v2.3h-6.8zM313.3 170.00h13.3v2.3h-13.3zM391.1 170.00h6.8v2.3h-6.8zM417.0 170.00h6.8v2.3h-6.8zM300.4 172.00h6.8v2.3h-6.8zM319.8 174.00h6.8v2.3h-6.8zM352.2 174.00h13.3v2.3h-13.3zM209.6 176.00h6.8v2.3h-6.8zM274.4 176.00h6.8v2.3h-6.8zM287.4 176.00h6.8v2.3h-6.8zM332.8 176.00h6.8v2.3h-6.8zM365.2 176.00h6.8v2.3h-6.8zM378.1 176.00h6.8v2.3h-6.8zM378.1 178.00h6.8v2.3h-6.8zM105.9 180.00h6.8v2.3h-6.8zM164.3 180.00h6.8v2.3h-6.8zM274.4 180.00h6.8v2.3h-6.8zM319.8 180.00h6.8v2.3h-6.8zM352.2 180.00h19.7v2.3h-19.7zM105.9 182.00h6.8v2.3h-6.8zM125.4 182.00h6.8v2.3h-6.8zM170.7 182.00h6.8v2.3h-6.8zM268.0 182.00h13.3v2.3h-13.3zM293.9 182.00h6.8v2.3h-6.8zM306.9 182.00h13.3v2.3h-13.3zM352.2 182.00h6.8v2.3h-6.8zM378.1 182.00h6.8v2.3h-6.8zM80.0 184.00h19.7v2.3h-19.7zM170.7 184.00h6.8v2.3h-6.8zM196.7 184.00h6.8v2.3h-6.8zM261.5 184.00h6.8v2.3h-6.8zM287.4 184.00h6.8v2.3h-6.8zM404.1 184.00h13.3v2.3h-13.3zM118.9 188.00h6.8v2.3h-6.8zM293.9 188.00h6.8v2.3h-6.8zM326.3 188.00h6.8v2.3h-6.8zM352.2 188.00h6.8v2.3h-6.8zM365.2 188.00h6.8v2.3h-6.8zM410.6 188.00h6.8v2.3h-6.8zM319.8 190.00h6.8v2.3h-6.8zM352.2 190.00h6.8v2.3h-6.8zM125.4 192.00h6.8v2.3h-6.8zM280.9 192.00h13.3v2.3h-13.3zM339.3 192.00h6.8v2.3h-6.8zM358.7 192.00h6.8v2.3h-6.8zM378.1 192.00h13.3v2.3h-13.3zM404.1 192.00h26.2v2.3h-26.2zM125.4 194.00h6.8v2.3h-6.8zM268.0 194.00h13.3v2.3h-13.3zM306.9 194.00h6.8v2.3h-6.8zM319.8 194.00h6.8v2.3h-6.8zM332.8 194.00h26.2v2.3h-26.2zM365.2 194.00h6.8v2.3h-6.8zM417.0 194.00h6.8v2.3h-6.8zM345.7 198.00h6.8v2.3h-6.8zM404.1 198.00h6.8v2.3h-6.8zM86.5 200.00h6.8v2.3h-6.8zM177.2 200.00h6.8v2.3h-6.8zM274.4 200.00h6.8v2.3h-6.8zM293.9 200.00h6.8v2.3h-6.8zM378.1 200.00h6.8v2.3h-6.8zM261.5 202.00h6.8v2.3h-6.8zM300.4 202.00h6.8v2.3h-6.8zM365.2 202.00h6.8v2.3h-6.8zM397.6 202.00h6.8v2.3h-6.8zM99.4 204.00h13.3v2.3h-13.3zM268.0 204.00h6.8v2.3h-6.8zM280.9 204.00h13.3v2.3h-13.3zM80.0 206.00h13.3v2.3h-13.3zM293.9 206.00h6.8v2.3h-6.8zM306.9 206.00h13.3v2.3h-13.3zM326.3 206.00h13.3v2.3h-13.3zM345.7 206.00h13.3v2.3h-13.3zM371.7 206.00h13.3v2.3h-13.3zM397.6 206.00h6.8v2.3h-6.8zM80.0 208.00h6.8v2.3h-6.8zM93.0 208.00h6.8v2.3h-6.8zM80.0 210.00h6.8v2.3h-6.8zM99.4 210.00h6.8v2.3h-6.8zM125.4 210.00h6.8v2.3h-6.8zM319.8 210.00h6.8v2.3h-6.8zM365.2 210.00h6.8v2.3h-6.8zM391.1 210.00h13.3v2.3h-13.3zM99.4 212.00h19.7v2.3h-19.7zM268.0 212.00h6.8v2.3h-6.8zM339.3 212.00h6.8v2.3h-6.8zM352.2 212.00h13.3v2.3h-13.3zM170.7 214.00h6.8v2.3h-6.8zM423.5 214.00h6.8v2.3h-6.8zM105.9 216.00h6.8v2.3h-6.8zM151.3 216.00h6.8v2.3h-6.8zM177.2 216.00h6.8v2.3h-6.8zM345.7 216.00h6.8v2.3h-6.8zM371.7 216.00h13.3v2.3h-13.3zM397.6 216.00h6.8v2.3h-6.8zM417.0 216.00h13.3v2.3h-13.3zM105.9 218.00h6.8v2.3h-6.8zM177.2 218.00h6.8v2.3h-6.8zM280.9 218.00h6.8v2.3h-6.8zM313.3 218.00h6.8v2.3h-6.8zM345.7 218.00h6.8v2.3h-6.8zM365.2 218.00h6.8v2.3h-6.8zM99.4 220.00h6.8v2.3h-6.8zM268.0 220.00h6.8v2.3h-6.8zM306.9 220.00h13.3v2.3h-13.3zM332.8 220.00h6.8v2.3h-6.8zM345.7 220.00h6.8v2.3h-6.8zM410.6 220.00h6.8v2.3h-6.8zM80.0 222.00h6.8v2.3h-6.8zM93.0 222.00h6.8v2.3h-6.8zM151.3 222.00h6.8v2.3h-6.8zM268.0 222.00h6.8v2.3h-6.8zM293.9 222.00h6.8v2.3h-6.8zM319.8 222.00h6.8v2.3h-6.8zM345.7 222.00h6.8v2.3h-6.8zM358.7 222.00h6.8v2.3h-6.8zM378.1 222.00h6.8v2.3h-6.8zM410.6 222.00h6.8v2.3h-6.8zM151.3 224.00h13.3v2.3h-13.3zM274.4 224.00h6.8v2.3h-6.8zM300.4 224.00h6.8v2.3h-6.8zM365.2 224.00h6.8v2.3h-6.8zM384.6 224.00h6.8v2.3h-6.8zM404.1 224.00h6.8v2.3h-6.8zM125.4 226.00h6.8v2.3h-6.8zM274.4 226.00h6.8v2.3h-6.8zM293.9 226.00h6.8v2.3h-6.8zM118.9 228.00h6.8v2.3h-6.8zM268.0 228.00h6.8v2.3h-6.8zM404.1 228.00h6.8v2.3h-6.8zM417.0 228.00h6.8v2.3h-6.8zM80.0 230.00h6.8v2.3h-6.8zM287.4 230.00h6.8v2.3h-6.8zM332.8 230.00h6.8v2.3h-6.8zM391.1 230.00h6.8v2.3h-6.8zM86.5 232.00h6.8v2.3h-6.8zM125.4 232.00h6.8v2.3h-6.8zM138.3 232.00h6.8v2.3h-6.8zM313.3 232.00h6.8v2.3h-6.8zM326.3 232.00h6.8v2.3h-6.8zM339.3 232.00h6.8v2.3h-6.8zM417.0 232.00h6.8v2.3h-6.8zM86.5 234.00h6.8v2.3h-6.8zM300.4 234.00h6.8v2.3h-6.8zM417.0 234.00h6.8v2.3h-6.8zM86.5 236.00h6.8v2.3h-6.8zM151.3 236.00h6.8v2.3h-6.8zM300.4 236.00h6.8v2.3h-6.8zM345.7 236.00h6.8v2.3h-6.8zM365.2 236.00h6.8v2.3h-6.8zM384.6 236.00h6.8v2.3h-6.8zM410.6 236.00h6.8v2.3h-6.8zM80.0 238.00h6.8v2.3h-6.8zM105.9 238.00h6.8v2.3h-6.8zM125.4 238.00h6.8v2.3h-6.8zM151.3 238.00h6.8v2.3h-6.8zM177.2 238.00h13.3v2.3h-13.3zM391.1 238.00h6.8v2.3h-6.8zM404.1 238.00h26.2v2.3h-26.2zM170.7 240.00h6.8v2.3h-6.8zM183.7 240.00h6.8v2.3h-6.8zM319.8 240.00h6.8v2.3h-6.8zM118.9 242.00h13.3v2.3h-13.3zM358.7 242.00h6.8v2.3h-6.8zM268.0 246.00h6.8v2.3h-6.8zM99.4 248.00h6.8v2.3h-6.8zM183.7 248.00h6.8v2.3h-6.8zM293.9 248.00h13.3v2.3h-13.3zM118.9 250.00h6.8v2.3h-6.8zM280.9 250.00h13.3v2.3h-13.3zM306.9 250.00h19.7v2.3h-19.7zM80.0 252.00h6.8v2.3h-6.8zM164.3 252.00h6.8v2.3h-6.8zM203.1 252.00h6.8v2.3h-6.8zM242.0 252.00h6.8v2.3h-6.8zM287.4 252.00h6.8v2.3h-6.8zM313.3 252.00h6.8v2.3h-6.8zM93.0 254.00h6.8v2.3h-6.8zM125.4 254.00h6.8v2.3h-6.8zM138.3 254.00h13.3v2.3h-13.3zM164.3 254.00h6.8v2.3h-6.8zM177.2 254.00h13.3v2.3h-13.3zM209.6 254.00h6.8v2.3h-6.8zM280.9 254.00h6.8v2.3h-6.8zM300.4 254.00h13.3v2.3h-13.3zM319.8 254.00h6.8v2.3h-6.8zM80.0 256.00h6.8v2.3h-6.8zM99.4 256.00h6.8v2.3h-6.8zM138.3 256.00h6.8v2.3h-6.8zM157.8 256.00h13.3v2.3h-13.3zM183.7 256.00h6.8v2.3h-6.8zM222.6 256.00h19.7v2.3h-19.7zM255.0 256.00h6.8v2.3h-6.8zM268.0 256.00h6.8v2.3h-6.8zM280.9 256.00h6.8v2.3h-6.8zM306.9 256.00h6.8v2.3h-6.8zM326.3 256.00h6.8v2.3h-6.8zM112.4 258.00h6.8v2.3h-6.8zM151.3 258.00h13.3v2.3h-13.3zM170.7 258.00h6.8v2.3h-6.8zM196.7 258.00h6.8v2.3h-6.8zM235.6 258.00h6.8v2.3h-6.8zM293.9 258.00h6.8v2.3h-6.8zM93.0 260.00h19.7v2.3h-19.7zM138.3 260.00h19.7v2.3h-19.7zM203.1 260.00h6.8v2.3h-6.8zM216.1 260.00h6.8v2.3h-6.8zM229.1 260.00h13.3v2.3h-13.3zM268.0 260.00h6.8v2.3h-6.8zM280.9 260.00h6.8v2.3h-6.8zM293.9 260.00h6.8v2.3h-6.8zM99.4 262.00h6.8v2.3h-6.8zM222.6 262.00h13.3v2.3h-13.3zM306.9 262.00h6.8v2.3h-6.8zM319.8 262.00h6.8v2.3h-6.8zM80.0 264.00h6.8v2.3h-6.8zM105.9 264.00h6.8v2.3h-6.8zM229.1 264.00h19.7v2.3h-19.7zM293.9 264.00h6.8v2.3h-6.8zM313.3 264.00h6.8v2.3h-6.8zM80.0 266.00h19.7v2.3h-19.7zM125.4 266.00h6.8v2.3h-6.8zM287.4 266.00h6.8v2.3h-6.8zM358.7 266.00h6.8v2.3h-6.8zM125.4 268.00h6.8v2.3h-6.8zM144.8 268.00h6.8v2.3h-6.8zM235.6 268.00h6.8v2.3h-6.8zM261.5 268.00h6.8v2.3h-6.8zM274.4 268.00h6.8v2.3h-6.8zM293.9 268.00h6.8v2.3h-6.8zM313.3 268.00h6.8v2.3h-6.8zM80.0 270.00h6.8v2.3h-6.8zM125.4 270.00h6.8v2.3h-6.8zM183.7 270.00h6.8v2.3h-6.8zM255.0 270.00h6.8v2.3h-6.8zM293.9 270.00h13.3v2.3h-13.3zM319.8 270.00h6.8v2.3h-6.8zM105.9 276.00h6.8v2.3h-6.8zM190.2 276.00h6.8v2.3h-6.8zM235.6 276.00h6.8v2.3h-6.8zM371.7 276.00h6.8v2.3h-6.8zM423.5 276.00h6.8v2.3h-6.8zM86.5 278.00h6.8v2.3h-6.8zM99.4 278.00h6.8v2.3h-6.8zM112.4 278.00h6.8v2.3h-6.8zM144.8 278.00h6.8v2.3h-6.8zM196.7 278.00h6.8v2.3h-6.8zM242.0 278.00h6.8v2.3h-6.8zM274.4 278.00h6.8v2.3h-6.8zM293.9 278.00h6.8v2.3h-6.8zM404.1 278.00h6.8v2.3h-6.8zM99.4 280.00h6.8v2.3h-6.8zM112.4 280.00h6.8v2.3h-6.8zM157.8 280.00h6.8v2.3h-6.8zM248.5 280.00h6.8v2.3h-6.8zM293.9 280.00h6.8v2.3h-6.8zM138.3 282.00h6.8v2.3h-6.8zM151.3 282.00h6.8v2.3h-6.8zM164.3 282.00h6.8v2.3h-6.8zM190.2 282.00h6.8v2.3h-6.8zM229.1 282.00h6.8v2.3h-6.8zM138.3 284.00h6.8v2.3h-6.8zM177.2 284.00h6.8v2.3h-6.8zM255.0 284.00h6.8v2.3h-6.8zM99.4 286.00h13.3v2.3h-13.3zM118.9 286.00h13.3v2.3h-13.3zM138.3 286.00h6.8v2.3h-6.8zM177.2 286.00h6.8v2.3h-6.8zM196.7 286.00h6.8v2.3h-6.8zM235.6 286.00h6.8v2.3h-6.8zM274.4 286.00h13.3v2.3h-13.3zM306.9 286.00h6.8v2.3h-6.8zM332.8 286.00h6.8v2.3h-6.8zM417.0 286.00h6.8v2.3h-6.8zM118.9 288.00h6.8v2.3h-6.8zM293.9 288.00h13.3v2.3h-13.3zM332.8 288.00h6.8v2.3h-6.8zM410.6 288.00h6.8v2.3h-6.8zM99.4 290.00h6.8v2.3h-6.8zM255.0 290.00h13.3v2.3h-13.3zM274.4 290.00h13.3v2.3h-13.3zM293.9 290.00h13.3v2.3h-13.3zM313.3 290.00h6.8v2.3h-6.8zM397.6 290.00h6.8v2.3h-6.8zM118.9 292.00h6.8v2.3h-6.8zM131.9 292.00h6.8v2.3h-6.8zM164.3 292.00h6.8v2.3h-6.8zM216.1 292.00h6.8v2.3h-6.8zM280.9 292.00h6.8v2.3h-6.8zM105.9 294.00h6.8v2.3h-6.8zM293.9 294.00h6.8v2.3h-6.8zM326.3 294.00h6.8v2.3h-6.8zM410.6 294.00h6.8v2.3h-6.8zM131.9 296.00h6.8v2.3h-6.8zM157.8 296.00h6.8v2.3h-6.8zM209.6 296.00h6.8v2.3h-6.8zM384.6 296.00h6.8v2.3h-6.8zM118.9 298.00h6.8v2.3h-6.8zM157.8 300.00h6.8v2.3h-6.8zM326.3 300.00h6.8v2.3h-6.8zM371.7 300.00h6.8v2.3h-6.8zM391.1 300.00h6.8v2.3h-6.8zM151.3 302.00h6.8v2.3h-6.8zM105.9 304.00h6.8v2.3h-6.8zM339.3 304.00h6.8v2.3h-6.8zM410.6 304.00h6.8v2.3h-6.8zM99.4 306.00h13.3v2.3h-13.3zM183.7 306.00h6.8v2.3h-6.8zM196.7 306.00h6.8v2.3h-6.8zM216.1 306.00h6.8v2.3h-6.8zM332.8 306.00h6.8v2.3h-6.8zM170.7 308.00h6.8v2.3h-6.8zM280.9 308.00h6.8v2.3h-6.8zM170.7 310.00h6.8v2.3h-6.8zM339.3 310.00h6.8v2.3h-6.8zM125.4 312.00h6.8v2.3h-6.8zM177.2 312.00h6.8v2.3h-6.8zM255.0 312.00h6.8v2.3h-6.8zM339.3 312.00h6.8v2.3h-6.8zM125.4 314.00h6.8v2.3h-6.8zM157.8 314.00h6.8v2.3h-6.8zM339.3 314.00h19.7v2.3h-19.7zM80.0 316.00h6.8v2.3h-6.8zM112.4 316.00h6.8v2.3h-6.8zM164.3 316.00h6.8v2.3h-6.8zM339.3 318.00h6.8v2.3h-6.8zM164.3 320.00h6.8v2.3h-6.8zM229.1 320.00h6.8v2.3h-6.8zM255.0 320.00h6.8v2.3h-6.8zM80.0 322.00h6.8v2.3h-6.8zM157.8 322.00h6.8v2.3h-6.8zM229.1 322.00h6.8v2.3h-6.8zM255.0 322.00h6.8v2.3h-6.8zM86.5 324.00h6.8v2.3h-6.8zM157.8 324.00h6.8v2.3h-6.8zM229.1 324.00h6.8v2.3h-6.8zM242.0 324.00h6.8v2.3h-6.8zM404.1 324.00h6.8v2.3h-6.8zM164.3 328.00h6.8v2.3h-6.8zM229.1 328.00h6.8v2.3h-6.8zM93.0 330.00h6.8v2.3h-6.8zM164.3 330.00h6.8v2.3h-6.8zM255.0 330.00h6.8v2.3h-6.8zM209.6 332.00h6.8v2.3h-6.8zM164.3 336.00h6.8v2.3h-6.8zM93.0 338.00h6.8v2.3h-6.8zM93.0 341.00h6.8v2.55h-6.8zM157.8 341.00h6.8v2.55h-6.8zM203.1 341.00h6.8v2.55h-6.8zM80.0 343.25h6.8v2.55h-6.8zM112.4 343.25h6.8v2.55h-6.8zM125.4 343.25h6.8v2.55h-6.8zM157.8 343.25h6.8v2.55h-6.8zM183.7 343.25h6.8v2.55h-6.8zM196.7 343.25h6.8v2.55h-6.8zM209.6 343.25h6.8v2.55h-6.8zM235.6 343.25h6.8v2.55h-6.8zM248.5 343.25h6.8v2.55h-6.8zM261.5 343.25h6.8v2.55h-6.8z"/>
<path fill="#eda6a6" d="M105.9 154.00h6.8v2.3h-6.8zM151.3 154.00h6.8v2.3h-6.8zM261.5 154.00h6.8v2.3h-6.8zM274.4 154.00h6.8v2.3h-6.8zM261.5 156.00h6.8v2.3h-6.8zM274.4 156.00h6.8v2.3h-6.8zM300.4 158.00h6.8v2.3h-6.8zM125.4 160.00h6.8v2.3h-6.8zM242.0 160.00h6.8v2.3h-6.8zM255.0 160.00h6.8v2.3h-6.8zM183.7 164.00h6.8v2.3h-6.8zM118.9 166.00h6.8v2.3h-6.8zM131.9 166.00h6.8v2.3h-6.8zM144.8 166.00h6.8v2.3h-6.8zM144.8 170.00h6.8v2.3h-6.8zM105.9 174.00h6.8v2.3h-6.8zM138.3 174.00h6.8v2.3h-6.8zM157.8 176.00h6.8v2.3h-6.8zM177.2 176.00h6.8v2.3h-6.8zM229.1 176.00h6.8v2.3h-6.8zM105.9 178.00h6.8v2.3h-6.8zM203.1 178.00h6.8v2.3h-6.8zM216.1 178.00h6.8v2.3h-6.8zM423.5 178.00h6.8v2.3h-6.8zM326.3 180.00h6.8v2.3h-6.8zM216.1 182.00h6.8v2.3h-6.8zM151.3 184.00h6.8v2.3h-6.8zM326.3 184.00h6.8v2.3h-6.8zM164.3 188.00h6.8v2.3h-6.8zM235.6 188.00h6.8v2.3h-6.8zM183.7 190.00h6.8v2.3h-6.8zM151.3 192.00h6.8v2.3h-6.8zM216.1 192.00h6.8v2.3h-6.8zM326.3 192.00h6.8v2.3h-6.8zM216.1 198.00h6.8v2.3h-6.8zM131.9 200.00h6.8v2.3h-6.8zM151.3 200.00h6.8v2.3h-6.8zM339.3 200.00h6.8v2.3h-6.8zM99.4 202.00h13.3v2.3h-13.3zM170.7 202.00h6.8v2.3h-6.8zM216.1 204.00h6.8v2.3h-6.8zM229.1 204.00h6.8v2.3h-6.8zM196.7 206.00h13.3v2.3h-13.3zM229.1 206.00h13.3v2.3h-13.3zM352.2 208.00h6.8v2.3h-6.8zM196.7 210.00h6.8v2.3h-6.8zM229.1 210.00h13.3v2.3h-13.3zM261.5 210.00h6.8v2.3h-6.8zM352.2 210.00h6.8v2.3h-6.8zM157.8 212.00h6.8v2.3h-6.8zM248.5 212.00h6.8v2.3h-6.8zM86.5 218.00h6.8v2.3h-6.8zM196.7 218.00h6.8v2.3h-6.8zM255.0 220.00h6.8v2.3h-6.8zM203.1 222.00h6.8v2.3h-6.8zM229.1 224.00h6.8v2.3h-6.8zM229.1 228.00h6.8v2.3h-6.8zM300.4 228.00h6.8v2.3h-6.8zM131.9 230.00h6.8v2.3h-6.8zM209.6 230.00h6.8v2.3h-6.8zM235.6 230.00h6.8v2.3h-6.8zM99.4 232.00h6.8v2.3h-6.8zM164.3 232.00h6.8v2.3h-6.8zM255.0 232.00h6.8v2.3h-6.8zM332.8 232.00h6.8v2.3h-6.8zM105.9 234.00h6.8v2.3h-6.8zM319.8 234.00h6.8v2.3h-6.8zM332.8 234.00h6.8v2.3h-6.8zM203.1 236.00h6.8v2.3h-6.8zM112.4 240.00h6.8v2.3h-6.8zM164.3 240.00h6.8v2.3h-6.8zM261.5 240.00h6.8v2.3h-6.8zM371.7 244.00h6.8v2.3h-6.8zM261.5 246.00h6.8v2.3h-6.8zM423.5 248.00h6.8v2.3h-6.8zM86.5 250.00h6.8v2.3h-6.8zM209.6 250.00h6.8v2.3h-6.8zM222.6 250.00h6.8v2.3h-6.8zM248.5 250.00h6.8v2.3h-6.8zM216.1 252.00h6.8v2.3h-6.8zM371.7 252.00h6.8v2.3h-6.8zM417.0 254.00h6.8v2.3h-6.8zM339.3 256.00h6.8v2.3h-6.8zM371.7 256.00h6.8v2.3h-6.8zM118.9 260.00h6.8v2.3h-6.8zM384.6 260.00h6.8v2.3h-6.8zM410.6 268.00h6.8v2.3h-6.8zM203.1 274.00h6.8v2.3h-6.8zM332.8 278.00h6.8v2.3h-6.8zM417.0 278.00h6.8v2.3h-6.8zM371.7 280.00h6.8v2.3h-6.8zM397.6 280.00h13.3v2.3h-13.3zM417.0 282.00h6.8v2.3h-6.8zM222.6 284.00h13.3v2.3h-13.3zM423.5 284.00h6.8v2.3h-6.8zM339.3 286.00h6.8v2.3h-6.8zM170.7 288.00h6.8v2.3h-6.8zM352.2 290.00h6.8v2.3h-6.8zM80.0 292.00h6.8v2.3h-6.8zM423.5 294.00h6.8v2.3h-6.8zM410.6 296.00h6.8v2.3h-6.8zM410.6 298.00h6.8v2.3h-6.8zM404.1 300.00h6.8v2.3h-6.8zM144.8 302.00h6.8v2.3h-6.8zM86.5 304.00h6.8v2.3h-6.8zM131.9 304.00h6.8v2.3h-6.8zM261.5 306.00h6.8v2.3h-6.8zM131.9 308.00h6.8v2.3h-6.8zM274.4 308.00h6.8v2.3h-6.8zM287.4 308.00h6.8v2.3h-6.8zM131.9 310.00h6.8v2.3h-6.8zM404.1 310.00h6.8v2.3h-6.8zM384.6 312.00h6.8v2.3h-6.8zM384.6 314.00h6.8v2.3h-6.8zM261.5 316.00h6.8v2.3h-6.8zM118.9 320.00h6.8v2.3h-6.8zM131.9 320.00h6.8v2.3h-6.8zM280.9 320.00h6.8v2.3h-6.8zM391.1 320.00h6.8v2.3h-6.8zM131.9 322.00h6.8v2.3h-6.8zM280.9 322.00h6.8v2.3h-6.8zM391.1 322.00h6.8v2.3h-6.8zM326.3 324.00h6.8v2.3h-6.8zM131.9 328.00h6.8v2.3h-6.8zM365.2 328.00h6.8v2.3h-6.8zM384.6 328.00h6.8v2.3h-6.8zM118.9 330.00h6.8v2.3h-6.8zM261.5 330.00h6.8v2.3h-6.8zM384.6 330.00h13.3v2.3h-13.3zM131.9 332.00h6.8v2.3h-6.8zM313.3 332.00h6.8v2.3h-6.8zM261.5 334.00h13.3v2.3h-13.3zM287.4 334.00h6.8v2.3h-6.8zM300.4 334.00h6.8v2.3h-6.8zM131.9 336.00h6.8v2.3h-6.8zM274.4 336.00h6.8v2.3h-6.8zM404.1 336.00h6.8v2.3h-6.8zM280.9 338.00h6.8v2.3h-6.8zM358.7 341.00h6.8v2.55h-6.8zM410.6 341.00h6.8v2.55h-6.8z"/>
<path fill="#de5a5a" d="M112.4 154.00h6.8v2.3h-6.8zM151.3 160.00h6.8v2.3h-6.8zM183.7 160.00h6.8v2.3h-6.8zM242.0 162.00h6.8v2.3h-6.8zM138.3 168.00h6.8v2.3h-6.8zM131.9 172.00h6.8v2.3h-6.8zM190.2 172.00h6.8v2.3h-6.8zM99.4 176.00h6.8v2.3h-6.8zM144.8 178.00h6.8v2.3h-6.8zM235.6 178.00h6.8v2.3h-6.8zM190.2 182.00h6.8v2.3h-6.8zM203.1 182.00h6.8v2.3h-6.8zM183.7 188.00h6.8v2.3h-6.8zM203.1 200.00h6.8v2.3h-6.8zM222.6 204.00h6.8v2.3h-6.8zM157.8 206.00h6.8v2.3h-6.8zM209.6 210.00h6.8v2.3h-6.8zM209.6 212.00h6.8v2.3h-6.8zM229.1 212.00h6.8v2.3h-6.8zM261.5 212.00h6.8v2.3h-6.8zM170.7 222.00h6.8v2.3h-6.8zM248.5 224.00h6.8v2.3h-6.8zM248.5 226.00h6.8v2.3h-6.8zM99.4 230.00h6.8v2.3h-6.8zM248.5 232.00h6.8v2.3h-6.8zM358.7 232.00h6.8v2.3h-6.8zM358.7 234.00h6.8v2.3h-6.8zM112.4 242.00h6.8v2.3h-6.8zM365.2 244.00h6.8v2.3h-6.8zM384.6 254.00h6.8v2.3h-6.8zM397.6 254.00h6.8v2.3h-6.8zM339.3 258.00h6.8v2.3h-6.8zM326.3 260.00h6.8v2.3h-6.8zM391.1 260.00h6.8v2.3h-6.8zM417.0 260.00h6.8v2.3h-6.8zM118.9 262.00h6.8v2.3h-6.8zM209.6 270.00h6.8v2.3h-6.8zM339.3 270.00h6.8v2.3h-6.8zM410.6 270.00h6.8v2.3h-6.8zM352.2 278.00h6.8v2.3h-6.8zM345.7 280.00h6.8v2.3h-6.8zM339.3 282.00h6.8v2.3h-6.8zM358.7 286.00h6.8v2.3h-6.8zM345.7 288.00h13.3v2.3h-13.3zM80.0 290.00h6.8v2.3h-6.8zM417.0 298.00h6.8v2.3h-6.8zM280.9 302.00h6.8v2.3h-6.8zM138.3 304.00h6.8v2.3h-6.8zM293.9 304.00h6.8v2.3h-6.8zM293.9 306.00h6.8v2.3h-6.8zM365.2 306.00h6.8v2.3h-6.8zM306.9 310.00h6.8v2.3h-6.8zM391.1 310.00h6.8v2.3h-6.8zM306.9 312.00h13.3v2.3h-13.3zM404.1 312.00h6.8v2.3h-6.8zM313.3 314.00h6.8v2.3h-6.8zM404.1 314.00h6.8v2.3h-6.8zM404.1 318.00h6.8v2.3h-6.8zM261.5 320.00h6.8v2.3h-6.8zM300.4 322.00h6.8v2.3h-6.8zM268.0 330.00h6.8v2.3h-6.8zM118.9 334.00h6.8v2.3h-6.8z"/>
<path fill="#dc5252" d="M190.2 154.00h6.8v2.3h-6.8zM157.8 160.00h6.8v2.3h-6.8zM144.8 164.00h13.3v2.3h-13.3zM151.3 166.00h6.8v2.3h-6.8zM229.1 170.00h6.8v2.3h-6.8zM235.6 176.00h6.8v2.3h-6.8zM151.3 178.00h6.8v2.3h-6.8zM177.2 178.00h6.8v2.3h-6.8zM190.2 180.00h6.8v2.3h-6.8zM190.2 196.00h6.8v2.3h-6.8zM99.4 200.00h6.8v2.3h-6.8zM170.7 200.00h6.8v2.3h-6.8zM196.7 200.00h6.8v2.3h-6.8zM255.0 200.00h6.8v2.3h-6.8zM209.6 208.00h6.8v2.3h-6.8zM235.6 208.00h6.8v2.3h-6.8zM131.9 228.00h6.8v2.3h-6.8zM105.9 232.00h6.8v2.3h-6.8zM216.1 234.00h6.8v2.3h-6.8zM358.7 238.00h6.8v2.3h-6.8zM280.9 240.00h6.8v2.3h-6.8zM138.3 244.00h6.8v2.3h-6.8zM378.1 250.00h6.8v2.3h-6.8zM391.1 250.00h13.3v2.3h-13.3zM397.6 252.00h6.8v2.3h-6.8zM384.6 258.00h6.8v2.3h-6.8zM410.6 258.00h6.8v2.3h-6.8zM384.6 264.00h6.8v2.3h-6.8zM345.7 266.00h6.8v2.3h-6.8zM313.3 274.00h6.8v2.3h-6.8zM391.1 278.00h6.8v2.3h-6.8zM125.4 292.00h6.8v2.3h-6.8zM170.7 292.00h6.8v2.3h-6.8zM151.3 296.00h6.8v2.3h-6.8zM274.4 296.00h6.8v2.3h-6.8zM423.5 296.00h6.8v2.3h-6.8zM274.4 300.00h13.3v2.3h-13.3zM397.6 300.00h6.8v2.3h-6.8zM274.4 302.00h6.8v2.3h-6.8zM268.0 312.00h6.8v2.3h-6.8zM391.1 312.00h6.8v2.3h-6.8zM404.1 316.00h6.8v2.3h-6.8zM306.9 320.00h13.3v2.3h-13.3zM365.2 322.00h6.8v2.3h-6.8zM268.0 328.00h6.8v2.3h-6.8zM118.9 332.00h6.8v2.3h-6.8zM306.9 334.00h6.8v2.3h-6.8z"/>
<path fill="#eb9b9b" d="M196.7 154.00h6.8v2.3h-6.8zM268.0 154.00h6.8v2.3h-6.8zM358.7 154.00h6.8v2.3h-6.8zM112.4 156.00h6.8v2.3h-6.8zM255.0 156.00h6.8v2.3h-6.8zM105.9 158.00h6.8v2.3h-6.8zM203.1 158.00h6.8v2.3h-6.8zM255.0 158.00h6.8v2.3h-6.8zM144.8 160.00h6.8v2.3h-6.8zM209.6 160.00h6.8v2.3h-6.8zM105.9 166.00h6.8v2.3h-6.8zM105.9 170.00h6.8v2.3h-6.8zM209.6 170.00h6.8v2.3h-6.8zM157.8 172.00h6.8v2.3h-6.8zM80.0 176.00h6.8v2.3h-6.8zM105.9 176.00h6.8v2.3h-6.8zM131.9 176.00h13.3v2.3h-13.3zM216.1 176.00h6.8v2.3h-6.8zM248.5 176.00h6.8v2.3h-6.8zM138.3 178.00h6.8v2.3h-6.8zM157.8 178.00h6.8v2.3h-6.8zM112.4 180.00h6.8v2.3h-6.8zM157.8 180.00h6.8v2.3h-6.8zM216.1 194.00h6.8v2.3h-6.8zM144.8 200.00h6.8v2.3h-6.8zM157.8 200.00h6.8v2.3h-6.8zM229.1 200.00h13.3v2.3h-13.3zM326.3 200.00h6.8v2.3h-6.8zM138.3 202.00h6.8v2.3h-6.8zM151.3 202.00h6.8v2.3h-6.8zM196.7 202.00h13.3v2.3h-13.3zM229.1 202.00h13.3v2.3h-13.3zM255.0 202.00h6.8v2.3h-6.8zM326.3 202.00h6.8v2.3h-6.8zM391.1 202.00h6.8v2.3h-6.8zM86.5 210.00h6.8v2.3h-6.8zM242.0 210.00h13.3v2.3h-13.3zM203.1 212.00h6.8v2.3h-6.8zM203.1 216.00h6.8v2.3h-6.8zM255.0 216.00h6.8v2.3h-6.8zM190.2 218.00h6.8v2.3h-6.8zM203.1 218.00h6.8v2.3h-6.8zM248.5 218.00h13.3v2.3h-13.3zM222.6 222.00h6.8v2.3h-6.8zM255.0 222.00h6.8v2.3h-6.8zM86.5 224.00h6.8v2.3h-6.8zM203.1 228.00h13.3v2.3h-13.3zM190.2 230.00h6.8v2.3h-6.8zM358.7 230.00h6.8v2.3h-6.8zM144.8 232.00h6.8v2.3h-6.8zM170.7 232.00h6.8v2.3h-6.8zM319.8 232.00h6.8v2.3h-6.8zM99.4 234.00h6.8v2.3h-6.8zM144.8 234.00h6.8v2.3h-6.8zM235.6 234.00h6.8v2.3h-6.8zM261.5 234.00h6.8v2.3h-6.8zM423.5 234.00h6.8v2.3h-6.8zM326.3 238.00h6.8v2.3h-6.8zM410.6 240.00h6.8v2.3h-6.8zM164.3 242.00h6.8v2.3h-6.8zM235.6 242.00h6.8v2.3h-6.8zM280.9 242.00h6.8v2.3h-6.8zM345.7 244.00h6.8v2.3h-6.8zM177.2 246.00h6.8v2.3h-6.8zM190.2 246.00h6.8v2.3h-6.8zM345.7 250.00h6.8v2.3h-6.8zM417.0 250.00h6.8v2.3h-6.8zM371.7 258.00h6.8v2.3h-6.8zM365.2 270.00h6.8v2.3h-6.8zM417.0 274.00h6.8v2.3h-6.8zM378.1 282.00h13.3v2.3h-13.3zM345.7 286.00h6.8v2.3h-6.8zM423.5 286.00h6.8v2.3h-6.8zM222.6 288.00h6.8v2.3h-6.8zM170.7 290.00h6.8v2.3h-6.8zM209.6 290.00h6.8v2.3h-6.8zM222.6 290.00h13.3v2.3h-13.3zM391.1 292.00h6.8v2.3h-6.8zM404.1 292.00h6.8v2.3h-6.8zM170.7 296.00h6.8v2.3h-6.8zM287.4 296.00h6.8v2.3h-6.8zM306.9 300.00h6.8v2.3h-6.8zM397.6 302.00h6.8v2.3h-6.8zM410.6 302.00h6.8v2.3h-6.8zM287.4 310.00h6.8v2.3h-6.8zM410.6 310.00h6.8v2.3h-6.8zM93.0 312.00h6.8v2.3h-6.8zM287.4 312.00h6.8v2.3h-6.8zM131.9 316.00h6.8v2.3h-6.8zM131.9 318.00h6.8v2.3h-6.8zM261.5 318.00h6.8v2.3h-6.8zM287.4 322.00h6.8v2.3h-6.8zM404.1 322.00h6.8v2.3h-6.8zM118.9 328.00h6.8v2.3h-6.8zM391.1 328.00h6.8v2.3h-6.8zM404.1 328.00h6.8v2.3h-6.8zM261.5 332.00h6.8v2.3h-6.8zM274.4 332.00h13.3v2.3h-13.3zM300.4 332.00h6.8v2.3h-6.8zM384.6 332.00h13.3v2.3h-13.3zM280.9 334.00h6.8v2.3h-6.8zM313.3 334.00h6.8v2.3h-6.8zM391.1 334.00h6.8v2.3h-6.8zM261.5 336.00h6.8v2.3h-6.8zM410.6 336.00h6.8v2.3h-6.8zM319.8 341.00h6.8v2.55h-6.8zM404.1 341.00h6.8v2.55h-6.8z"/>
<path fill="#d02828" d="M80.0 156.00h6.8v2.3h-6.8zM151.3 156.00h6.8v2.3h-6.8zM80.0 158.00h6.8v2.3h-6.8zM151.3 158.00h6.8v2.3h-6.8zM196.7 158.00h6.8v2.3h-6.8zM80.0 160.00h6.8v2.3h-6.8zM216.1 160.00h6.8v2.3h-6.8zM80.0 164.00h6.8v2.3h-6.8zM125.4 164.00h6.8v2.3h-6.8zM80.0 166.00h6.8v2.3h-6.8zM164.3 166.00h6.8v2.3h-6.8zM118.9 172.00h6.8v2.3h-6.8zM151.3 172.00h6.8v2.3h-6.8zM118.9 176.00h6.8v2.3h-6.8zM190.2 176.00h6.8v2.3h-6.8zM118.9 178.00h6.8v2.3h-6.8zM190.2 178.00h6.8v2.3h-6.8zM151.3 180.00h6.8v2.3h-6.8zM151.3 182.00h13.3v2.3h-13.3zM248.5 182.00h6.8v2.3h-6.8zM326.3 182.00h6.8v2.3h-6.8zM235.6 184.00h6.8v2.3h-6.8zM248.5 184.00h6.8v2.3h-6.8zM235.6 186.00h6.8v2.3h-6.8zM248.5 186.00h6.8v2.3h-6.8zM131.9 192.00h13.3v2.3h-13.3zM190.2 192.00h6.8v2.3h-6.8zM229.1 192.00h13.3v2.3h-13.3zM229.1 194.00h6.8v2.3h-6.8zM190.2 198.00h6.8v2.3h-6.8zM125.4 200.00h6.8v2.3h-6.8zM209.6 206.00h13.3v2.3h-13.3zM203.1 208.00h6.8v2.3h-6.8zM222.6 208.00h6.8v2.3h-6.8zM222.6 210.00h6.8v2.3h-6.8zM255.0 210.00h6.8v2.3h-6.8zM209.6 216.00h6.8v2.3h-6.8zM209.6 218.00h6.8v2.3h-6.8zM229.1 218.00h6.8v2.3h-6.8zM190.2 220.00h6.8v2.3h-6.8zM209.6 220.00h6.8v2.3h-6.8zM229.1 220.00h6.8v2.3h-6.8zM248.5 220.00h6.8v2.3h-6.8zM131.9 222.00h6.8v2.3h-6.8zM196.7 222.00h6.8v2.3h-6.8zM209.6 222.00h6.8v2.3h-6.8zM229.1 222.00h6.8v2.3h-6.8zM248.5 222.00h6.8v2.3h-6.8zM190.2 228.00h13.3v2.3h-13.3zM248.5 228.00h6.8v2.3h-6.8zM248.5 230.00h6.8v2.3h-6.8zM112.4 232.00h6.8v2.3h-6.8zM170.7 234.00h6.8v2.3h-6.8zM306.9 242.00h6.8v2.3h-6.8zM93.0 244.00h13.3v2.3h-13.3zM190.2 244.00h13.3v2.3h-13.3zM326.3 244.00h6.8v2.3h-6.8zM365.2 246.00h6.8v2.3h-6.8zM404.1 248.00h6.8v2.3h-6.8zM404.1 250.00h6.8v2.3h-6.8zM404.1 252.00h6.8v2.3h-6.8zM345.7 254.00h6.8v2.3h-6.8zM404.1 254.00h6.8v2.3h-6.8zM378.1 256.00h6.8v2.3h-6.8zM378.1 258.00h6.8v2.3h-6.8zM371.7 260.00h13.3v2.3h-13.3zM397.6 260.00h13.3v2.3h-13.3zM397.6 262.00h6.8v2.3h-6.8zM183.7 264.00h6.8v2.3h-6.8zM391.1 264.00h19.7v2.3h-19.7zM397.6 266.00h13.3v2.3h-13.3zM384.6 268.00h26.2v2.3h-26.2zM345.7 270.00h6.8v2.3h-6.8zM384.6 270.00h13.3v2.3h-13.3zM404.1 270.00h6.8v2.3h-6.8zM384.6 274.00h6.8v2.3h-6.8zM358.7 278.00h6.8v2.3h-6.8zM404.1 282.00h6.8v2.3h-6.8zM378.1 284.00h6.8v2.3h-6.8zM371.7 286.00h6.8v2.3h-6.8zM216.1 288.00h6.8v2.3h-6.8zM229.1 288.00h6.8v2.3h-6.8zM358.7 288.00h6.8v2.3h-6.8zM235.6 290.00h13.3v2.3h-13.3zM358.7 290.00h6.8v2.3h-6.8zM423.5 290.00h6.8v2.3h-6.8zM345.7 292.00h6.8v2.3h-6.8zM352.2 298.00h6.8v2.3h-6.8zM300.4 300.00h6.8v2.3h-6.8zM423.5 300.00h6.8v2.3h-6.8zM423.5 302.00h6.8v2.3h-6.8zM268.0 310.00h6.8v2.3h-6.8zM131.9 312.00h6.8v2.3h-6.8zM306.9 316.00h6.8v2.3h-6.8zM391.1 316.00h6.8v2.3h-6.8zM268.0 318.00h6.8v2.3h-6.8zM306.9 318.00h6.8v2.3h-6.8zM391.1 318.00h6.8v2.3h-6.8zM293.9 320.00h6.8v2.3h-6.8zM268.0 322.00h6.8v2.3h-6.8zM300.4 326.00h6.8v2.3h-6.8zM300.4 328.00h6.8v2.3h-6.8zM300.4 330.00h6.8v2.3h-6.8zM118.9 336.00h6.8v2.3h-6.8zM391.1 336.00h6.8v2.3h-6.8zM300.4 341.00h6.8v2.55h-6.8zM391.1 341.00h6.8v2.55h-6.8zM391.1 343.25h6.8v2.55h-6.8z"/>
<path fill="#e99090" d="M105.9 156.00h6.8v2.3h-6.8zM261.5 158.00h6.8v2.3h-6.8zM274.4 158.00h6.8v2.3h-6.8zM105.9 164.00h6.8v2.3h-6.8zM183.7 166.00h6.8v2.3h-6.8zM248.5 178.00h6.8v2.3h-6.8zM216.1 186.00h6.8v2.3h-6.8zM242.0 186.00h6.8v2.3h-6.8zM326.3 186.00h6.8v2.3h-6.8zM164.3 200.00h6.8v2.3h-6.8zM222.6 200.00h6.8v2.3h-6.8zM371.7 200.00h6.8v2.3h-6.8zM131.9 202.00h6.8v2.3h-6.8zM157.8 202.00h13.3v2.3h-13.3zM352.2 202.00h6.8v2.3h-6.8zM216.1 208.00h6.8v2.3h-6.8zM203.1 210.00h6.8v2.3h-6.8zM216.1 210.00h6.8v2.3h-6.8zM216.1 212.00h6.8v2.3h-6.8zM99.4 218.00h6.8v2.3h-6.8zM216.1 222.00h6.8v2.3h-6.8zM105.9 230.00h6.8v2.3h-6.8zM93.0 232.00h6.8v2.3h-6.8zM209.6 232.00h6.8v2.3h-6.8zM164.3 234.00h6.8v2.3h-6.8zM209.6 234.00h6.8v2.3h-6.8zM164.3 238.00h6.8v2.3h-6.8zM209.6 238.00h6.8v2.3h-6.8zM203.1 240.00h6.8v2.3h-6.8zM313.3 240.00h6.8v2.3h-6.8zM99.4 242.00h13.3v2.3h-13.3zM274.4 242.00h6.8v2.3h-6.8zM313.3 242.00h6.8v2.3h-6.8zM242.0 244.00h6.8v2.3h-6.8zM261.5 244.00h6.8v2.3h-6.8zM378.1 244.00h6.8v2.3h-6.8zM93.0 246.00h6.8v2.3h-6.8zM196.7 246.00h6.8v2.3h-6.8zM417.0 252.00h6.8v2.3h-6.8zM391.1 258.00h6.8v2.3h-6.8zM339.3 272.00h6.8v2.3h-6.8zM352.2 274.00h6.8v2.3h-6.8zM397.6 274.00h19.7v2.3h-19.7zM326.3 278.00h6.8v2.3h-6.8zM352.2 284.00h6.8v2.3h-6.8zM378.1 286.00h6.8v2.3h-6.8zM235.6 288.00h6.8v2.3h-6.8zM423.5 288.00h6.8v2.3h-6.8zM151.3 290.00h6.8v2.3h-6.8zM190.2 294.00h6.8v2.3h-6.8zM358.7 296.00h6.8v2.3h-6.8zM313.3 300.00h6.8v2.3h-6.8zM339.3 300.00h6.8v2.3h-6.8zM410.6 300.00h13.3v2.3h-13.3zM417.0 302.00h6.8v2.3h-6.8zM274.4 310.00h6.8v2.3h-6.8zM319.8 310.00h6.8v2.3h-6.8zM384.6 310.00h6.8v2.3h-6.8zM118.9 312.00h6.8v2.3h-6.8zM131.9 314.00h6.8v2.3h-6.8zM300.4 316.00h6.8v2.3h-6.8zM280.9 318.00h6.8v2.3h-6.8zM404.1 320.00h6.8v2.3h-6.8zM287.4 328.00h6.8v2.3h-6.8zM268.0 332.00h6.8v2.3h-6.8zM384.6 334.00h6.8v2.3h-6.8zM397.6 341.00h6.8v2.55h-6.8zM384.6 343.25h6.8v2.55h-6.8z"/>
<path fill="#7982c5" d="M339.3 156.00h6.8v2.3h-6.8zM397.6 156.00h6.8v2.3h-6.8zM235.6 314.00h6.8v2.3h-6.8zM235.6 316.00h6.8v2.3h-6.8zM235.6 320.00h6.8v2.3h-6.8zM235.6 322.00h6.8v2.3h-6.8zM183.7 324.00h6.8v2.3h-6.8zM248.5 324.00h6.8v2.3h-6.8zM216.1 326.00h6.8v2.3h-6.8zM248.5 326.00h6.8v2.3h-6.8zM248.5 328.00h6.8v2.3h-6.8zM151.3 330.00h6.8v2.3h-6.8zM235.6 330.00h6.8v2.3h-6.8zM417.0 336.00h6.8v2.3h-6.8zM209.6 338.00h13.3v2.3h-13.3zM248.5 338.00h6.8v2.3h-6.8zM417.0 338.00h6.8v2.3h-6.8z"/>
<path fill="#8f97d0" d="M345.7 156.00h6.8v2.3h-6.8zM404.1 156.00h6.8v2.3h-6.8zM391.1 158.00h6.8v2.3h-6.8zM268.0 162.00h6.8v2.3h-6.8zM345.7 168.00h6.8v2.3h-6.8zM423.5 168.00h6.8v2.3h-6.8zM339.3 172.00h6.8v2.3h-6.8zM423.5 172.00h6.8v2.3h-6.8zM339.3 174.00h6.8v2.3h-6.8zM417.0 184.00h6.8v2.3h-6.8zM391.1 188.00h6.8v2.3h-6.8zM417.0 190.00h6.8v2.3h-6.8zM410.6 228.00h6.8v2.3h-6.8zM105.9 288.00h6.8v2.3h-6.8zM417.0 312.00h6.8v2.3h-6.8zM183.7 314.00h6.8v2.3h-6.8zM216.1 314.00h6.8v2.3h-6.8zM417.0 314.00h6.8v2.3h-6.8zM216.1 316.00h6.8v2.3h-6.8zM248.5 316.00h6.8v2.3h-6.8zM345.7 316.00h6.8v2.3h-6.8zM248.5 318.00h6.8v2.3h-6.8zM216.1 320.00h6.8v2.3h-6.8zM183.7 322.00h6.8v2.3h-6.8zM216.1 322.00h6.8v2.3h-6.8zM248.5 322.00h6.8v2.3h-6.8zM112.4 324.00h6.8v2.3h-6.8zM151.3 324.00h6.8v2.3h-6.8zM170.7 324.00h6.8v2.3h-6.8zM417.0 324.00h6.8v2.3h-6.8zM183.7 326.00h6.8v2.3h-6.8zM229.1 326.00h6.8v2.3h-6.8zM339.3 326.00h13.3v2.3h-13.3zM417.0 326.00h6.8v2.3h-6.8zM151.3 328.00h6.8v2.3h-6.8zM235.6 328.00h6.8v2.3h-6.8zM417.0 328.00h6.8v2.3h-6.8zM170.7 330.00h6.8v2.3h-6.8zM196.7 330.00h6.8v2.3h-6.8zM216.1 330.00h6.8v2.3h-6.8zM358.7 330.00h6.8v2.3h-6.8zM216.1 334.00h6.8v2.3h-6.8zM339.3 334.00h6.8v2.3h-6.8zM216.1 336.00h6.8v2.3h-6.8zM170.7 338.00h19.7v2.3h-19.7zM352.2 338.00h6.8v2.3h-6.8zM99.4 343.25h6.8v2.55h-6.8zM138.3 343.25h6.8v2.55h-6.8zM151.3 343.25h6.8v2.55h-6.8zM229.1 343.25h6.8v2.55h-6.8z"/>
<path fill="#9aa1d5" d="M371.7 156.00h6.8v2.3h-6.8zM384.6 156.00h6.8v2.3h-6.8zM86.5 172.00h6.8v2.3h-6.8zM222.6 174.00h6.8v2.3h-6.8zM345.7 174.00h6.8v2.3h-6.8zM404.1 174.00h6.8v2.3h-6.8zM404.1 176.00h6.8v2.3h-6.8zM293.9 180.00h6.8v2.3h-6.8zM404.1 180.00h19.7v2.3h-19.7zM339.3 182.00h6.8v2.3h-6.8zM397.6 182.00h6.8v2.3h-6.8zM280.9 188.00h6.8v2.3h-6.8zM384.6 188.00h6.8v2.3h-6.8zM300.4 190.00h6.8v2.3h-6.8zM397.6 190.00h13.3v2.3h-13.3zM326.3 214.00h6.8v2.3h-6.8zM404.1 214.00h6.8v2.3h-6.8zM384.6 218.00h6.8v2.3h-6.8zM378.1 224.00h6.8v2.3h-6.8zM118.9 248.00h6.8v2.3h-6.8zM216.1 258.00h6.8v2.3h-6.8zM112.4 266.00h6.8v2.3h-6.8zM112.4 276.00h6.8v2.3h-6.8zM177.2 276.00h6.8v2.3h-6.8zM313.3 276.00h6.8v2.3h-6.8zM274.4 288.00h6.8v2.3h-6.8zM86.5 298.00h6.8v2.3h-6.8zM248.5 298.00h6.8v2.3h-6.8zM183.7 312.00h6.8v2.3h-6.8zM216.1 312.00h6.8v2.3h-6.8zM235.6 312.00h6.8v2.3h-6.8zM196.7 314.00h6.8v2.3h-6.8zM209.6 314.00h6.8v2.3h-6.8zM151.3 316.00h6.8v2.3h-6.8zM170.7 316.00h6.8v2.3h-6.8zM183.7 316.00h6.8v2.3h-6.8zM222.6 316.00h6.8v2.3h-6.8zM352.2 316.00h6.8v2.3h-6.8zM151.3 318.00h6.8v2.3h-6.8zM190.2 318.00h6.8v2.3h-6.8zM216.1 318.00h6.8v2.3h-6.8zM183.7 320.00h6.8v2.3h-6.8zM196.7 320.00h6.8v2.3h-6.8zM222.6 320.00h6.8v2.3h-6.8zM339.3 320.00h6.8v2.3h-6.8zM339.3 322.00h6.8v2.3h-6.8zM417.0 322.00h6.8v2.3h-6.8zM177.2 324.00h6.8v2.3h-6.8zM345.7 324.00h13.3v2.3h-13.3zM112.4 326.00h6.8v2.3h-6.8zM151.3 326.00h6.8v2.3h-6.8zM170.7 326.00h6.8v2.3h-6.8zM209.6 326.00h6.8v2.3h-6.8zM222.6 326.00h6.8v2.3h-6.8zM352.2 326.00h6.8v2.3h-6.8zM80.0 328.00h6.8v2.3h-6.8zM183.7 328.00h6.8v2.3h-6.8zM209.6 330.00h6.8v2.3h-6.8zM222.6 330.00h6.8v2.3h-6.8zM345.7 330.00h6.8v2.3h-6.8zM177.2 332.00h13.3v2.3h-13.3zM216.1 332.00h6.8v2.3h-6.8zM235.6 334.00h6.8v2.3h-6.8zM358.7 334.00h6.8v2.3h-6.8zM151.3 336.00h6.8v2.3h-6.8zM177.2 336.00h19.7v2.3h-19.7zM235.6 336.00h6.8v2.3h-6.8zM248.5 336.00h6.8v2.3h-6.8zM190.2 338.00h6.8v2.3h-6.8zM222.6 338.00h19.7v2.3h-19.7zM170.7 341.00h6.8v2.55h-6.8zM216.1 341.00h6.8v2.55h-6.8zM190.2 343.25h6.8v2.55h-6.8z"/>
<path fill="#848dca" d="M378.1 156.00h6.8v2.3h-6.8zM339.3 180.00h6.8v2.3h-6.8zM391.1 180.00h6.8v2.3h-6.8zM274.4 204.00h6.8v2.3h-6.8zM125.4 212.00h6.8v2.3h-6.8zM248.5 314.00h6.8v2.3h-6.8zM417.0 316.00h6.8v2.3h-6.8zM235.6 318.00h6.8v2.3h-6.8zM151.3 320.00h6.8v2.3h-6.8zM248.5 320.00h6.8v2.3h-6.8zM417.0 320.00h6.8v2.3h-6.8zM151.3 322.00h6.8v2.3h-6.8zM209.6 322.00h6.8v2.3h-6.8zM190.2 324.00h6.8v2.3h-6.8zM216.1 324.00h6.8v2.3h-6.8zM196.7 326.00h6.8v2.3h-6.8zM216.1 328.00h6.8v2.3h-6.8zM248.5 330.00h6.8v2.3h-6.8zM339.3 330.00h6.8v2.3h-6.8zM417.0 330.00h6.8v2.3h-6.8zM248.5 332.00h6.8v2.3h-6.8zM196.7 338.00h6.8v2.3h-6.8z"/>
<path fill="#d74141" d="M80.0 162.00h6.8v2.3h-6.8zM235.6 168.00h6.8v2.3h-6.8zM151.3 176.00h6.8v2.3h-6.8zM248.5 196.00h6.8v2.3h-6.8zM339.3 202.00h6.8v2.3h-6.8zM423.5 208.00h6.8v2.3h-6.8zM170.7 218.00h6.8v2.3h-6.8zM242.0 234.00h6.8v2.3h-6.8zM345.7 264.00h6.8v2.3h-6.8zM339.3 274.00h6.8v2.3h-6.8zM358.7 274.00h6.8v2.3h-6.8zM183.7 278.00h6.8v2.3h-6.8zM391.1 294.00h6.8v2.3h-6.8zM306.9 332.00h6.8v2.3h-6.8z"/>
<path fill="#e16464" d="M118.9 164.00h6.8v2.3h-6.8zM131.9 164.00h6.8v2.3h-6.8zM248.5 174.00h6.8v2.3h-6.8zM144.8 176.00h6.8v2.3h-6.8zM138.3 182.00h6.8v2.3h-6.8zM138.3 188.00h6.8v2.3h-6.8zM144.8 190.00h6.8v2.3h-6.8zM125.4 202.00h6.8v2.3h-6.8zM248.5 202.00h6.8v2.3h-6.8zM164.3 206.00h6.8v2.3h-6.8zM222.6 206.00h6.8v2.3h-6.8zM255.0 208.00h6.8v2.3h-6.8zM151.3 212.00h6.8v2.3h-6.8zM222.6 212.00h6.8v2.3h-6.8zM248.5 214.00h6.8v2.3h-6.8zM170.7 216.00h6.8v2.3h-6.8zM183.7 228.00h6.8v2.3h-6.8zM216.1 228.00h6.8v2.3h-6.8zM216.1 230.00h6.8v2.3h-6.8zM216.1 232.00h6.8v2.3h-6.8zM144.8 236.00h6.8v2.3h-6.8zM216.1 236.00h6.8v2.3h-6.8zM216.1 238.00h6.8v2.3h-6.8zM235.6 238.00h6.8v2.3h-6.8zM306.9 240.00h6.8v2.3h-6.8zM261.5 242.00h6.8v2.3h-6.8zM391.1 248.00h6.8v2.3h-6.8zM80.0 250.00h6.8v2.3h-6.8zM384.6 252.00h6.8v2.3h-6.8zM345.7 256.00h13.3v2.3h-13.3zM397.6 256.00h13.3v2.3h-13.3zM345.7 258.00h19.7v2.3h-19.7zM404.1 258.00h6.8v2.3h-6.8zM352.2 260.00h6.8v2.3h-6.8zM352.2 262.00h6.8v2.3h-6.8zM417.0 262.00h6.8v2.3h-6.8zM417.0 264.00h6.8v2.3h-6.8zM417.0 266.00h6.8v2.3h-6.8zM339.3 268.00h6.8v2.3h-6.8zM352.2 282.00h6.8v2.3h-6.8zM391.1 284.00h6.8v2.3h-6.8zM222.6 286.00h6.8v2.3h-6.8zM248.5 288.00h6.8v2.3h-6.8zM86.5 290.00h6.8v2.3h-6.8zM345.7 290.00h6.8v2.3h-6.8zM112.4 292.00h6.8v2.3h-6.8zM183.7 294.00h6.8v2.3h-6.8zM261.5 304.00h6.8v2.3h-6.8zM319.8 304.00h6.8v2.3h-6.8zM131.9 306.00h6.8v2.3h-6.8zM255.0 306.00h6.8v2.3h-6.8zM306.9 308.00h6.8v2.3h-6.8zM268.0 314.00h6.8v2.3h-6.8zM391.1 314.00h6.8v2.3h-6.8zM293.9 316.00h6.8v2.3h-6.8zM313.3 316.00h6.8v2.3h-6.8zM300.4 320.00h6.8v2.3h-6.8zM261.5 322.00h6.8v2.3h-6.8zM306.9 322.00h13.3v2.3h-13.3zM118.9 324.00h6.8v2.3h-6.8zM306.9 324.00h6.8v2.3h-6.8zM261.5 326.00h6.8v2.3h-6.8zM293.9 328.00h6.8v2.3h-6.8zM293.9 330.00h6.8v2.3h-6.8zM313.3 330.00h6.8v2.3h-6.8zM365.2 330.00h6.8v2.3h-6.8zM287.4 332.00h13.3v2.3h-13.3zM293.9 334.00h6.8v2.3h-6.8zM280.9 336.00h6.8v2.3h-6.8zM293.9 336.00h6.8v2.3h-6.8zM306.9 336.00h6.8v2.3h-6.8zM300.4 338.00h6.8v2.3h-6.8zM306.9 341.00h6.8v2.55h-6.8zM306.9 343.25h6.8v2.55h-6.8zM326.3 343.25h6.8v2.55h-6.8z"/>
<path fill="#d23030" d="M118.9 174.00h6.8v2.3h-6.8zM222.6 180.00h6.8v2.3h-6.8zM112.4 182.00h6.8v2.3h-6.8zM131.9 188.00h6.8v2.3h-6.8zM190.2 190.00h6.8v2.3h-6.8zM131.9 194.00h13.3v2.3h-13.3zM190.2 194.00h6.8v2.3h-6.8zM248.5 198.00h6.8v2.3h-6.8zM384.6 250.00h6.8v2.3h-6.8zM345.7 252.00h6.8v2.3h-6.8zM391.1 266.00h6.8v2.3h-6.8zM397.6 270.00h6.8v2.3h-6.8zM371.7 284.00h6.8v2.3h-6.8zM371.7 288.00h6.8v2.3h-6.8zM371.7 290.00h6.8v2.3h-6.8zM345.7 294.00h6.8v2.3h-6.8zM332.8 298.00h6.8v2.3h-6.8zM358.7 298.00h6.8v2.3h-6.8zM80.0 306.00h6.8v2.3h-6.8zM268.0 316.00h6.8v2.3h-6.8zM268.0 320.00h6.8v2.3h-6.8zM293.9 322.00h6.8v2.3h-6.8zM300.4 324.00h6.8v2.3h-6.8zM391.1 338.00h6.8v2.3h-6.8zM384.6 341.00h6.8v2.55h-6.8zM300.4 343.25h6.8v2.55h-6.8zM397.6 343.25h6.8v2.55h-6.8z"/>
<path fill="#d53939" d="M151.3 174.00h13.3v2.3h-13.3zM248.5 180.00h6.8v2.3h-6.8zM190.2 188.00h6.8v2.3h-6.8zM131.9 190.00h6.8v2.3h-6.8zM235.6 194.00h6.8v2.3h-6.8zM131.9 196.00h6.8v2.3h-6.8zM131.9 198.00h6.8v2.3h-6.8zM209.6 204.00h6.8v2.3h-6.8zM190.2 214.00h6.8v2.3h-6.8zM183.7 216.00h6.8v2.3h-6.8zM229.1 216.00h6.8v2.3h-6.8zM86.5 226.00h6.8v2.3h-6.8zM229.1 238.00h6.8v2.3h-6.8zM384.6 248.00h6.8v2.3h-6.8zM378.1 262.00h6.8v2.3h-6.8zM404.1 262.00h6.8v2.3h-6.8zM345.7 268.00h6.8v2.3h-6.8zM384.6 272.00h6.8v2.3h-6.8zM326.3 276.00h6.8v2.3h-6.8zM339.3 294.00h6.8v2.3h-6.8zM268.0 308.00h6.8v2.3h-6.8zM268.0 324.00h6.8v2.3h-6.8zM268.0 326.00h6.8v2.3h-6.8zM118.9 338.00h6.8v2.3h-6.8z"/>
<path fill="#6e78c0" d="M151.3 276.00h6.8v2.3h-6.8zM235.6 324.00h6.8v2.3h-6.8zM190.2 326.00h6.8v2.3h-6.8zM235.6 326.00h6.8v2.3h-6.8zM183.7 330.00h6.8v2.3h-6.8z"/>
</g>
<rect x="80.00" y="340.00" width="350.00" height="1.10" fill="#9aa0d4"/>
<line x1="268.50" y1="152.00" x2="268.50" y2="346.00" stroke="#5e68b4" stroke-width="1.0"/>
<line x1="325.50" y1="152.00" x2="325.50" y2="346.00" stroke="#5e68b4" stroke-width="1.0"/>
<text x="438.60" y="166.20" font-size="6.4" font-weight="bold" fill="#c23a3a">SCG2</text>
<text x="438.60" y="173.20" font-size="6.4" font-weight="bold" fill="#c23a3a">TLX1</text>
<text x="438.60" y="187.10" font-size="6.4" font-weight="bold" fill="#111">ETS2</text>
<text x="438.60" y="194.10" font-size="6.4" font-weight="bold" fill="#111">RANBP2</text>
<text x="438.60" y="201.10" font-size="6.4" font-weight="bold" fill="#111">TRG@</text>
<text x="438.60" y="215.50" font-size="6.4" font-weight="bold" fill="#111">IL7R</text>
<text x="438.60" y="222.70" font-size="6.4" font-weight="bold" fill="#111">FLT3</text>
<text x="438.60" y="228.90" font-size="6.4" font-weight="bold" fill="#c23a3a">TLX3</text>
<text x="438.60" y="236.70" font-size="6.4" font-weight="bold" fill="#111">CCND2</text>
<text x="438.60" y="251.90" font-size="6.4" font-weight="bold" fill="#c23a3a">SIX6</text>
<text x="438.60" y="258.20" font-size="6.4" font-weight="bold" fill="#c23a3a">KIFC3</text>
<text x="438.60" y="265.10" font-size="6.4" font-weight="bold" fill="#c23a3a">NKX3-1</text>
<text x="438.60" y="271.70" font-size="6.4" font-weight="bold" fill="#c23a3a">PTRF</text>
<text x="438.60" y="278.70" font-size="6.4" font-weight="bold" fill="#111">ALDH1A2</text>
<text x="438.60" y="285.10" font-size="6.4" font-weight="bold" fill="#111">IL9R</text>
<text x="438.60" y="296.00" font-size="6.4" font-weight="bold" fill="#c23a3a">TAL1</text>
<text x="438.60" y="305.80" font-size="6.4" font-weight="bold" fill="#c23a3a">IRX5</text>
<text x="440.20" y="313.80" font-size="6.4" font-weight="bold" fill="#111">SMC4</text>
<text x="440.20" y="319.70" font-size="6.4" font-weight="bold" fill="#111">KIF11</text>
<text x="440.20" y="326.70" font-size="6.4" font-weight="bold" fill="#111">CDCA3</text>
<text x="440.20" y="332.50" font-size="6.4" font-weight="bold" fill="#111">CCNB2</text>
<text x="440.20" y="339.00" font-size="6.4" font-weight="bold" fill="#111">CENPE</text>
<text x="440.20" y="345.30" font-size="6.4" font-weight="bold" fill="#111">MKI67</text>
<rect x="433.20" y="312.40" width="3.10" height="30.00" fill="#2c3a80"/>
<g shape-rendering="crispEdges">
<rect x="80.00" y="351.00" width="14.88" height="4.30" fill="#3b49a6"/>
<rect x="94.58" y="351.00" width="14.88" height="4.30" fill="#3b49a6"/>
<rect x="109.17" y="351.00" width="14.88" height="4.30" fill="#3b49a6"/>
<rect x="123.75" y="351.00" width="14.88" height="4.30" fill="#3b49a6"/>
<rect x="138.33" y="351.00" width="14.88" height="4.30" fill="#5561b2"/>
<rect x="152.92" y="351.00" width="14.88" height="4.30" fill="#5f6bb8"/>
<rect x="167.50" y="351.00" width="14.88" height="4.30" fill="#6c77bf"/>
<rect x="182.08" y="351.00" width="14.88" height="4.30" fill="#7b85c7"/>
<rect x="196.67" y="351.00" width="14.88" height="4.30" fill="#b2b6de"/>
<rect x="211.25" y="351.00" width="14.88" height="4.30" fill="#c2c5e5"/>
<rect x="225.83" y="351.00" width="14.88" height="4.30" fill="#d3d5ec"/>
<rect x="240.42" y="351.00" width="14.88" height="4.30" fill="#ebebf5"/>
<rect x="255.00" y="351.00" width="14.88" height="4.30" fill="#f7f3f5"/>
<rect x="269.58" y="351.00" width="14.88" height="4.30" fill="#f6dada"/>
<rect x="284.17" y="351.00" width="14.88" height="4.30" fill="#f0c6c6"/>
<rect x="298.75" y="351.00" width="14.88" height="4.30" fill="#ebb2b2"/>
<rect x="313.33" y="351.00" width="14.88" height="4.30" fill="#e38a8a"/>
<rect x="327.92" y="351.00" width="14.88" height="4.30" fill="#df7b7b"/>
<rect x="342.50" y="351.00" width="14.88" height="4.30" fill="#db6b6b"/>
<rect x="357.08" y="351.00" width="14.88" height="4.30" fill="#d85c5c"/>
<rect x="371.67" y="351.00" width="14.88" height="4.30" fill="#d13c3c"/>
<rect x="386.25" y="351.00" width="14.88" height="4.30" fill="#cf3535"/>
<rect x="400.83" y="351.00" width="14.88" height="4.30" fill="#cd3030"/>
<rect x="415.42" y="351.00" width="14.88" height="4.30" fill="#cb2b2b"/>
</g>
<text x="87.29" y="361.20" font-size="5.4" fill="#333" text-anchor="middle">-3.0</text>
<text x="101.88" y="361.20" font-size="5.4" fill="#333" text-anchor="middle">-2.7</text>
<text x="116.46" y="361.20" font-size="5.4" fill="#333" text-anchor="middle">-2.5</text>
<text x="131.04" y="361.20" font-size="5.4" fill="#333" text-anchor="middle">-2.2</text>
<text x="145.62" y="361.20" font-size="5.4" fill="#333" text-anchor="middle">-2.0</text>
<text x="160.21" y="361.20" font-size="5.4" fill="#333" text-anchor="middle">-1.7</text>
<text x="174.79" y="361.20" font-size="5.4" fill="#333" text-anchor="middle">-1.4</text>
<text x="189.38" y="361.20" font-size="5.4" fill="#333" text-anchor="middle">-1.2</text>
<text x="203.96" y="361.20" font-size="5.4" fill="#333" text-anchor="middle">-0.9</text>
<text x="218.54" y="361.20" font-size="5.4" fill="#333" text-anchor="middle">-0.7</text>
<text x="233.12" y="361.20" font-size="5.4" fill="#333" text-anchor="middle">-0.4</text>
<text x="247.71" y="361.20" font-size="5.4" fill="#333" text-anchor="middle">-0.1</text>
<text x="262.29" y="361.20" font-size="5.4" fill="#333" text-anchor="middle">0.1</text>
<text x="276.88" y="361.20" font-size="5.4" fill="#333" text-anchor="middle">0.4</text>
<text x="291.46" y="361.20" font-size="5.4" fill="#333" text-anchor="middle">0.7</text>
<text x="306.04" y="361.20" font-size="5.4" fill="#333" text-anchor="middle">0.9</text>
<text x="320.62" y="361.20" font-size="5.4" fill="#333" text-anchor="middle">1.2</text>
<text x="335.21" y="361.20" font-size="5.4" fill="#333" text-anchor="middle">1.4</text>
<text x="349.79" y="361.20" font-size="5.4" fill="#333" text-anchor="middle">1.7</text>
<text x="364.38" y="361.20" font-size="5.4" fill="#333" text-anchor="middle">2.0</text>
<text x="378.96" y="361.20" font-size="5.4" fill="#333" text-anchor="middle">2.2</text>
<text x="393.54" y="361.20" font-size="5.4" fill="#333" text-anchor="middle">2.5</text>
<text x="408.12" y="361.20" font-size="5.4" fill="#333" text-anchor="middle">2.7</text>
<text x="422.71" y="361.20" font-size="5.4" fill="#333" text-anchor="middle">3.0</text>
<path d="M474.2,328.1 L478,327.8 C482,330 486,337 489.4,345 C491.5,351 492.6,358 492.6,365.5 C492.6,370 491.5,374 490.5,380.1 L484.5,372 L484.5,358.5 L486.7,362.3 C488.8,358 489.2,352 488.3,348.2 C487,344 485,342 484,341.7 C481,339.5 479,338.5 477.5,337.9 L475.8,335.2 Z" fill="#4b59b3" stroke="#0e1530" stroke-width="1.0" stroke-linejoin="round"/>
<text x="228.00" y="397.30" font-size="10.35" font-weight="bold" fill="#000">Genes of the cluster:</text>
<text x="228.00" y="415.90" font-size="10.42" font-weight="bold" fill="#000">SMC4, KIF11, KIF14, KIF15, KIF20A, DLG7, ESPL1,</text>
<text x="228.00" y="428.80" font-size="10.42" font-weight="bold" fill="#000">TOP2A, CDCA3, CDCA8, CDC20, CCNA2, CCNB2,</text>
<text x="228.00" y="441.30" font-size="10.42" font-weight="bold" fill="#000">CENPE, PLK1, RRM2, MKI67, EXOSC9, DKFZp762E1312</text>
<text x="87.50" y="475.00" font-size="10.1" font-weight="bold" fill="#000">TCRB-MYB</text>
<line x1="150.80" y1="453.80" x2="150.80" y2="493.80" stroke="#333" stroke-width="1.0"/>
<text x="158.00" y="448.60" font-size="8.7" font-weight="bold" fill="#111">1 Jurkat</text>
<text x="158.00" y="460.10" font-size="8.7" font-weight="bold" fill="#5a64a8">2 TL92</text>
<text x="158.00" y="471.10" font-size="8.7" font-weight="bold" fill="#5a64a8">3 TL33</text>
<text x="158.00" y="481.85" font-size="8.7" font-weight="bold" fill="#5a64a8">4 TL93</text>
<text x="158.00" y="492.60" font-size="8.7" font-weight="bold" fill="#5a64a8">5 TL34</text>
<text x="158.00" y="503.60" font-size="8.7" font-weight="bold" fill="#111">6 Molt4</text>
<text x="158.00" y="514.85" font-size="8.7" font-weight="bold" fill="#111">7 CEM</text>
<text x="158.00" y="525.60" font-size="8.7" font-weight="bold" fill="#111">8 Thymus</text>
<text x="158.00" y="536.85" font-size="8.7" font-weight="bold" fill="#111">9 TL29</text>
<text x="266.90" y="502.30" font-size="10.0" font-weight="bold" fill="#111" text-anchor="middle">1</text>
<text x="276.00" y="502.30" font-size="10.0" font-weight="bold" fill="#5a64a8" text-anchor="middle">2</text>
<text x="284.20" y="502.30" font-size="10.0" font-weight="bold" fill="#5a64a8" text-anchor="middle">3</text>
<text x="292.70" y="502.30" font-size="10.0" font-weight="bold" fill="#5a64a8" text-anchor="middle">4</text>
<text x="301.00" y="502.30" font-size="10.0" font-weight="bold" fill="#5a64a8" text-anchor="middle">5</text>
<text x="309.60" y="502.30" font-size="10.0" font-weight="bold" fill="#111" text-anchor="middle">6</text>
<text x="318.30" y="502.30" font-size="10.0" font-weight="bold" fill="#111" text-anchor="middle">7</text>
<text x="326.90" y="502.30" font-size="10.0" font-weight="bold" fill="#111" text-anchor="middle">8</text>
<text x="335.60" y="502.30" font-size="10.0" font-weight="bold" fill="#111" text-anchor="middle">9</text>
<line x1="61.10" y1="577.70" x2="61.10" y2="587.70" stroke="#c8c8c8" stroke-width="1.3"/>
<line x1="68.00" y1="575.70" x2="68.00" y2="583.70" stroke="#c8c8c8" stroke-width="1.3"/>
<line x1="75.40" y1="576.10" x2="75.40" y2="586.10" stroke="#c8c8c8" stroke-width="1.3"/>
<line x1="82.80" y1="562.20" x2="82.80" y2="574.20" stroke="#c8c8c8" stroke-width="1.3"/>
<line x1="89.70" y1="573.40" x2="89.70" y2="581.40" stroke="#c8c8c8" stroke-width="1.3"/>
<line x1="97.10" y1="579.00" x2="97.10" y2="591.00" stroke="#c8c8c8" stroke-width="1.3"/>
<line x1="104.70" y1="545.00" x2="104.70" y2="571.00" stroke="#c8c8c8" stroke-width="1.3"/>
<line x1="111.80" y1="555.40" x2="111.80" y2="575.40" stroke="#c8c8c8" stroke-width="1.3"/>
<line x1="119.20" y1="546.00" x2="119.20" y2="570.00" stroke="#c8c8c8" stroke-width="1.3"/>
<line x1="126.20" y1="568.50" x2="126.20" y2="578.50" stroke="#c8c8c8" stroke-width="1.3"/>
<line x1="133.50" y1="579.80" x2="133.50" y2="587.80" stroke="#c8c8c8" stroke-width="1.3"/>
<line x1="141.20" y1="592.50" x2="141.20" y2="600.50" stroke="#c8c8c8" stroke-width="1.3"/>
<line x1="148.50" y1="583.30" x2="148.50" y2="591.30" stroke="#c8c8c8" stroke-width="1.3"/>
<line x1="155.70" y1="583.00" x2="155.70" y2="593.00" stroke="#c8c8c8" stroke-width="1.3"/>
<line x1="163.10" y1="587.20" x2="163.10" y2="595.20" stroke="#c8c8c8" stroke-width="1.3"/>
<line x1="169.70" y1="591.70" x2="169.70" y2="597.70" stroke="#c8c8c8" stroke-width="1.3"/>
<line x1="177.30" y1="596.50" x2="177.30" y2="602.50" stroke="#c8c8c8" stroke-width="1.3"/>
<line x1="184.70" y1="595.40" x2="184.70" y2="601.40" stroke="#c8c8c8" stroke-width="1.3"/>
<line x1="191.80" y1="592.40" x2="191.80" y2="598.40" stroke="#c8c8c8" stroke-width="1.3"/>
<line x1="199.20" y1="581.20" x2="199.20" y2="591.20" stroke="#c8c8c8" stroke-width="1.3"/>
<line x1="206.60" y1="590.50" x2="206.60" y2="596.50" stroke="#c8c8c8" stroke-width="1.3"/>
<line x1="213.80" y1="598.20" x2="213.80" y2="604.20" stroke="#c8c8c8" stroke-width="1.3"/>
<line x1="221.20" y1="592.80" x2="221.20" y2="598.80" stroke="#c8c8c8" stroke-width="1.3"/>
<line x1="228.30" y1="586.20" x2="228.30" y2="596.20" stroke="#c8c8c8" stroke-width="1.3"/>
<line x1="235.70" y1="593.50" x2="235.70" y2="599.50" stroke="#c8c8c8" stroke-width="1.3"/>
<line x1="243.10" y1="580.20" x2="243.10" y2="592.20" stroke="#c8c8c8" stroke-width="1.3"/>
<line x1="250.00" y1="593.50" x2="250.00" y2="599.50" stroke="#c8c8c8" stroke-width="1.3"/>
<line x1="257.40" y1="580.00" x2="257.40" y2="590.00" stroke="#c8c8c8" stroke-width="1.3"/>
<line x1="264.40" y1="555.40" x2="264.40" y2="565.40" stroke="#c8c8c8" stroke-width="1.3"/>
<line x1="271.50" y1="524.00" x2="271.50" y2="556.00" stroke="#9098cc" stroke-width="1.3"/>
<line x1="279.20" y1="556.70" x2="279.20" y2="568.70" stroke="#9098cc" stroke-width="1.3"/>
<line x1="286.50" y1="542.10" x2="286.50" y2="562.10" stroke="#9098cc" stroke-width="1.3"/>
<line x1="293.80" y1="543.00" x2="293.80" y2="567.00" stroke="#9098cc" stroke-width="1.3"/>
<line x1="301.00" y1="532.20" x2="301.00" y2="546.20" stroke="#9098cc" stroke-width="1.3"/>
<line x1="308.30" y1="522.20" x2="308.30" y2="556.20" stroke="#9098cc" stroke-width="1.3"/>
<line x1="315.40" y1="515.80" x2="315.40" y2="555.80" stroke="#9098cc" stroke-width="1.3"/>
<line x1="323.10" y1="529.90" x2="323.10" y2="553.90" stroke="#9098cc" stroke-width="1.3"/>
<line x1="330.40" y1="545.70" x2="330.40" y2="559.70" stroke="#9098cc" stroke-width="1.3"/>
<line x1="337.50" y1="562.00" x2="337.50" y2="572.00" stroke="#c8c8c8" stroke-width="1.3"/>
<line x1="345.00" y1="577.00" x2="345.00" y2="587.00" stroke="#c8c8c8" stroke-width="1.3"/>
<line x1="352.00" y1="583.75" x2="352.00" y2="593.75" stroke="#c8c8c8" stroke-width="1.3"/>
<line x1="359.50" y1="585.00" x2="359.50" y2="595.00" stroke="#c8c8c8" stroke-width="1.3"/>
<line x1="367.00" y1="589.00" x2="367.00" y2="597.00" stroke="#c8c8c8" stroke-width="1.3"/>
<line x1="374.50" y1="588.50" x2="374.50" y2="596.50" stroke="#c8c8c8" stroke-width="1.3"/>
<line x1="381.25" y1="566.25" x2="381.25" y2="576.25" stroke="#c8c8c8" stroke-width="1.3"/>
<line x1="388.75" y1="570.50" x2="388.75" y2="580.50" stroke="#c8c8c8" stroke-width="1.3"/>
<line x1="395.50" y1="571.25" x2="395.50" y2="581.25" stroke="#c8c8c8" stroke-width="1.3"/>
<line x1="403.00" y1="556.50" x2="403.00" y2="572.50" stroke="#c8c8c8" stroke-width="1.3"/>
<line x1="410.50" y1="541.00" x2="410.50" y2="565.00" stroke="#c8c8c8" stroke-width="1.3"/>
<line x1="417.50" y1="555.75" x2="417.50" y2="571.75" stroke="#c8c8c8" stroke-width="1.3"/>
<line x1="425.00" y1="555.25" x2="425.00" y2="567.25" stroke="#c8c8c8" stroke-width="1.3"/>
<line x1="432.00" y1="561.50" x2="432.00" y2="573.50" stroke="#c8c8c8" stroke-width="1.3"/>
<line x1="439.50" y1="597.00" x2="439.50" y2="603.00" stroke="#c8c8c8" stroke-width="1.3"/>
<line x1="447.00" y1="568.75" x2="447.00" y2="578.75" stroke="#c8c8c8" stroke-width="1.3"/>
<polyline points="61.1,582.7 68.0,579.7 75.4,581.1 82.8,568.2 89.7,577.4 97.1,585.0 104.7,558.0 111.8,565.4 119.2,558.0 126.2,573.5 133.5,583.8 141.2,596.5 148.5,587.3 155.7,588.0 163.1,591.2 169.7,594.7 177.3,599.5 184.7,598.4 191.8,595.4 199.2,586.2 206.6,593.5 213.8,601.2 221.2,595.8 228.3,591.2 235.7,596.5 243.1,586.2 250.0,596.5 257.4,585.0 264.4,560.4" fill="none" stroke="#b4b4b4" stroke-width="0.9"/>
<polyline points="330.4,552.7 337.5,567.0 345.0,582.0 352.0,588.8 359.5,590.0 367.0,593.0 374.5,592.5 381.2,571.2 388.8,575.5 395.5,576.2 403.0,564.5 410.5,553.0 417.5,563.8 425.0,561.2 432.0,567.5 439.5,600.0 447.0,573.8" fill="none" stroke="#b4b4b4" stroke-width="0.9"/>
<polyline points="264.4,560.4 271.5,540.0 279.2,562.7 286.5,552.1 293.8,555.0 301.0,539.2 308.3,539.2 315.4,535.8 323.1,541.9 330.4,552.7" fill="none" stroke="#7880bc" stroke-width="1.1"/>
<circle cx="61.1" cy="582.7" r="1.3" fill="#aaaaaa"/>
<circle cx="68.0" cy="579.7" r="1.3" fill="#aaaaaa"/>
<circle cx="75.4" cy="581.1" r="1.3" fill="#aaaaaa"/>
<circle cx="82.8" cy="568.2" r="1.3" fill="#aaaaaa"/>
<circle cx="89.7" cy="577.4" r="1.3" fill="#aaaaaa"/>
<circle cx="97.1" cy="585.0" r="1.3" fill="#aaaaaa"/>
<circle cx="104.7" cy="558.0" r="1.3" fill="#aaaaaa"/>
<circle cx="111.8" cy="565.4" r="1.3" fill="#aaaaaa"/>
<circle cx="119.2" cy="558.0" r="1.3" fill="#aaaaaa"/>
<circle cx="126.2" cy="573.5" r="1.3" fill="#aaaaaa"/>
<circle cx="133.5" cy="583.8" r="1.3" fill="#aaaaaa"/>
<circle cx="141.2" cy="596.5" r="1.3" fill="#aaaaaa"/>
<circle cx="148.5" cy="587.3" r="1.3" fill="#aaaaaa"/>
<circle cx="155.7" cy="588.0" r="1.3" fill="#aaaaaa"/>
<circle cx="163.1" cy="591.2" r="1.3" fill="#aaaaaa"/>
<circle cx="169.7" cy="594.7" r="1.3" fill="#aaaaaa"/>
<circle cx="177.3" cy="599.5" r="1.3" fill="#aaaaaa"/>
<circle cx="184.7" cy="598.4" r="1.3" fill="#aaaaaa"/>
<circle cx="191.8" cy="595.4" r="1.3" fill="#aaaaaa"/>
<circle cx="199.2" cy="586.2" r="1.3" fill="#aaaaaa"/>
<circle cx="206.6" cy="593.5" r="1.3" fill="#aaaaaa"/>
<circle cx="213.8" cy="601.2" r="1.3" fill="#aaaaaa"/>
<circle cx="221.2" cy="595.8" r="1.3" fill="#aaaaaa"/>
<circle cx="228.3" cy="591.2" r="1.3" fill="#aaaaaa"/>
<circle cx="235.7" cy="596.5" r="1.3" fill="#aaaaaa"/>
<circle cx="243.1" cy="586.2" r="1.3" fill="#aaaaaa"/>
<circle cx="250.0" cy="596.5" r="1.3" fill="#aaaaaa"/>
<circle cx="257.4" cy="585.0" r="1.3" fill="#aaaaaa"/>
<circle cx="264.4" cy="560.4" r="1.3" fill="#aaaaaa"/>
<circle cx="271.5" cy="540.0" r="1.3" fill="#6a74b4"/>
<circle cx="279.2" cy="562.7" r="1.3" fill="#6a74b4"/>
<circle cx="286.5" cy="552.1" r="1.3" fill="#6a74b4"/>
<circle cx="293.8" cy="555.0" r="1.3" fill="#6a74b4"/>
<circle cx="301.0" cy="539.2" r="1.3" fill="#6a74b4"/>
<circle cx="308.3" cy="539.2" r="1.3" fill="#6a74b4"/>
<circle cx="315.4" cy="535.8" r="1.3" fill="#6a74b4"/>
<circle cx="323.1" cy="541.9" r="1.3" fill="#6a74b4"/>
<circle cx="330.4" cy="552.7" r="1.3" fill="#6a74b4"/>
<circle cx="337.5" cy="567.0" r="1.3" fill="#aaaaaa"/>
<circle cx="345.0" cy="582.0" r="1.3" fill="#aaaaaa"/>
<circle cx="352.0" cy="588.8" r="1.3" fill="#aaaaaa"/>
<circle cx="359.5" cy="590.0" r="1.3" fill="#aaaaaa"/>
<circle cx="367.0" cy="593.0" r="1.3" fill="#aaaaaa"/>
<circle cx="374.5" cy="592.5" r="1.3" fill="#aaaaaa"/>
<circle cx="381.2" cy="571.2" r="1.3" fill="#aaaaaa"/>
<circle cx="388.8" cy="575.5" r="1.3" fill="#aaaaaa"/>
<circle cx="395.5" cy="576.2" r="1.3" fill="#aaaaaa"/>
<circle cx="403.0" cy="564.5" r="1.3" fill="#aaaaaa"/>
<circle cx="410.5" cy="553.0" r="1.3" fill="#aaaaaa"/>
<circle cx="417.5" cy="563.8" r="1.3" fill="#aaaaaa"/>
<circle cx="425.0" cy="561.2" r="1.3" fill="#aaaaaa"/>
<circle cx="432.0" cy="567.5" r="1.3" fill="#aaaaaa"/>
<circle cx="439.5" cy="600.0" r="1.3" fill="#aaaaaa"/>
<circle cx="447.0" cy="573.8" r="1.3" fill="#aaaaaa"/>
<rect x="59.60" y="617.70" width="206.60" height="7.00" fill="#e87c40" stroke="#3a1a08" stroke-width="1.2"/>
<rect x="274.90" y="617.70" width="30.80" height="7.00" fill="#c95cb4" stroke="#3a0a30" stroke-width="1.2"/>
<rect x="327.40" y="617.70" width="122.20" height="7.00" fill="#3d4aa8" stroke="#101a40" stroke-width="1.2"/>
<text x="155.40" y="643.40" font-size="10.3" font-weight="bold" fill="#111" text-anchor="middle">TLX1 / TLX3</text>
<text x="302.00" y="642.40" font-size="10.3" font-weight="bold" fill="#111" text-anchor="middle">TCRB-MYB</text>
<text x="406.50" y="642.40" font-size="10.3" font-weight="bold" fill="#111" text-anchor="middle">SIL-TAL1</text>
<line x1="120.60" y1="0.70" x2="336.70" y2="0.70" stroke="#555" stroke-width="1.0"/>
<line x1="120.60" y1="0.70" x2="120.60" y2="25.40" stroke="#7c7c7c" stroke-width="0.75"/>
<line x1="336.70" y1="0.70" x2="336.70" y2="24.40" stroke="#7c7c7c" stroke-width="0.75"/>
<line x1="83.20" y1="25.40" x2="157.70" y2="25.40" stroke="#7c7c7c" stroke-width="0.75"/>
<line x1="83.20" y1="25.40" x2="83.20" y2="32.10" stroke="#7c7c7c" stroke-width="0.75"/>
<line x1="80.40" y1="32.10" x2="86.94" y2="32.10" stroke="#7c7c7c" stroke-width="0.75"/>
<line x1="80.40" y1="32.10" x2="80.40" y2="48.80" stroke="#7c7c7c" stroke-width="0.75"/>
<line x1="86.94" y1="32.10" x2="86.94" y2="48.80" stroke="#7c7c7c" stroke-width="0.75"/>
<line x1="157.70" y1="25.40" x2="157.70" y2="29.80" stroke="#7c7c7c" stroke-width="0.75"/>
<line x1="96.50" y1="29.80" x2="192.50" y2="29.80" stroke="#555" stroke-width="1.1"/>
<line x1="96.50" y1="29.80" x2="96.50" y2="43.70" stroke="#7c7c7c" stroke-width="0.75"/>
<line x1="93.48" y1="43.70" x2="100.02" y2="43.70" stroke="#7c7c7c" stroke-width="0.75"/>
<line x1="93.48" y1="43.70" x2="93.48" y2="48.80" stroke="#7c7c7c" stroke-width="0.75"/>
<line x1="100.02" y1="43.70" x2="100.02" y2="48.80" stroke="#7c7c7c" stroke-width="0.75"/>
<line x1="106.56" y1="29.80" x2="106.56" y2="48.80" stroke="#7c7c7c" stroke-width="0.75"/>
<line x1="113.10" y1="29.80" x2="113.10" y2="48.80" stroke="#7c7c7c" stroke-width="0.75"/>
<line x1="102.80" y1="29.60" x2="110.30" y2="29.60" stroke="#333" stroke-width="1.3"/>
<line x1="142.50" y1="29.80" x2="142.50" y2="35.10" stroke="#7c7c7c" stroke-width="0.75"/>
<line x1="119.64" y1="35.10" x2="157.10" y2="35.10" stroke="#7c7c7c" stroke-width="0.75"/>
<line x1="119.64" y1="35.10" x2="119.64" y2="48.80" stroke="#7c7c7c" stroke-width="0.75"/>
<line x1="126.18" y1="35.10" x2="126.18" y2="48.80" stroke="#7c7c7c" stroke-width="0.75"/>
<line x1="132.72" y1="35.10" x2="132.72" y2="48.80" stroke="#7c7c7c" stroke-width="0.75"/>
<line x1="157.10" y1="35.10" x2="157.10" y2="39.00" stroke="#7c7c7c" stroke-width="0.75"/>
<line x1="139.26" y1="39.00" x2="165.42" y2="39.00" stroke="#7c7c7c" stroke-width="0.75"/>
<line x1="139.26" y1="39.00" x2="139.26" y2="48.80" stroke="#7c7c7c" stroke-width="0.75"/>
<line x1="145.80" y1="39.00" x2="145.80" y2="48.80" stroke="#7c7c7c" stroke-width="0.75"/>
<line x1="155.60" y1="39.00" x2="155.60" y2="41.30" stroke="#7c7c7c" stroke-width="0.75"/>
<line x1="152.34" y1="41.30" x2="158.88" y2="41.30" stroke="#7c7c7c" stroke-width="0.75"/>
<line x1="152.34" y1="41.30" x2="152.34" y2="48.80" stroke="#7c7c7c" stroke-width="0.75"/>
<line x1="158.88" y1="41.30" x2="158.88" y2="48.80" stroke="#7c7c7c" stroke-width="0.75"/>
<line x1="165.42" y1="39.00" x2="165.42" y2="48.80" stroke="#7c7c7c" stroke-width="0.75"/>
<line x1="192.50" y1="29.80" x2="192.50" y2="34.80" stroke="#7c7c7c" stroke-width="0.75"/>
<line x1="175.20" y1="34.80" x2="209.80" y2="34.80" stroke="#7c7c7c" stroke-width="0.75"/>
<line x1="175.20" y1="34.80" x2="175.20" y2="36.00" stroke="#7c7c7c" stroke-width="0.75"/>
<line x1="171.96" y1="36.00" x2="178.50" y2="36.00" stroke="#7c7c7c" stroke-width="0.75"/>
<line x1="171.96" y1="36.00" x2="171.96" y2="48.80" stroke="#7c7c7c" stroke-width="0.75"/>
<line x1="178.50" y1="36.00" x2="178.50" y2="48.80" stroke="#7c7c7c" stroke-width="0.75"/>
<line x1="187.80" y1="34.80" x2="187.80" y2="36.10" stroke="#7c7c7c" stroke-width="0.75"/>
<line x1="185.04" y1="36.10" x2="191.58" y2="36.10" stroke="#7c7c7c" stroke-width="0.75"/>
<line x1="185.04" y1="36.10" x2="185.04" y2="48.80" stroke="#7c7c7c" stroke-width="0.75"/>
<line x1="191.58" y1="36.10" x2="191.58" y2="48.80" stroke="#7c7c7c" stroke-width="0.75"/>
<line x1="209.80" y1="34.80" x2="209.80" y2="37.30" stroke="#7c7c7c" stroke-width="0.75"/>
<line x1="200.90" y1="37.30" x2="256.98" y2="37.30" stroke="#555" stroke-width="1.1"/>
<line x1="200.90" y1="37.30" x2="200.90" y2="40.20" stroke="#7c7c7c" stroke-width="0.75"/>
<line x1="198.12" y1="40.20" x2="204.66" y2="40.20" stroke="#7c7c7c" stroke-width="0.75"/>
<line x1="198.12" y1="40.20" x2="198.12" y2="48.80" stroke="#7c7c7c" stroke-width="0.75"/>
<line x1="204.66" y1="40.20" x2="204.66" y2="48.80" stroke="#7c7c7c" stroke-width="0.75"/>
<line x1="211.20" y1="37.30" x2="211.20" y2="48.80" stroke="#7c7c7c" stroke-width="0.75"/>
<line x1="220.50" y1="37.30" x2="220.50" y2="41.50" stroke="#7c7c7c" stroke-width="0.75"/>
<line x1="217.74" y1="41.50" x2="224.28" y2="41.50" stroke="#7c7c7c" stroke-width="0.75"/>
<line x1="217.74" y1="41.50" x2="217.74" y2="48.80" stroke="#7c7c7c" stroke-width="0.75"/>
<line x1="224.28" y1="41.50" x2="224.28" y2="48.80" stroke="#7c7c7c" stroke-width="0.75"/>
<line x1="234.10" y1="37.30" x2="234.10" y2="39.80" stroke="#7c7c7c" stroke-width="0.75"/>
<line x1="230.82" y1="39.80" x2="237.36" y2="39.80" stroke="#7c7c7c" stroke-width="0.75"/>
<line x1="230.82" y1="39.80" x2="230.82" y2="48.80" stroke="#7c7c7c" stroke-width="0.75"/>
<line x1="237.36" y1="39.80" x2="237.36" y2="48.80" stroke="#7c7c7c" stroke-width="0.75"/>
<line x1="247.20" y1="37.30" x2="247.20" y2="39.80" stroke="#7c7c7c" stroke-width="0.75"/>
<line x1="243.90" y1="39.80" x2="250.44" y2="39.80" stroke="#7c7c7c" stroke-width="0.75"/>
<line x1="243.90" y1="39.80" x2="243.90" y2="48.80" stroke="#7c7c7c" stroke-width="0.75"/>
<line x1="250.44" y1="39.80" x2="250.44" y2="48.80" stroke="#7c7c7c" stroke-width="0.75"/>
<line x1="256.98" y1="37.30" x2="256.98" y2="48.80" stroke="#7c7c7c" stroke-width="0.75"/>
<line x1="303.40" y1="24.40" x2="370.70" y2="24.40" stroke="#7c7c7c" stroke-width="0.75"/>
<line x1="303.40" y1="24.40" x2="303.40" y2="28.70" stroke="#7c7c7c" stroke-width="0.75"/>
<line x1="277.50" y1="28.70" x2="328.92" y2="28.70" stroke="#7c7c7c" stroke-width="0.75"/>
<line x1="328.92" y1="28.70" x2="328.92" y2="48.80" stroke="#7c7c7c" stroke-width="0.75"/>
<line x1="277.50" y1="28.70" x2="277.50" y2="34.40" stroke="#7c7c7c" stroke-width="0.75"/>
<line x1="263.52" y1="34.40" x2="291.30" y2="34.40" stroke="#7c7c7c" stroke-width="0.75"/>
<line x1="263.52" y1="34.40" x2="263.52" y2="48.80" stroke="#7c7c7c" stroke-width="0.75"/>
<line x1="291.30" y1="34.40" x2="291.30" y2="38.20" stroke="#7c7c7c" stroke-width="0.75"/>
<line x1="270.06" y1="38.20" x2="313.80" y2="38.20" stroke="#7c7c7c" stroke-width="0.75"/>
<line x1="270.06" y1="38.20" x2="270.06" y2="48.80" stroke="#7c7c7c" stroke-width="0.75"/>
<line x1="294.30" y1="38.20" x2="294.30" y2="40.50" stroke="#98a2d8" stroke-width="0.75"/>
<line x1="294.30" y1="40.50" x2="309.30" y2="40.50" stroke="#98a2d8" stroke-width="0.75"/>
<line x1="302.76" y1="40.50" x2="302.76" y2="48.80" stroke="#7c7c7c" stroke-width="0.75"/>
<line x1="309.30" y1="40.50" x2="309.30" y2="48.80" stroke="#7c7c7c" stroke-width="0.75"/>
<line x1="281.50" y1="42.20" x2="295.60" y2="42.20" stroke="#98a2d8" stroke-width="0.75"/>
<line x1="286.00" y1="42.20" x2="286.00" y2="44.80" stroke="#98a2d8" stroke-width="0.75"/>
<line x1="276.60" y1="44.80" x2="296.22" y2="44.80" stroke="#7c7c7c" stroke-width="0.75"/>
<line x1="276.60" y1="44.80" x2="276.60" y2="48.80" stroke="#7c7c7c" stroke-width="0.75"/>
<line x1="283.14" y1="44.80" x2="283.14" y2="48.80" stroke="#7c7c7c" stroke-width="0.75"/>
<line x1="289.68" y1="44.80" x2="289.68" y2="48.80" stroke="#7c7c7c" stroke-width="0.75"/>
<line x1="296.22" y1="44.80" x2="296.22" y2="48.80" stroke="#7c7c7c" stroke-width="0.75"/>
<line x1="313.80" y1="38.20" x2="313.80" y2="40.20" stroke="#7c7c7c" stroke-width="0.75"/>
<line x1="315.84" y1="40.20" x2="322.38" y2="40.20" stroke="#7c7c7c" stroke-width="0.75"/>
<line x1="315.84" y1="40.20" x2="315.84" y2="48.80" stroke="#7c7c7c" stroke-width="0.75"/>
<line x1="322.38" y1="40.20" x2="322.38" y2="48.80" stroke="#7c7c7c" stroke-width="0.75"/>
<line x1="370.70" y1="24.40" x2="370.70" y2="32.40" stroke="#7c7c7c" stroke-width="0.75"/>
<line x1="335.46" y1="32.40" x2="427.02" y2="32.40" stroke="#7c7c7c" stroke-width="0.75"/>
<line x1="335.46" y1="32.40" x2="335.46" y2="48.80" stroke="#7c7c7c" stroke-width="0.75"/>
<line x1="427.02" y1="32.40" x2="427.02" y2="48.80" stroke="#7c7c7c" stroke-width="0.75"/>
<line x1="386.10" y1="32.40" x2="386.10" y2="36.50" stroke="#7c7c7c" stroke-width="0.75"/>
<line x1="365.00" y1="36.50" x2="411.50" y2="36.50" stroke="#7c7c7c" stroke-width="0.75"/>
<line x1="365.00" y1="36.50" x2="365.00" y2="37.60" stroke="#7c7c7c" stroke-width="0.75"/>
<line x1="350.00" y1="37.60" x2="378.00" y2="37.60" stroke="#7c7c7c" stroke-width="0.75"/>
<line x1="350.00" y1="37.60" x2="350.00" y2="38.50" stroke="#7c7c7c" stroke-width="0.75"/>
<line x1="342.00" y1="38.50" x2="358.10" y2="38.50" stroke="#7c7c7c" stroke-width="0.75"/>
<line x1="342.00" y1="38.50" x2="342.00" y2="48.80" stroke="#7c7c7c" stroke-width="0.75"/>
<line x1="348.54" y1="38.50" x2="348.54" y2="48.80" stroke="#7c7c7c" stroke-width="0.75"/>
<line x1="358.10" y1="38.50" x2="358.10" y2="41.10" stroke="#7c7c7c" stroke-width="0.75"/>
<line x1="355.08" y1="41.10" x2="361.62" y2="41.10" stroke="#7c7c7c" stroke-width="0.75"/>
<line x1="355.08" y1="41.10" x2="355.08" y2="48.80" stroke="#7c7c7c" stroke-width="0.75"/>
<line x1="361.62" y1="41.10" x2="361.62" y2="48.80" stroke="#7c7c7c" stroke-width="0.75"/>
<line x1="368.16" y1="37.60" x2="368.16" y2="48.80" stroke="#7c7c7c" stroke-width="0.75"/>
<line x1="378.00" y1="37.60" x2="378.00" y2="45.70" stroke="#7c7c7c" stroke-width="0.75"/>
<line x1="374.70" y1="45.70" x2="381.24" y2="45.70" stroke="#7c7c7c" stroke-width="0.75"/>
<line x1="374.70" y1="45.70" x2="374.70" y2="48.80" stroke="#7c7c7c" stroke-width="0.75"/>
<line x1="381.24" y1="45.70" x2="381.24" y2="48.80" stroke="#7c7c7c" stroke-width="0.75"/>
<line x1="411.50" y1="36.50" x2="411.50" y2="39.30" stroke="#7c7c7c" stroke-width="0.75"/>
<line x1="403.40" y1="39.30" x2="420.48" y2="39.30" stroke="#7c7c7c" stroke-width="0.75"/>
<line x1="420.48" y1="39.30" x2="420.48" y2="48.80" stroke="#7c7c7c" stroke-width="0.75"/>
<line x1="403.40" y1="39.30" x2="403.40" y2="41.10" stroke="#7c7c7c" stroke-width="0.75"/>
<line x1="387.78" y1="41.10" x2="413.94" y2="41.10" stroke="#7c7c7c" stroke-width="0.75"/>
<line x1="387.78" y1="41.10" x2="387.78" y2="48.80" stroke="#7c7c7c" stroke-width="0.75"/>
<line x1="413.94" y1="41.10" x2="413.94" y2="48.80" stroke="#7c7c7c" stroke-width="0.75"/>
<line x1="400.90" y1="41.10" x2="400.90" y2="42.80" stroke="#7c7c7c" stroke-width="0.75"/>
<line x1="394.32" y1="42.80" x2="407.40" y2="42.80" stroke="#7c7c7c" stroke-width="0.75"/>
<line x1="394.32" y1="42.80" x2="394.32" y2="48.80" stroke="#7c7c7c" stroke-width="0.75"/>
<line x1="400.86" y1="42.80" x2="400.86" y2="48.80" stroke="#7c7c7c" stroke-width="0.75"/>
<line x1="407.40" y1="42.80" x2="407.40" y2="48.80" stroke="#7c7c7c" stroke-width="0.75"/>
<line x1="386.10" y1="34.20" x2="405.80" y2="34.20" stroke="#777" stroke-width="0.8"/>
<line x1="53.98" y1="152.90" x2="69.50" y2="152.90" stroke="#d6d6d6" stroke-width="1.1"/>
<line x1="54.93" y1="154.90" x2="69.50" y2="154.90" stroke="#d6d6d6" stroke-width="1.1"/>
<line x1="55.36" y1="156.90" x2="69.50" y2="156.90" stroke="#d6d6d6" stroke-width="1.1"/>
<line x1="56.54" y1="158.90" x2="69.50" y2="158.90" stroke="#d6d6d6" stroke-width="1.1"/>
<line x1="54.92" y1="160.90" x2="69.50" y2="160.90" stroke="#d6d6d6" stroke-width="1.1"/>
<line x1="61.38" y1="162.90" x2="69.50" y2="162.90" stroke="#d6d6d6" stroke-width="1.1"/>
<line x1="54.23" y1="164.90" x2="69.50" y2="164.90" stroke="#d6d6d6" stroke-width="1.1"/>
<line x1="57.72" y1="166.90" x2="69.50" y2="166.90" stroke="#d6d6d6" stroke-width="1.1"/>
<line x1="61.55" y1="168.90" x2="69.50" y2="168.90" stroke="#d6d6d6" stroke-width="1.1"/>
<line x1="54.19" y1="170.90" x2="69.50" y2="170.90" stroke="#d6d6d6" stroke-width="1.1"/>
<line x1="56.21" y1="172.90" x2="69.50" y2="172.90" stroke="#d6d6d6" stroke-width="1.1"/>
<line x1="49.91" y1="174.90" x2="69.50" y2="174.90" stroke="#d6d6d6" stroke-width="1.1"/>
<line x1="52.75" y1="176.90" x2="69.50" y2="176.90" stroke="#d6d6d6" stroke-width="1.1"/>
<line x1="50.97" y1="178.90" x2="69.50" y2="178.90" stroke="#d6d6d6" stroke-width="1.1"/>
<line x1="58.35" y1="180.90" x2="69.50" y2="180.90" stroke="#d6d6d6" stroke-width="1.1"/>
<line x1="58.59" y1="182.90" x2="69.50" y2="182.90" stroke="#d6d6d6" stroke-width="1.1"/>
<line x1="54.10" y1="184.90" x2="69.50" y2="184.90" stroke="#d6d6d6" stroke-width="1.1"/>
<line x1="55.73" y1="186.90" x2="69.50" y2="186.90" stroke="#d6d6d6" stroke-width="1.1"/>
<line x1="51.24" y1="188.90" x2="69.50" y2="188.90" stroke="#d6d6d6" stroke-width="1.1"/>
<line x1="56.33" y1="190.90" x2="69.50" y2="190.90" stroke="#d6d6d6" stroke-width="1.1"/>
<line x1="55.13" y1="192.90" x2="69.50" y2="192.90" stroke="#d6d6d6" stroke-width="1.1"/>
<line x1="50.28" y1="194.90" x2="69.50" y2="194.90" stroke="#d6d6d6" stroke-width="1.1"/>
<line x1="55.38" y1="196.90" x2="69.50" y2="196.90" stroke="#d6d6d6" stroke-width="1.1"/>
<line x1="55.11" y1="198.90" x2="69.50" y2="198.90" stroke="#d6d6d6" stroke-width="1.1"/>
<line x1="58.94" y1="200.90" x2="69.50" y2="200.90" stroke="#d6d6d6" stroke-width="1.1"/>
<line x1="55.01" y1="202.90" x2="69.50" y2="202.90" stroke="#d6d6d6" stroke-width="1.1"/>
<line x1="54.01" y1="204.90" x2="69.50" y2="204.90" stroke="#d6d6d6" stroke-width="1.1"/>
<line x1="55.97" y1="206.90" x2="69.50" y2="206.90" stroke="#d6d6d6" stroke-width="1.1"/>
<line x1="50.68" y1="208.90" x2="69.50" y2="208.90" stroke="#d6d6d6" stroke-width="1.1"/>
<line x1="50.72" y1="210.90" x2="69.50" y2="210.90" stroke="#d6d6d6" stroke-width="1.1"/>
<line x1="56.86" y1="212.90" x2="69.50" y2="212.90" stroke="#d6d6d6" stroke-width="1.1"/>
<line x1="55.98" y1="214.90" x2="69.50" y2="214.90" stroke="#d6d6d6" stroke-width="1.1"/>
<line x1="56.31" y1="216.90" x2="69.50" y2="216.90" stroke="#d6d6d6" stroke-width="1.1"/>
<line x1="61.69" y1="218.90" x2="69.50" y2="218.90" stroke="#d6d6d6" stroke-width="1.1"/>
<line x1="58.31" y1="220.90" x2="69.50" y2="220.90" stroke="#d6d6d6" stroke-width="1.1"/>
<line x1="59.42" y1="222.90" x2="69.50" y2="222.90" stroke="#d6d6d6" stroke-width="1.1"/>
<line x1="50.64" y1="224.90" x2="69.50" y2="224.90" stroke="#d6d6d6" stroke-width="1.1"/>
<line x1="56.53" y1="226.90" x2="69.50" y2="226.90" stroke="#d6d6d6" stroke-width="1.1"/>
<line x1="54.53" y1="228.90" x2="69.50" y2="228.90" stroke="#d6d6d6" stroke-width="1.1"/>
<line x1="56.73" y1="230.90" x2="69.50" y2="230.90" stroke="#d6d6d6" stroke-width="1.1"/>
<line x1="56.15" y1="232.90" x2="69.50" y2="232.90" stroke="#d6d6d6" stroke-width="1.1"/>
<line x1="56.39" y1="234.90" x2="69.50" y2="234.90" stroke="#d6d6d6" stroke-width="1.1"/>
<line x1="56.89" y1="236.90" x2="69.50" y2="236.90" stroke="#d6d6d6" stroke-width="1.1"/>
<line x1="55.33" y1="238.90" x2="69.50" y2="238.90" stroke="#d6d6d6" stroke-width="1.1"/>
<line x1="55.17" y1="240.90" x2="69.50" y2="240.90" stroke="#d6d6d6" stroke-width="1.1"/>
<line x1="49.52" y1="242.90" x2="69.50" y2="242.90" stroke="#d6d6d6" stroke-width="1.1"/>
<line x1="51.41" y1="244.90" x2="69.50" y2="244.90" stroke="#d6d6d6" stroke-width="1.1"/>
<line x1="61.82" y1="246.90" x2="69.50" y2="246.90" stroke="#d6d6d6" stroke-width="1.1"/>
<line x1="57.03" y1="248.90" x2="69.50" y2="248.90" stroke="#d6d6d6" stroke-width="1.1"/>
<line x1="57.42" y1="250.90" x2="69.50" y2="250.90" stroke="#d6d6d6" stroke-width="1.1"/>
<line x1="54.70" y1="252.90" x2="69.50" y2="252.90" stroke="#d6d6d6" stroke-width="1.1"/>
<line x1="54.48" y1="254.90" x2="69.50" y2="254.90" stroke="#d6d6d6" stroke-width="1.1"/>
<line x1="58.55" y1="256.90" x2="69.50" y2="256.90" stroke="#d6d6d6" stroke-width="1.1"/>
<line x1="60.85" y1="258.90" x2="69.50" y2="258.90" stroke="#d6d6d6" stroke-width="1.1"/>
<line x1="59.53" y1="260.90" x2="69.50" y2="260.90" stroke="#d6d6d6" stroke-width="1.1"/>
<line x1="60.85" y1="262.90" x2="69.50" y2="262.90" stroke="#d6d6d6" stroke-width="1.1"/>
<line x1="57.64" y1="264.90" x2="69.50" y2="264.90" stroke="#d6d6d6" stroke-width="1.1"/>
<line x1="52.46" y1="266.90" x2="69.50" y2="266.90" stroke="#d6d6d6" stroke-width="1.1"/>
<line x1="59.80" y1="268.90" x2="69.50" y2="268.90" stroke="#d6d6d6" stroke-width="1.1"/>
<line x1="52.18" y1="270.90" x2="69.50" y2="270.90" stroke="#d6d6d6" stroke-width="1.1"/>
<line x1="63.00" y1="272.90" x2="69.50" y2="272.90" stroke="#d6d6d6" stroke-width="1.1"/>
<line x1="63.76" y1="274.90" x2="69.50" y2="274.90" stroke="#d6d6d6" stroke-width="1.1"/>
<line x1="57.14" y1="276.90" x2="69.50" y2="276.90" stroke="#d6d6d6" stroke-width="1.1"/>
<line x1="58.30" y1="278.90" x2="69.50" y2="278.90" stroke="#d6d6d6" stroke-width="1.1"/>
<line x1="54.93" y1="280.90" x2="69.50" y2="280.90" stroke="#d6d6d6" stroke-width="1.1"/>
<line x1="56.63" y1="282.90" x2="69.50" y2="282.90" stroke="#d6d6d6" stroke-width="1.1"/>
<line x1="52.07" y1="284.90" x2="69.50" y2="284.90" stroke="#d6d6d6" stroke-width="1.1"/>
<line x1="57.37" y1="286.90" x2="69.50" y2="286.90" stroke="#d6d6d6" stroke-width="1.1"/>
<line x1="58.45" y1="288.90" x2="69.50" y2="288.90" stroke="#d6d6d6" stroke-width="1.1"/>
<line x1="61.64" y1="290.90" x2="69.50" y2="290.90" stroke="#d6d6d6" stroke-width="1.1"/>
<line x1="55.57" y1="292.90" x2="69.50" y2="292.90" stroke="#d6d6d6" stroke-width="1.1"/>
<line x1="60.05" y1="294.90" x2="69.50" y2="294.90" stroke="#d6d6d6" stroke-width="1.1"/>
<line x1="55.44" y1="296.90" x2="69.50" y2="296.90" stroke="#d6d6d6" stroke-width="1.1"/>
<line x1="55.54" y1="298.90" x2="69.50" y2="298.90" stroke="#d6d6d6" stroke-width="1.1"/>
<line x1="50.76" y1="300.90" x2="69.50" y2="300.90" stroke="#d6d6d6" stroke-width="1.1"/>
<line x1="50.84" y1="302.90" x2="69.50" y2="302.90" stroke="#d6d6d6" stroke-width="1.1"/>
<line x1="52.20" y1="304.90" x2="69.50" y2="304.90" stroke="#d6d6d6" stroke-width="1.1"/>
<line x1="60.20" y1="306.90" x2="69.50" y2="306.90" stroke="#d6d6d6" stroke-width="1.1"/>
<line x1="54.86" y1="308.90" x2="69.50" y2="308.90" stroke="#d6d6d6" stroke-width="1.1"/>
<line x1="59.99" y1="310.90" x2="69.50" y2="310.90" stroke="#d6d6d6" stroke-width="1.1"/>
<line x1="54.38" y1="312.90" x2="69.50" y2="312.90" stroke="#d6d6d6" stroke-width="1.1"/>
<line x1="54.88" y1="314.90" x2="69.50" y2="314.90" stroke="#d6d6d6" stroke-width="1.1"/>
<line x1="48.29" y1="316.90" x2="69.50" y2="316.90" stroke="#d6d6d6" stroke-width="1.1"/>
<line x1="55.57" y1="318.90" x2="69.50" y2="318.90" stroke="#d6d6d6" stroke-width="1.1"/>
<line x1="48.73" y1="320.90" x2="69.50" y2="320.90" stroke="#d6d6d6" stroke-width="1.1"/>
<line x1="56.73" y1="322.90" x2="69.50" y2="322.90" stroke="#d6d6d6" stroke-width="1.1"/>
<line x1="58.89" y1="324.90" x2="69.50" y2="324.90" stroke="#d6d6d6" stroke-width="1.1"/>
<line x1="61.34" y1="326.90" x2="69.50" y2="326.90" stroke="#d6d6d6" stroke-width="1.1"/>
<line x1="50.72" y1="328.90" x2="69.50" y2="328.90" stroke="#d6d6d6" stroke-width="1.1"/>
<line x1="55.39" y1="330.90" x2="69.50" y2="330.90" stroke="#d6d6d6" stroke-width="1.1"/>
<line x1="52.36" y1="332.90" x2="69.50" y2="332.90" stroke="#d6d6d6" stroke-width="1.1"/>
<line x1="50.50" y1="334.90" x2="69.50" y2="334.90" stroke="#d6d6d6" stroke-width="1.1"/>
<line x1="50.53" y1="336.90" x2="69.50" y2="336.90" stroke="#d6d6d6" stroke-width="1.1"/>
<line x1="55.42" y1="338.90" x2="69.50" y2="338.90" stroke="#d6d6d6" stroke-width="1.1"/>
<line x1="54.63" y1="340.90" x2="69.50" y2="340.90" stroke="#d6d6d6" stroke-width="1.1"/>
<line x1="55.19" y1="342.90" x2="69.50" y2="342.90" stroke="#d6d6d6" stroke-width="1.1"/>
<line x1="53.51" y1="344.90" x2="69.50" y2="344.90" stroke="#d6d6d6" stroke-width="1.1"/>
<line x1="43.90" y1="152.50" x2="43.90" y2="240.40" stroke="#b4b4b4" stroke-width="0.5"/>
<line x1="47.80" y1="156.00" x2="47.80" y2="232.00" stroke="#b4b4b4" stroke-width="0.5"/>
<line x1="53.60" y1="170.00" x2="53.60" y2="215.00" stroke="#b4b4b4" stroke-width="0.5"/>
<line x1="50.50" y1="160.00" x2="50.50" y2="186.00" stroke="#b4b4b4" stroke-width="0.5"/>
<line x1="56.50" y1="175.00" x2="56.50" y2="200.00" stroke="#b4b4b4" stroke-width="0.5"/>
<line x1="49.50" y1="246.00" x2="49.50" y2="300.00" stroke="#b4b4b4" stroke-width="0.5"/>
<line x1="54.00" y1="250.00" x2="54.00" y2="290.00" stroke="#b4b4b4" stroke-width="0.5"/>
<line x1="58.50" y1="258.00" x2="58.50" y2="282.00" stroke="#b4b4b4" stroke-width="0.5"/>
<line x1="45.50" y1="292.00" x2="45.50" y2="340.00" stroke="#b4b4b4" stroke-width="0.5"/>
<line x1="51.00" y1="300.00" x2="51.00" y2="330.00" stroke="#b4b4b4" stroke-width="0.5"/>
<line x1="53.50" y1="318.00" x2="53.50" y2="344.00" stroke="#b4b4b4" stroke-width="0.5"/>
<line x1="60.00" y1="296.00" x2="60.00" y2="312.00" stroke="#b4b4b4" stroke-width="0.5"/>
<line x1="36.90" y1="232.00" x2="36.90" y2="246.50" stroke="#999" stroke-width="0.7"/>
<line x1="1.00" y1="240.40" x2="36.90" y2="240.40" stroke="#a0a0a0" stroke-width="0.6"/>
<line x1="0.80" y1="240.40" x2="0.80" y2="297.30" stroke="#1a1a1a" stroke-width="1.6"/>
<line x1="1.00" y1="297.30" x2="31.50" y2="297.30" stroke="#a0a0a0" stroke-width="0.6"/>
<line x1="31.50" y1="291.20" x2="31.50" y2="302.70" stroke="#999" stroke-width="0.7"/>
<line x1="31.50" y1="291.20" x2="45.50" y2="291.20" stroke="#aaa" stroke-width="0.6"/>
<line x1="31.50" y1="302.70" x2="42.00" y2="302.70" stroke="#aaa" stroke-width="0.6"/>
<line x1="42.00" y1="298.00" x2="42.00" y2="346.00" stroke="#aaa" stroke-width="0.6"/>
<line x1="36.90" y1="246.50" x2="49.50" y2="246.50" stroke="#aaa" stroke-width="0.6"/>
<line x1="36.90" y1="232.00" x2="43.90" y2="232.00" stroke="#aaa" stroke-width="0.6"/>
<line x1="64.50" y1="318.00" x2="64.50" y2="336.00" stroke="#6a78c0" stroke-width="0.7"/>
<line x1="64.50" y1="319.00" x2="69.50" y2="319.00" stroke="#9aa4d8" stroke-width="0.6"/>
<line x1="64.50" y1="322.00" x2="69.50" y2="322.00" stroke="#9aa4d8" stroke-width="0.6"/>
<line x1="64.50" y1="325.00" x2="69.50" y2="325.00" stroke="#9aa4d8" stroke-width="0.6"/>
<line x1="64.50" y1="328.00" x2="69.50" y2="328.00" stroke="#9aa4d8" stroke-width="0.6"/>
<line x1="64.50" y1="331.00" x2="69.50" y2="331.00" stroke="#9aa4d8" stroke-width="0.6"/>
<line x1="64.50" y1="334.00" x2="69.50" y2="334.00" stroke="#9aa4d8" stroke-width="0.6"/>
</svg>
</body></html>
